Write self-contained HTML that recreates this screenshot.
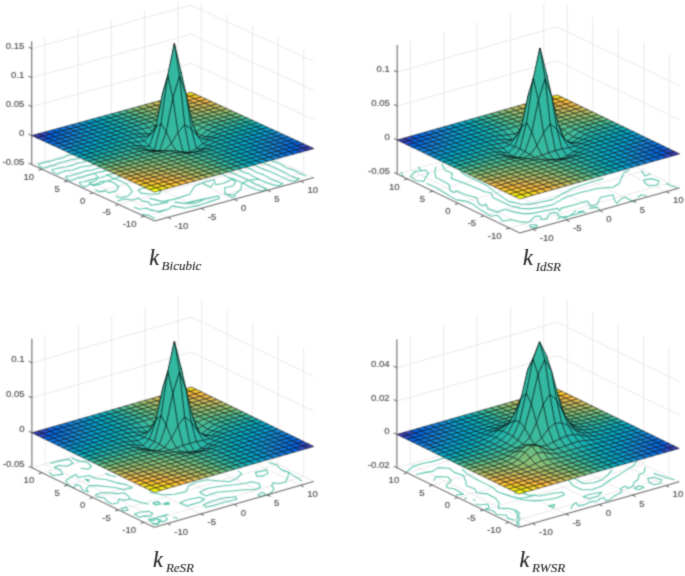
<!DOCTYPE html>
<html><head><meta charset="utf-8"><title>kernels</title>
<style>html,body{margin:0;padding:0;background:#fff;}svg{display:block;}</style></head>
<body>
<svg width="685" height="576" viewBox="0 0 685 576">
<defs><filter id="b" filterUnits="userSpaceOnUse" x="-10" y="-10" width="705" height="596" color-interpolation-filters="sRGB"><feConvolveMatrix order="5" kernelMatrix="0.00004 0.00117 0.00370 0.00117 0.00004 0.00117 0.03677 0.11586 0.03677 0.00117 0.00370 0.11586 0.36513 0.11586 0.00370 0.00117 0.03677 0.11586 0.03677 0.00117 0.00004 0.00117 0.00370 0.00117 0.00004" edgeMode="duplicate" preserveAlpha="true"/></filter><filter id="b2" filterUnits="userSpaceOnUse" x="-10" y="-10" width="705" height="596" color-interpolation-filters="sRGB"><feConvolveMatrix order="5" kernelMatrix="0.00000 0.00006 0.00035 0.00006 0.00000 0.00006 0.01430 0.09087 0.01430 0.00006 0.00035 0.09087 0.57743 0.09087 0.00035 0.00006 0.01430 0.09087 0.01430 0.00006 0.00000 0.00006 0.00035 0.00006 0.00000" edgeMode="none" preserveAlpha="false"/></filter></defs>
<rect width="685" height="576" fill="#fff"/>
<g filter="url(#b)">
<rect x="-10" y="-10" width="705" height="596" fill="#fff"/>
<g><path d="M167.88 217.38L45 160.98M144.36 216.3L303.72 172.91M45 160.98L45 37.56M303.72 172.91L303.72 49.48M201.08 208.34L78.2 151.94M118.76 204.55L278.12 161.16M78.2 151.94L78.2 28.52M278.12 161.16L278.12 37.73M234.28 199.3L111.4 142.9M93.16 192.8L252.52 149.41M111.4 142.9L111.4 19.48M252.52 149.41L252.52 25.98M267.48 190.26L144.6 133.86M67.56 181.05L226.92 137.66M144.6 133.86L144.6 10.44M226.92 137.66L226.92 14.23M300.68 181.22L177.8 124.82M41.96 169.3L201.32 125.91M177.8 124.82L177.8 1.4M201.32 125.91L201.32 2.48M31.72 164.6L191.08 121.21M191.08 121.21L313.96 177.61M31.72 135.6L191.08 92.21M191.08 92.21L313.96 148.61M31.72 106.6L191.08 63.21M191.08 63.21L313.96 119.61M31.72 77.6L191.08 34.21M191.08 34.21L313.96 90.61M31.72 48.6L191.08 5.21M191.08 5.21L313.96 61.61" stroke="#e3e3e3" stroke-width="0.8" fill="none"/>
<path d="M38.99 166.11L38.42 164.01L43.36 162.85L48.29 161.59L53.23 160.47L58.16 158.85L63.09 157.78L68.03 155.16L72.96 154.46M38.99 166.11L43.23 168.21L48.51 166.36L53.79 165.29L59.08 162.74L64.36 161.82L69.65 160.08L74.93 159.07L80.22 157.69M52.68 171.81L52.12 169.51L57.17 168.44L62.22 167.17L67.27 166.71L72.32 165.13L77.37 162.9L82.42 162.45L87.47 160.15M52.68 171.81L56.92 174.12L62.32 171.96L67.72 170.32L73.12 170.1L78.52 167.7L83.93 166.25L89.33 165.89L94.73 164.27M66.37 178.59L65.81 176.28L70.98 175.85L76.14 173.85L81.31 172.65L86.48 170.58L91.65 170.24L96.82 168.49L101.98 167.49M66.37 178.59L70.61 180.89L76.13 178.55L81.65 177.15L87.17 175.38L92.68 173.86L98.2 172.25L103.72 171.1L109.24 170.04M80.06 184.62L79.5 182.25L84.79 181.79L90.07 179.88L95.36 178.41L100.64 177.71L105.92 175.8L111.21 174.14L116.49 172.95M80.06 184.62L84.3 186.99L89.94 184.55L95.57 184.34L101.21 181.45L106.84 180.97L112.48 179.59L118.11 176.88L123.75 176.46M95.44 174.52L98.51 177.59L95.44 180.66L89.31 182.7L93.4 185.77L101.57 183.72L106.68 180.66L113.84 182.7L118.95 186.79L115.88 190.87L108.73 192.92L105.66 190.87L99.53 191.9L95.44 189.85M106.68 174.52L111.79 177.59L119.97 180.66L126.1 183.72L130.19 187.81L132.23 191.9L128.14 195.98L119.97 198.03L115.88 195.98M138.36 189.85L144.49 187.81L154.71 188.83L160.84 190.87L158.8 193.94L148.58 193.94L140.41 192.92L138.36 189.85M117.92 201.09L124.06 199.05L132.23 200.07L138.36 198.03L142.45 201.09L148.58 202.12L150.62 205.18L158.8 204.16L168 202.12M134.27 207.22L139.38 209.27L146.54 208.25L150.62 210.29L158.8 211.31L168 209.27M142.45 214.38L148.58 215.4L154.71 218.47M262.02 190.93L255.9 189.52L250.36 187.23L244.35 183.77L238.71 181.22L233.12 178.81L227.92 177.36L221.8 173.62M262.02 190.93L266.66 188.87L260.6 186.29L254.44 183.47L247.92 179.75L241.76 176.93L235.7 174.35L229.69 171.88M278.4 185.91L272.33 184.62L266.79 182.85L260.91 180.2L255.03 177.57L248.62 173.63L243.25 172.26L236.83 168.26M278.4 185.91L282.99 183.73L276.74 181.18L270.51 178.69L263.75 174.88L257.69 172.8L251.05 169.29L244.5 165.99M294.96 181.33L289.03 180.41L282.79 177.37L276.56 174.38L270.44 171.65L264.6 169.62L258.62 167.25L251.96 163.17M294.96 181.33L299.4 178.78L293.29 177.11L286.36 173.37L279.63 170.12L272.87 166.81L266.42 164.27L259.9 161.56M305.69 176.1L299.26 173.1L292.63 169.6L286.73 167.94L279.8 163.67L273.66 161.41L267.45 158.97M150 198.4L162.41 201.63L174.82 199.14L189.71 194.18L194.68 185.99L205.85 181.77L214.04 179.78L215.77 184.75L223.22 183.51L231.91 179.29L235.63 181.77L233.15 185.99L224.46 187.73L225.7 194.18L234.39 194.68L240.59 189.71L241.83 183.51L248.04 180.28L259.21 179.29M150 209.57L159.93 212.05L167.37 209.57L172.34 205.85L184.75 208.33L199.64 205.1L212.05 200.88L219.5 198.4L218.26 195.92L207.09 198.4L194.68 200.88L184.75 203.36L174.82 202.12M187.23 203.36L197.16 202.62L203.36 199.64M203.36 183.51L210.81 187.23L213.29 183.51M224.46 193.44L231.91 197.16L235.63 195.92" stroke="#5cc4ae" stroke-width="1.1" fill="none" stroke-linecap="round" stroke-linejoin="round"/>
<g stroke="#000" stroke-width="0.5" stroke-opacity="1" stroke-linejoin="round"><polygon points="189.56,96.37 196.2,94.56 191.08,92.21 184.44,94.02" fill="#f7d826"/><polygon points="194.68,98.72 201.32,96.91 196.2,94.56 189.56,96.37" fill="#fdcb30"/><polygon points="199.8,101.07 206.44,99.26 201.32,96.91 194.68,98.72" fill="#febf3c"/><polygon points="204.92,103.42 211.56,101.61 206.44,99.26 199.8,101.07" fill="#efb94b"/><polygon points="210.04,105.77 216.68,103.96 211.56,101.61 204.92,103.42" fill="#dcba54"/><polygon points="215.16,108.12 221.8,106.31 216.68,103.96 210.04,105.77" fill="#c8bc5d"/><polygon points="220.28,110.47 226.92,108.66 221.8,106.31 215.16,108.12" fill="#b3bd65"/><polygon points="225.4,112.82 232.04,111.01 226.92,108.66 220.28,110.47" fill="#9dbf6e"/><polygon points="230.52,115.17 237.16,113.36 232.04,111.01 225.4,112.82" fill="#84bf78"/><polygon points="235.64,117.52 242.28,115.71 237.16,113.36 230.52,115.17" fill="#69be84"/><polygon points="240.76,119.87 247.4,118.06 242.28,115.71 235.64,117.52" fill="#4cbc92"/><polygon points="245.88,122.22 252.52,120.41 247.4,118.06 240.76,119.87" fill="#33b8a1"/><polygon points="251,124.57 257.64,122.76 252.52,120.41 245.88,122.22" fill="#1eb3ae"/><polygon points="256.12,126.92 262.76,125.11 257.64,122.76 251,124.57" fill="#0daeba"/><polygon points="261.24,129.27 267.88,127.46 262.76,125.11 256.12,126.92" fill="#06a7c5"/><polygon points="266.36,131.62 273,129.81 267.88,127.46 261.24,129.27" fill="#06a0cd"/><polygon points="271.48,133.97 278.12,132.16 273,129.81 266.36,131.62" fill="#0b96d1"/><polygon points="276.6,136.32 283.24,134.51 278.12,132.16 271.48,133.97" fill="#1389d3"/><polygon points="281.72,138.67 288.36,136.86 283.24,134.51 276.6,136.32" fill="#137fd7"/><polygon points="286.84,141.02 293.48,139.21 288.36,136.86 281.72,138.67" fill="#0e76dc"/><polygon points="291.96,143.37 298.6,141.56 293.48,139.21 286.84,141.02" fill="#046ce0"/><polygon points="297.08,145.72 303.72,143.91 298.6,141.56 291.96,143.37" fill="#0a5fdf"/><polygon points="302.2,148.07 308.84,146.26 303.72,143.91 297.08,145.72" fill="#2b4bc7"/><polygon points="307.32,150.42 313.96,148.61 308.84,146.26 302.2,148.07" fill="#353aa8"/><polygon points="182.92,98.17 189.56,96.37 184.44,94.02 177.8,95.82" fill="#fdcb30"/><polygon points="188.04,100.52 194.68,98.72 189.56,96.37 182.92,98.17" fill="#fec03b"/><polygon points="193.16,102.87 199.8,101.07 194.68,98.72 188.04,100.52" fill="#f2b949"/><polygon points="198.28,105.22 204.92,103.42 199.8,101.07 193.16,102.87" fill="#e1b952"/><polygon points="203.4,107.57 210.04,105.77 204.92,103.42 198.28,105.22" fill="#cfbb5a"/><polygon points="208.52,109.92 215.16,108.12 210.04,105.77 203.4,107.57" fill="#bdbd61"/><polygon points="213.64,112.27 220.28,110.47 215.16,108.12 208.52,109.92" fill="#a9be69"/><polygon points="218.76,114.62 225.4,112.82 220.28,110.47 213.64,112.27" fill="#94bf72"/><polygon points="223.88,116.97 230.52,115.17 225.4,112.82 218.76,114.62" fill="#7dbf7b"/><polygon points="229,119.32 235.64,117.52 230.52,115.17 223.88,116.97" fill="#63be86"/><polygon points="234.12,121.67 240.76,119.87 235.64,117.52 229,119.32" fill="#4abc94"/><polygon points="239.24,124.02 245.88,122.22 240.76,119.87 234.12,121.67" fill="#33b8a1"/><polygon points="244.36,126.37 251,124.57 245.88,122.22 239.24,124.02" fill="#1fb4ad"/><polygon points="249.48,128.72 256.12,126.92 251,124.57 244.36,126.37" fill="#10afb8"/><polygon points="254.6,131.07 261.24,129.27 256.12,126.92 249.48,128.72" fill="#07a9c2"/><polygon points="259.72,133.42 266.36,131.62 261.24,129.27 254.6,131.07" fill="#06a3cb"/><polygon points="264.84,135.77 271.48,133.97 266.36,131.62 259.72,133.42" fill="#089bd0"/><polygon points="269.96,138.12 276.6,136.32 271.48,133.97 264.84,135.77" fill="#0f90d2"/><polygon points="275.08,140.47 281.72,138.67 276.6,136.32 269.96,138.12" fill="#1485d4"/><polygon points="280.2,142.82 286.84,141.02 281.72,138.67 275.08,140.47" fill="#127dd8"/><polygon points="285.32,145.17 291.96,143.37 286.84,141.02 280.2,142.82" fill="#0c74dd"/><polygon points="290.44,147.52 297.08,145.72 291.96,143.37 285.32,145.17" fill="#036be0"/><polygon points="295.56,149.87 302.2,148.07 297.08,145.72 290.44,147.52" fill="#0a5fdf"/><polygon points="300.68,152.22 307.32,150.42 302.2,148.07 295.56,149.87" fill="#294cca"/><polygon points="176.28,99.98 182.92,98.17 177.8,95.82 171.16,97.63" fill="#febf3c"/><polygon points="181.4,102.33 188.04,100.52 182.92,98.17 176.28,99.98" fill="#f2b949"/><polygon points="186.52,104.68 193.16,102.87 188.04,100.52 181.4,102.33" fill="#e3b951"/><polygon points="191.64,107.03 198.28,105.22 193.16,102.87 186.52,104.68" fill="#d3bb58"/><polygon points="196.76,109.38 203.4,107.57 198.28,105.22 191.64,107.03" fill="#c2bc5f"/><polygon points="201.88,111.73 208.52,109.92 203.4,107.57 196.76,109.38" fill="#b1bd66"/><polygon points="207,114.08 213.64,112.27 208.52,109.92 201.88,111.73" fill="#9fbe6d"/><polygon points="212.12,116.43 218.76,114.62 213.64,112.27 207,114.08" fill="#8bbf75"/><polygon points="217.24,118.78 223.88,116.97 218.76,114.62 212.12,116.43" fill="#75bf7e"/><polygon points="222.36,121.13 229,119.32 223.88,116.97 217.24,118.78" fill="#5ebe89"/><polygon points="227.48,123.48 234.12,121.67 229,119.32 222.36,121.13" fill="#47bb95"/><polygon points="232.6,125.83 239.24,124.02 234.12,121.67 227.48,123.48" fill="#33b8a1"/><polygon points="237.72,128.18 244.36,126.37 239.24,124.02 232.6,125.83" fill="#21b4ac"/><polygon points="242.84,130.53 249.48,128.72 244.36,126.37 237.72,128.18" fill="#13b0b6"/><polygon points="247.96,132.88 254.6,131.07 249.48,128.72 242.84,130.53" fill="#09abbf"/><polygon points="253.08,135.23 259.72,133.42 254.6,131.07 247.96,132.88" fill="#06a6c7"/><polygon points="258.2,137.58 264.84,135.77 259.72,133.42 253.08,135.23" fill="#069fce"/><polygon points="263.32,139.93 269.96,138.12 264.84,135.77 258.2,137.58" fill="#0a97d1"/><polygon points="268.44,142.28 275.08,140.47 269.96,138.12 263.32,139.93" fill="#118dd2"/><polygon points="273.56,144.63 280.2,142.82 275.08,140.47 268.44,142.28" fill="#1484d4"/><polygon points="278.68,146.98 285.32,145.17 280.2,142.82 273.56,144.63" fill="#127cd8"/><polygon points="283.8,149.33 290.44,147.52 285.32,145.17 278.68,146.98" fill="#0c74dd"/><polygon points="288.92,151.68 295.56,149.87 290.44,147.52 283.8,149.33" fill="#046ce0"/><polygon points="294.04,154.03 300.68,152.22 295.56,149.87 288.92,151.68" fill="#0462e0"/><polygon points="169.64,101.79 176.28,99.98 171.16,97.63 164.52,99.44" fill="#efb94b"/><polygon points="174.76,104.14 181.4,102.33 176.28,99.98 169.64,101.79" fill="#e1b952"/><polygon points="179.88,106.49 186.52,104.68 181.4,102.33 174.76,104.14" fill="#d3bb58"/><polygon points="185,108.84 191.64,107.03 186.52,104.68 179.88,106.49" fill="#c4bc5e"/><polygon points="190.12,111.19 196.76,109.38 191.64,107.03 185,108.84" fill="#b5bd64"/><polygon points="195.24,113.54 201.88,111.73 196.76,109.38 190.12,111.19" fill="#a5be6b"/><polygon points="200.36,115.89 207,114.08 201.88,111.73 195.24,113.54" fill="#94bf72"/><polygon points="205.48,118.24 212.12,116.43 207,114.08 200.36,115.89" fill="#82bf79"/><polygon points="210.6,120.59 217.24,118.78 212.12,116.43 205.48,118.24" fill="#6ebf82"/><polygon points="215.72,122.94 222.36,121.13 217.24,118.78 210.6,120.59" fill="#59bd8c"/><polygon points="220.84,125.29 227.48,123.48 222.36,121.13 215.72,122.94" fill="#45bb96"/><polygon points="225.96,127.64 232.6,125.83 227.48,123.48 220.84,125.29" fill="#33b8a1"/><polygon points="231.08,129.99 237.72,128.18 232.6,125.83 225.96,127.64" fill="#23b4ab"/><polygon points="236.2,132.34 242.84,130.53 237.72,128.18 231.08,129.99" fill="#15b1b4"/><polygon points="241.32,134.69 247.96,132.88 242.84,130.53 236.2,132.34" fill="#0badbc"/><polygon points="246.44,137.04 253.08,135.23 247.96,132.88 241.32,134.69" fill="#06a8c4"/><polygon points="251.56,139.39 258.2,137.58 253.08,135.23 246.44,137.04" fill="#06a3cb"/><polygon points="256.68,141.74 263.32,139.93 258.2,137.58 251.56,139.39" fill="#079ccf"/><polygon points="261.8,144.09 268.44,142.28 263.32,139.93 256.68,141.74" fill="#0c94d2"/><polygon points="266.92,146.44 273.56,144.63 268.44,142.28 261.8,144.09" fill="#128cd2"/><polygon points="272.04,148.79 278.68,146.98 273.56,144.63 266.92,146.44" fill="#1484d4"/><polygon points="277.16,151.14 283.8,149.33 278.68,146.98 272.04,148.79" fill="#127dd8"/><polygon points="282.28,153.49 288.92,151.68 283.8,149.33 277.16,151.14" fill="#0e76dc"/><polygon points="287.4,155.84 294.04,154.03 288.92,151.68 282.28,153.49" fill="#066fdf"/><polygon points="163,103.6 169.64,101.79 164.52,99.44 157.88,101.25" fill="#dcba54"/><polygon points="168.12,105.95 174.76,104.14 169.64,101.79 163,103.6" fill="#cfbb5a"/><polygon points="173.24,108.3 179.88,106.49 174.76,104.14 168.12,105.95" fill="#c2bc5f"/><polygon points="178.36,110.65 185,108.84 179.88,106.49 173.24,108.3" fill="#b5bd64"/><polygon points="183.48,113 190.12,111.19 185,108.84 178.36,110.65" fill="#a7be6a"/><polygon points="188.6,115.35 195.24,113.54 190.12,111.19 183.48,113" fill="#98bf70"/><polygon points="193.72,117.7 200.36,115.89 195.24,113.54 188.6,115.35" fill="#89bf76"/><polygon points="198.84,120.05 205.48,118.24 200.36,115.89 193.72,117.7" fill="#78bf7d"/><polygon points="203.96,122.41 210.6,120.59 205.48,118.24 198.84,120.05" fill="#66be85"/><polygon points="209.08,124.78 215.72,122.94 210.6,120.59 203.96,122.41" fill="#54bd8e"/><polygon points="214.2,127.14 220.84,125.29 215.72,122.94 209.08,124.78" fill="#42bb98"/><polygon points="219.32,129.48 225.96,127.64 220.84,125.29 214.2,127.14" fill="#33b8a1"/><polygon points="224.44,131.81 231.08,129.99 225.96,127.64 219.32,129.48" fill="#25b5aa"/><polygon points="229.56,134.15 236.2,132.34 231.08,129.99 224.44,131.81" fill="#19b2b2"/><polygon points="234.68,136.5 241.32,134.69 236.2,132.34 229.56,134.15" fill="#0faeb9"/><polygon points="239.8,138.85 246.44,137.04 241.32,134.69 234.68,136.5" fill="#08aac0"/><polygon points="244.92,141.2 251.56,139.39 246.44,137.04 239.8,138.85" fill="#06a6c7"/><polygon points="250.04,143.55 256.68,141.74 251.56,139.39 244.92,141.2" fill="#06a1cc"/><polygon points="255.16,145.9 261.8,144.09 256.68,141.74 250.04,143.55" fill="#079cd0"/><polygon points="260.28,148.25 266.92,146.44 261.8,144.09 255.16,145.9" fill="#0c94d2"/><polygon points="265.4,150.6 272.04,148.79 266.92,146.44 260.28,148.25" fill="#118dd2"/><polygon points="270.52,152.95 277.16,151.14 272.04,148.79 265.4,150.6" fill="#1485d4"/><polygon points="275.64,155.3 282.28,153.49 277.16,151.14 270.52,152.95" fill="#137fd7"/><polygon points="280.76,157.65 287.4,155.84 282.28,153.49 275.64,155.3" fill="#1079da"/><polygon points="156.36,105.41 163,103.6 157.88,101.25 151.24,103.06" fill="#c8bc5d"/><polygon points="161.48,107.76 168.12,105.95 163,103.6 156.36,105.41" fill="#bdbd61"/><polygon points="166.6,110.11 173.24,108.3 168.12,105.95 161.48,107.76" fill="#b1bd66"/><polygon points="171.72,112.46 178.36,110.65 173.24,108.3 166.6,110.11" fill="#a5be6b"/><polygon points="176.84,114.81 183.48,113 178.36,110.65 171.72,112.46" fill="#98bf70"/><polygon points="181.96,117.15 188.6,115.35 183.48,113 176.84,114.81" fill="#8bbf75"/><polygon points="187.08,119.48 193.72,117.7 188.6,115.35 181.96,117.15" fill="#7dbf7b"/><polygon points="192.2,121.85 198.84,120.05 193.72,117.7 187.08,119.48" fill="#6ebf82"/><polygon points="197.32,124.58 203.96,122.41 198.84,120.05 192.2,121.85" fill="#5ebe89"/><polygon points="202.44,127.55 209.08,124.78 203.96,122.41 197.32,124.58" fill="#4fbc91"/><polygon points="207.56,130.27 214.2,127.14 209.08,124.78 202.44,127.55" fill="#40ba99"/><polygon points="212.68,132.25 219.32,129.48 214.2,127.14 207.56,130.27" fill="#33b8a1"/><polygon points="217.8,133.98 224.44,131.81 219.32,129.48 212.68,132.25" fill="#27b5a8"/><polygon points="222.92,135.95 229.56,134.15 224.44,131.81 217.8,133.98" fill="#1cb3b0"/><polygon points="228.04,138.28 234.68,136.5 229.56,134.15 222.92,135.95" fill="#13b0b6"/><polygon points="233.16,140.65 239.8,138.85 234.68,136.5 228.04,138.28" fill="#0badbc"/><polygon points="238.28,143.01 244.92,141.2 239.8,138.85 233.16,140.65" fill="#07a9c2"/><polygon points="243.4,145.36 250.04,143.55 244.92,141.2 238.28,143.01" fill="#06a6c7"/><polygon points="248.52,147.71 255.16,145.9 250.04,143.55 243.4,145.36" fill="#06a1cc"/><polygon points="253.64,150.06 260.28,148.25 255.16,145.9 248.52,147.71" fill="#079ccf"/><polygon points="258.76,152.41 265.4,150.6 260.28,148.25 253.64,150.06" fill="#0a97d1"/><polygon points="263.88,154.76 270.52,152.95 265.4,150.6 258.76,152.41" fill="#0f90d2"/><polygon points="269,157.11 275.64,155.3 270.52,152.95 263.88,154.76" fill="#1389d3"/><polygon points="274.12,159.46 280.76,157.65 275.64,155.3 269,157.11" fill="#1484d4"/><polygon points="149.72,107.21 156.36,105.41 151.24,103.06 144.6,104.86" fill="#b3bd65"/><polygon points="154.84,109.56 161.48,107.76 156.36,105.41 149.72,107.21" fill="#a9be69"/><polygon points="159.96,111.91 166.6,110.11 161.48,107.76 154.84,109.56" fill="#9fbe6d"/><polygon points="165.08,114.26 171.72,112.46 166.6,110.11 159.96,111.91" fill="#94bf72"/><polygon points="170.2,116.61 176.84,114.81 171.72,112.46 165.08,114.26" fill="#89bf76"/><polygon points="175.32,118.94 181.96,117.15 176.84,114.81 170.2,116.61" fill="#7dbf7b"/><polygon points="180.44,121.27 187.08,119.48 181.96,117.15 175.32,118.94" fill="#70bf81"/><polygon points="185.56,123.82 192.2,121.85 187.08,119.48 180.44,121.27" fill="#63be86"/><polygon points="190.68,127.56 197.32,124.58 192.2,121.85 185.56,123.82" fill="#56bd8d"/><polygon points="195.8,131.99 202.44,127.55 197.32,124.58 190.68,127.56" fill="#4abc94"/><polygon points="200.92,135.59 207.56,130.27 202.44,127.55 195.8,131.99" fill="#3eba9a"/><polygon points="206.04,136.69 212.68,132.25 207.56,130.27 200.92,135.59" fill="#33b8a1"/><polygon points="211.16,136.96 217.8,133.98 212.68,132.25 206.04,136.69" fill="#29b6a7"/><polygon points="216.28,137.92 222.92,135.95 217.8,133.98 211.16,136.96" fill="#1fb4ad"/><polygon points="221.4,140.07 228.04,138.28 222.92,135.95 216.28,137.92" fill="#17b1b3"/><polygon points="226.52,142.44 233.16,140.65 228.04,138.28 221.4,140.07" fill="#10afb8"/><polygon points="231.64,144.81 238.28,143.01 233.16,140.65 226.52,142.44" fill="#0aacbd"/><polygon points="236.76,147.16 243.4,145.36 238.28,143.01 231.64,144.81" fill="#07a9c2"/><polygon points="241.88,149.51 248.52,147.71 243.4,145.36 236.76,147.16" fill="#06a6c7"/><polygon points="247,151.86 253.64,150.06 248.52,147.71 241.88,149.51" fill="#06a3cb"/><polygon points="252.12,154.21 258.76,152.41 253.64,150.06 247,151.86" fill="#069fce"/><polygon points="257.24,156.56 263.88,154.76 258.76,152.41 252.12,154.21" fill="#089bd0"/><polygon points="262.36,158.91 269,157.11 263.88,154.76 257.24,156.56" fill="#0b96d1"/><polygon points="267.48,161.26 274.12,159.46 269,157.11 262.36,158.91" fill="#0f90d2"/><polygon points="143.08,109.02 149.72,107.21 144.6,104.86 137.96,106.67" fill="#9dbf6e"/><polygon points="148.2,111.37 154.84,109.56 149.72,107.21 143.08,109.02" fill="#94bf72"/><polygon points="153.32,113.72 159.96,111.91 154.84,109.56 148.2,111.37" fill="#8bbf75"/><polygon points="158.44,116.07 165.08,114.26 159.96,111.91 153.32,113.72" fill="#82bf79"/><polygon points="163.56,118.43 170.2,116.61 165.08,114.26 158.44,116.07" fill="#78bf7d"/><polygon points="168.68,120.77 175.32,118.94 170.2,116.61 163.56,118.43" fill="#6ebf82"/><polygon points="173.8,123.27 180.44,121.27 175.32,118.94 168.68,120.77" fill="#63be86"/><polygon points="178.92,126 185.56,123.82 180.44,121.27 173.8,123.27" fill="#59bd8c"/><polygon points="184.04,130.18 190.68,127.56 185.56,123.82 178.92,126" fill="#4fbc91"/><polygon points="189.16,135.52 195.8,131.99 190.68,127.56 184.04,130.18" fill="#45bb96"/><polygon points="194.28,139.86 200.92,135.59 195.8,131.99 189.16,135.52" fill="#3bba9c"/><polygon points="199.4,140.22 206.04,136.69 200.92,135.59 194.28,139.86" fill="#33b8a1"/><polygon points="204.52,139.58 211.16,136.96 206.04,136.69 199.4,140.22" fill="#2bb6a6"/><polygon points="209.64,140.1 216.28,137.92 211.16,136.96 204.52,139.58" fill="#23b4ab"/><polygon points="214.76,142.07 221.4,140.07 216.28,137.92 209.64,140.1" fill="#1cb3b0"/><polygon points="219.88,144.27 226.52,142.44 221.4,140.07 214.76,142.07" fill="#15b1b4"/><polygon points="225,146.63 231.64,144.81 226.52,142.44 219.88,144.27" fill="#10afb8"/><polygon points="230.12,148.97 236.76,147.16 231.64,144.81 225,146.63" fill="#0badbc"/><polygon points="235.24,151.32 241.88,149.51 236.76,147.16 230.12,148.97" fill="#08aac0"/><polygon points="240.36,153.67 247,151.86 241.88,149.51 235.24,151.32" fill="#06a8c4"/><polygon points="245.48,156.02 252.12,154.21 247,151.86 240.36,153.67" fill="#06a6c7"/><polygon points="250.6,158.37 257.24,156.56 252.12,154.21 245.48,156.02" fill="#06a3cb"/><polygon points="255.72,160.72 262.36,158.91 257.24,156.56 250.6,158.37" fill="#06a0cd"/><polygon points="260.84,163.07 267.48,161.26 262.36,158.91 255.72,160.72" fill="#079ccf"/><polygon points="136.44,110.83 143.08,109.02 137.96,106.67 131.32,108.48" fill="#84bf78"/><polygon points="141.56,113.18 148.2,111.37 143.08,109.02 136.44,110.83" fill="#7dbf7b"/><polygon points="146.68,115.53 153.32,113.72 148.2,111.37 141.56,113.18" fill="#75bf7e"/><polygon points="151.8,117.88 158.44,116.07 153.32,113.72 146.68,115.53" fill="#6ebf82"/><polygon points="156.92,120.24 163.56,118.43 158.44,116.07 151.8,117.88" fill="#66be85"/><polygon points="162.04,122.96 168.68,120.77 163.56,118.43 156.92,120.24" fill="#5ebe89"/><polygon points="167.16,126.48 173.8,123.27 168.68,120.77 162.04,122.96" fill="#56bd8d"/><polygon points="172.28,129.64 178.92,126 173.8,123.27 167.16,126.48" fill="#4fbc91"/><polygon points="177.4,126.81 184.04,130.18 178.92,126 172.28,129.64" fill="#47bb95"/><polygon points="182.52,119.99 189.16,135.52 184.04,130.18 177.4,126.81" fill="#40ba99"/><polygon points="187.64,116.51 194.28,139.86 189.16,135.52 182.52,119.99" fill="#39b99d"/><polygon points="192.76,124.69 199.4,140.22 194.28,139.86 187.64,116.51" fill="#33b8a1"/><polygon points="197.88,136.21 204.52,139.58 199.4,140.22 192.76,124.69" fill="#2db7a5"/><polygon points="203,143.74 209.64,140.1 204.52,139.58 197.88,136.21" fill="#27b5a8"/><polygon points="208.12,145.28 214.76,142.07 209.64,140.1 203,143.74" fill="#21b4ac"/><polygon points="213.24,146.46 219.88,144.27 214.76,142.07 208.12,145.28" fill="#1cb3b0"/><polygon points="218.36,148.44 225,146.63 219.88,144.27 213.24,146.46" fill="#17b1b3"/><polygon points="223.48,150.78 230.12,148.97 225,146.63 218.36,148.44" fill="#13b0b6"/><polygon points="228.6,153.13 235.24,151.32 230.12,148.97 223.48,150.78" fill="#0faeb9"/><polygon points="233.72,155.48 240.36,153.67 235.24,151.32 228.6,153.13" fill="#0badbc"/><polygon points="238.84,157.83 245.48,156.02 240.36,153.67 233.72,155.48" fill="#09abbf"/><polygon points="243.96,160.18 250.6,158.37 245.48,156.02 238.84,157.83" fill="#07a9c2"/><polygon points="249.08,162.53 255.72,160.72 250.6,158.37 243.96,160.18" fill="#06a7c5"/><polygon points="254.2,164.88 260.84,163.07 255.72,160.72 249.08,162.53" fill="#06a6c7"/><polygon points="129.8,112.64 136.44,110.83 131.32,108.48 124.68,110.29" fill="#69be84"/><polygon points="134.92,114.99 141.56,113.18 136.44,110.83 129.8,112.64" fill="#63be86"/><polygon points="140.04,117.34 146.68,115.53 141.56,113.18 134.92,114.99" fill="#5ebe89"/><polygon points="145.16,119.69 151.8,117.88 146.68,115.53 140.04,117.34" fill="#59bd8c"/><polygon points="150.28,122.07 156.92,120.24 151.8,117.88 145.16,119.69" fill="#54bd8e"/><polygon points="155.4,125.38 162.04,122.96 156.92,120.24 150.28,122.07" fill="#4fbc91"/><polygon points="160.52,130.36 167.16,126.48 162.04,122.96 155.4,125.38" fill="#4abc94"/><polygon points="165.64,134.44 172.28,129.64 167.16,126.48 160.52,130.36" fill="#45bb96"/><polygon points="170.76,119.45 177.4,126.81 172.28,129.64 165.64,134.44" fill="#40ba99"/><polygon points="175.88,90.15 182.52,119.99 177.4,126.81 170.76,119.45" fill="#3bba9c"/><polygon points="181,71.93 187.64,116.51 182.52,119.99 175.88,90.15" fill="#37b99e"/><polygon points="186.12,94.85 192.76,124.69 187.64,116.51 181,71.93" fill="#33b8a1"/><polygon points="191.24,128.85 197.88,136.21 192.76,124.69 186.12,94.85" fill="#2fb7a3"/><polygon points="196.36,148.54 203,143.74 197.88,136.21 191.24,128.85" fill="#2bb6a6"/><polygon points="201.48,149.16 208.12,145.28 203,143.74 196.36,148.54" fill="#27b5a8"/><polygon points="206.6,148.88 213.24,146.46 208.12,145.28 201.48,149.16" fill="#23b4ab"/><polygon points="211.72,150.27 218.36,148.44 213.24,146.46 206.6,148.88" fill="#1fb4ad"/><polygon points="216.84,152.59 223.48,150.78 218.36,148.44 211.72,150.27" fill="#1cb3b0"/><polygon points="221.96,154.94 228.6,153.13 223.48,150.78 216.84,152.59" fill="#19b2b2"/><polygon points="227.08,157.29 233.72,155.48 228.6,153.13 221.96,154.94" fill="#15b1b4"/><polygon points="232.2,159.64 238.84,157.83 233.72,155.48 227.08,157.29" fill="#13b0b6"/><polygon points="237.32,161.99 243.96,160.18 238.84,157.83 232.2,159.64" fill="#10afb8"/><polygon points="242.44,164.34 249.08,162.53 243.96,160.18 237.32,161.99" fill="#0daeba"/><polygon points="247.56,166.69 254.2,164.88 249.08,162.53 242.44,164.34" fill="#0badbc"/><polygon points="123.16,114.45 129.8,112.64 124.68,110.29 118.04,112.1" fill="#4cbc92"/><polygon points="128.28,116.8 134.92,114.99 129.8,112.64 123.16,114.45" fill="#4abc94"/><polygon points="133.4,119.15 140.04,117.34 134.92,114.99 128.28,116.8" fill="#47bb95"/><polygon points="138.52,121.5 145.16,119.69 140.04,117.34 133.4,119.15" fill="#45bb96"/><polygon points="143.64,123.89 150.28,122.07 145.16,119.69 138.52,121.5" fill="#42bb98"/><polygon points="148.76,127.56 155.4,125.38 150.28,122.07 143.64,123.89" fill="#40ba99"/><polygon points="153.88,133.43 160.52,130.36 155.4,125.38 148.76,127.56" fill="#3eba9a"/><polygon points="159,138.23 165.64,134.44 160.52,130.36 153.88,133.43" fill="#3bba9c"/><polygon points="164.12,115.42 170.76,119.45 165.64,134.44 159,138.23" fill="#39b99d"/><polygon points="169.24,71.39 175.88,90.15 170.76,119.45 164.12,115.42" fill="#37b99e"/><polygon points="174.36,43.52 181,71.93 175.88,90.15 169.24,71.39" fill="#35b8a0"/><polygon points="179.48,76.09 186.12,94.85 181,71.93 174.36,43.52" fill="#33b8a1"/><polygon points="184.6,124.82 191.24,128.85 186.12,94.85 179.48,76.09" fill="#31b8a2"/><polygon points="189.72,152.33 196.36,148.54 191.24,128.85 184.6,124.82" fill="#2fb7a3"/><polygon points="194.84,152.23 201.48,149.16 196.36,148.54 189.72,152.33" fill="#2db7a5"/><polygon points="199.96,151.06 206.6,148.88 201.48,149.16 194.84,152.23" fill="#2bb6a6"/><polygon points="205.08,152.09 211.72,150.27 206.6,148.88 199.96,151.06" fill="#29b6a7"/><polygon points="210.2,154.4 216.84,152.59 211.72,150.27 205.08,152.09" fill="#27b5a8"/><polygon points="215.32,156.75 221.96,154.94 216.84,152.59 210.2,154.4" fill="#25b5aa"/><polygon points="220.44,159.1 227.08,157.29 221.96,154.94 215.32,156.75" fill="#23b4ab"/><polygon points="225.56,161.45 232.2,159.64 227.08,157.29 220.44,159.1" fill="#21b4ac"/><polygon points="230.68,163.8 237.32,161.99 232.2,159.64 225.56,161.45" fill="#1fb4ad"/><polygon points="235.8,166.15 242.44,164.34 237.32,161.99 230.68,163.8" fill="#1eb3ae"/><polygon points="240.92,168.5 247.56,166.69 242.44,164.34 235.8,166.15" fill="#1cb3b0"/><polygon points="116.52,116.25 123.16,114.45 118.04,112.1 111.4,113.9" fill="#33b8a1"/><polygon points="121.64,118.6 128.28,116.8 123.16,114.45 116.52,116.25" fill="#33b8a1"/><polygon points="126.76,120.95 133.4,119.15 128.28,116.8 121.64,118.6" fill="#33b8a1"/><polygon points="131.88,123.3 138.52,121.5 133.4,119.15 126.76,120.95" fill="#33b8a1"/><polygon points="137,125.68 143.64,123.89 138.52,121.5 131.88,123.3" fill="#33b8a1"/><polygon points="142.12,129 148.76,127.56 143.64,123.89 137,125.68" fill="#33b8a1"/><polygon points="147.24,133.98 153.88,133.43 148.76,127.56 142.12,129" fill="#33b8a1"/><polygon points="152.36,138.05 159,138.23 153.88,133.43 147.24,133.98" fill="#33b8a1"/><polygon points="157.48,123.06 164.12,115.42 159,138.23 152.36,138.05" fill="#33b8a1"/><polygon points="162.6,93.76 169.24,71.39 164.12,115.42 157.48,123.06" fill="#33b8a1"/><polygon points="167.72,75.55 174.36,43.52 169.24,71.39 162.6,93.76" fill="#33b8a1"/><polygon points="172.84,98.46 179.48,76.09 174.36,43.52 167.72,75.55" fill="#33b8a1"/><polygon points="177.96,132.46 184.6,124.82 179.48,76.09 172.84,98.46" fill="#33b8a1"/><polygon points="183.08,152.15 189.72,152.33 184.6,124.82 177.96,132.46" fill="#33b8a1"/><polygon points="188.2,152.78 194.84,152.23 189.72,152.33 183.08,152.15" fill="#33b8a1"/><polygon points="193.32,152.5 199.96,151.06 194.84,152.23 188.2,152.78" fill="#33b8a1"/><polygon points="198.44,153.88 205.08,152.09 199.96,151.06 193.32,152.5" fill="#33b8a1"/><polygon points="203.56,156.2 210.2,154.4 205.08,152.09 198.44,153.88" fill="#33b8a1"/><polygon points="208.68,158.55 215.32,156.75 210.2,154.4 203.56,156.2" fill="#33b8a1"/><polygon points="213.8,160.9 220.44,159.1 215.32,156.75 208.68,158.55" fill="#33b8a1"/><polygon points="218.92,163.25 225.56,161.45 220.44,159.1 213.8,160.9" fill="#33b8a1"/><polygon points="224.04,165.6 230.68,163.8 225.56,161.45 218.92,163.25" fill="#33b8a1"/><polygon points="229.16,167.95 235.8,166.15 230.68,163.8 224.04,165.6" fill="#33b8a1"/><polygon points="234.28,170.3 240.92,168.5 235.8,166.15 229.16,167.95" fill="#33b8a1"/><polygon points="109.88,118.06 116.52,116.25 111.4,113.9 104.76,115.71" fill="#1eb3ae"/><polygon points="115,120.41 121.64,118.6 116.52,116.25 109.88,118.06" fill="#1fb4ad"/><polygon points="120.12,122.76 126.76,120.95 121.64,118.6 115,120.41" fill="#21b4ac"/><polygon points="125.24,125.11 131.88,123.3 126.76,120.95 120.12,122.76" fill="#23b4ab"/><polygon points="130.36,127.48 137,125.68 131.88,123.3 125.24,125.11" fill="#25b5aa"/><polygon points="135.48,130.19 142.12,129 137,125.68 130.36,127.48" fill="#27b5a8"/><polygon points="140.6,133.71 147.24,133.98 142.12,129 135.48,130.19" fill="#29b6a7"/><polygon points="145.72,136.87 152.36,138.05 147.24,133.98 140.6,133.71" fill="#2bb6a6"/><polygon points="150.84,134.04 157.48,123.06 152.36,138.05 145.72,136.87" fill="#2db7a5"/><polygon points="155.96,127.22 162.6,93.76 157.48,123.06 150.84,134.04" fill="#2fb7a3"/><polygon points="161.08,123.74 167.72,75.55 162.6,93.76 155.96,127.22" fill="#31b8a2"/><polygon points="166.2,131.92 172.84,98.46 167.72,75.55 161.08,123.74" fill="#33b8a1"/><polygon points="171.32,143.44 177.96,132.46 172.84,98.46 166.2,131.92" fill="#35b8a0"/><polygon points="176.44,150.97 183.08,152.15 177.96,132.46 171.32,143.44" fill="#37b99e"/><polygon points="181.56,152.51 188.2,152.78 183.08,152.15 176.44,150.97" fill="#39b99d"/><polygon points="186.68,153.69 193.32,152.5 188.2,152.78 181.56,152.51" fill="#3bba9c"/><polygon points="191.8,155.68 198.44,153.88 193.32,152.5 186.68,153.69" fill="#3eba9a"/><polygon points="196.92,158.01 203.56,156.2 198.44,153.88 191.8,155.68" fill="#40ba99"/><polygon points="202.04,160.36 208.68,158.55 203.56,156.2 196.92,158.01" fill="#42bb98"/><polygon points="207.16,162.71 213.8,160.9 208.68,158.55 202.04,160.36" fill="#45bb96"/><polygon points="212.28,165.06 218.92,163.25 213.8,160.9 207.16,162.71" fill="#47bb95"/><polygon points="217.4,167.41 224.04,165.6 218.92,163.25 212.28,165.06" fill="#4abc94"/><polygon points="222.52,169.76 229.16,167.95 224.04,165.6 217.4,167.41" fill="#4cbc92"/><polygon points="227.64,172.11 234.28,170.3 229.16,167.95 222.52,169.76" fill="#4fbc91"/><polygon points="103.24,119.87 109.88,118.06 104.76,115.71 98.12,117.52" fill="#0daeba"/><polygon points="108.36,122.22 115,120.41 109.88,118.06 103.24,119.87" fill="#10afb8"/><polygon points="113.48,124.57 120.12,122.76 115,120.41 108.36,122.22" fill="#13b0b6"/><polygon points="118.6,126.92 125.24,125.11 120.12,122.76 113.48,124.57" fill="#15b1b4"/><polygon points="123.72,129.27 130.36,127.48 125.24,125.11 118.6,126.92" fill="#19b2b2"/><polygon points="128.84,131.62 135.48,130.19 130.36,127.48 123.72,129.27" fill="#1cb3b0"/><polygon points="133.96,134.12 140.6,133.71 135.48,130.19 128.84,131.62" fill="#1fb4ad"/><polygon points="139.08,136.85 145.72,136.87 140.6,133.71 133.96,134.12" fill="#23b4ab"/><polygon points="144.2,141.03 150.84,134.04 145.72,136.87 139.08,136.85" fill="#27b5a8"/><polygon points="149.32,146.37 155.96,127.22 150.84,134.04 144.2,141.03" fill="#2bb6a6"/><polygon points="154.44,150.71 161.08,123.74 155.96,127.22 149.32,146.37" fill="#2fb7a3"/><polygon points="159.56,151.07 166.2,131.92 161.08,123.74 154.44,150.71" fill="#33b8a1"/><polygon points="164.68,150.43 171.32,143.44 166.2,131.92 159.56,151.07" fill="#37b99e"/><polygon points="169.8,150.95 176.44,150.97 171.32,143.44 164.68,150.43" fill="#3bba9c"/><polygon points="174.92,152.92 181.56,152.51 176.44,150.97 169.8,150.95" fill="#40ba99"/><polygon points="180.04,155.12 186.68,153.69 181.56,152.51 174.92,152.92" fill="#45bb96"/><polygon points="185.16,157.47 191.8,155.68 186.68,153.69 180.04,155.12" fill="#4abc94"/><polygon points="190.28,159.82 196.92,158.01 191.8,155.68 185.16,157.47" fill="#4fbc91"/><polygon points="195.4,162.17 202.04,160.36 196.92,158.01 190.28,159.82" fill="#54bd8e"/><polygon points="200.52,164.52 207.16,162.71 202.04,160.36 195.4,162.17" fill="#59bd8c"/><polygon points="205.64,166.87 212.28,165.06 207.16,162.71 200.52,164.52" fill="#5ebe89"/><polygon points="210.76,169.22 217.4,167.41 212.28,165.06 205.64,166.87" fill="#63be86"/><polygon points="215.88,171.57 222.52,169.76 217.4,167.41 210.76,169.22" fill="#69be84"/><polygon points="221,173.92 227.64,172.11 222.52,169.76 215.88,171.57" fill="#6ebf82"/><polygon points="96.6,121.68 103.24,119.87 98.12,117.52 91.48,119.33" fill="#06a7c5"/><polygon points="101.72,124.03 108.36,122.22 103.24,119.87 96.6,121.68" fill="#07a9c2"/><polygon points="106.84,126.38 113.48,124.57 108.36,122.22 101.72,124.03" fill="#09abbf"/><polygon points="111.96,128.73 118.6,126.92 113.48,124.57 106.84,126.38" fill="#0badbc"/><polygon points="117.08,131.08 123.72,129.27 118.6,126.92 111.96,128.73" fill="#0faeb9"/><polygon points="122.2,133.4 128.84,131.62 123.72,129.27 117.08,131.08" fill="#13b0b6"/><polygon points="127.32,135.73 133.96,134.12 128.84,131.62 122.2,133.4" fill="#17b1b3"/><polygon points="132.44,138.28 139.08,136.85 133.96,134.12 127.32,135.73" fill="#1cb3b0"/><polygon points="137.56,142.02 144.2,141.03 139.08,136.85 132.44,138.28" fill="#21b4ac"/><polygon points="142.68,146.45 149.32,146.37 144.2,141.03 137.56,142.02" fill="#27b5a8"/><polygon points="147.8,150.06 154.44,150.71 149.32,146.37 142.68,146.45" fill="#2db7a5"/><polygon points="152.92,151.15 159.56,151.07 154.44,150.71 147.8,150.06" fill="#33b8a1"/><polygon points="158.04,151.42 164.68,150.43 159.56,151.07 152.92,151.15" fill="#39b99d"/><polygon points="163.16,152.38 169.8,150.95 164.68,150.43 158.04,151.42" fill="#40ba99"/><polygon points="168.28,154.53 174.92,152.92 169.8,150.95 163.16,152.38" fill="#47bb95"/><polygon points="173.4,156.9 180.04,155.12 174.92,152.92 168.28,154.53" fill="#4fbc91"/><polygon points="178.52,159.28 185.16,157.47 180.04,155.12 173.4,156.9" fill="#56bd8d"/><polygon points="183.64,161.63 190.28,159.82 185.16,157.47 178.52,159.28" fill="#5ebe89"/><polygon points="188.76,163.98 195.4,162.17 190.28,159.82 183.64,161.63" fill="#66be85"/><polygon points="193.88,166.33 200.52,164.52 195.4,162.17 188.76,163.98" fill="#6ebf82"/><polygon points="199,168.68 205.64,166.87 200.52,164.52 193.88,166.33" fill="#75bf7e"/><polygon points="204.12,171.03 210.76,169.22 205.64,166.87 199,168.68" fill="#7dbf7b"/><polygon points="209.24,173.38 215.88,171.57 210.76,169.22 204.12,171.03" fill="#84bf78"/><polygon points="214.36,175.73 221,173.92 215.88,171.57 209.24,173.38" fill="#8bbf75"/><polygon points="89.96,123.49 96.6,121.68 91.48,119.33 84.84,121.14" fill="#06a0cd"/><polygon points="95.08,125.84 101.72,124.03 96.6,121.68 89.96,123.49" fill="#06a3cb"/><polygon points="100.2,128.19 106.84,126.38 101.72,124.03 95.08,125.84" fill="#06a6c7"/><polygon points="105.32,130.54 111.96,128.73 106.84,126.38 100.2,128.19" fill="#06a8c4"/><polygon points="110.44,132.89 117.08,131.08 111.96,128.73 105.32,130.54" fill="#08aac0"/><polygon points="115.56,135.23 122.2,133.4 117.08,131.08 110.44,132.89" fill="#0badbc"/><polygon points="120.68,137.56 127.32,135.73 122.2,133.4 115.56,135.23" fill="#10afb8"/><polygon points="125.8,139.93 132.44,138.28 127.32,135.73 120.68,137.56" fill="#15b1b4"/><polygon points="130.92,142.66 137.56,142.02 132.44,138.28 125.8,139.93" fill="#1cb3b0"/><polygon points="136.04,145.63 142.68,146.45 137.56,142.02 130.92,142.66" fill="#23b4ab"/><polygon points="141.16,148.35 147.8,150.06 142.68,146.45 136.04,145.63" fill="#2bb6a6"/><polygon points="146.28,150.33 152.92,151.15 147.8,150.06 141.16,148.35" fill="#33b8a1"/><polygon points="151.4,152.06 158.04,151.42 152.92,151.15 146.28,150.33" fill="#3bba9c"/><polygon points="156.52,154.03 163.16,152.38 158.04,151.42 151.4,152.06" fill="#45bb96"/><polygon points="161.64,156.36 168.28,154.53 163.16,152.38 156.52,154.03" fill="#4fbc91"/><polygon points="166.76,158.73 173.4,156.9 168.28,154.53 161.64,156.36" fill="#59bd8c"/><polygon points="171.88,161.09 178.52,159.28 173.4,156.9 166.76,158.73" fill="#63be86"/><polygon points="177,163.44 183.64,161.63 178.52,159.28 171.88,161.09" fill="#6ebf82"/><polygon points="182.12,165.79 188.76,163.98 183.64,161.63 177,163.44" fill="#78bf7d"/><polygon points="187.24,168.14 193.88,166.33 188.76,163.98 182.12,165.79" fill="#82bf79"/><polygon points="192.36,170.49 199,168.68 193.88,166.33 187.24,168.14" fill="#8bbf75"/><polygon points="197.48,172.84 204.12,171.03 199,168.68 192.36,170.49" fill="#94bf72"/><polygon points="202.6,175.19 209.24,173.38 204.12,171.03 197.48,172.84" fill="#9dbf6e"/><polygon points="207.72,177.54 214.36,175.73 209.24,173.38 202.6,175.19" fill="#a5be6b"/><polygon points="83.32,125.29 89.96,123.49 84.84,121.14 78.2,122.94" fill="#0b96d1"/><polygon points="88.44,127.64 95.08,125.84 89.96,123.49 83.32,125.29" fill="#089bd0"/><polygon points="93.56,129.99 100.2,128.19 95.08,125.84 88.44,127.64" fill="#069fce"/><polygon points="98.68,132.34 105.32,130.54 100.2,128.19 93.56,129.99" fill="#06a3cb"/><polygon points="103.8,134.69 110.44,132.89 105.32,130.54 98.68,132.34" fill="#06a6c7"/><polygon points="108.92,137.04 115.56,135.23 110.44,132.89 103.8,134.69" fill="#07a9c2"/><polygon points="114.04,139.39 120.68,137.56 115.56,135.23 108.92,137.04" fill="#0aacbd"/><polygon points="119.16,141.75 125.8,139.93 120.68,137.56 114.04,139.39" fill="#10afb8"/><polygon points="124.28,144.11 130.92,142.66 125.8,139.93 119.16,141.75" fill="#17b1b3"/><polygon points="129.4,146.47 136.04,145.63 130.92,142.66 124.28,144.11" fill="#1fb4ad"/><polygon points="134.52,148.83 141.16,148.35 136.04,145.63 129.4,146.47" fill="#29b6a7"/><polygon points="139.64,151.17 146.28,150.33 141.16,148.35 134.52,148.83" fill="#33b8a1"/><polygon points="144.76,153.51 151.4,152.06 146.28,150.33 139.64,151.17" fill="#3eba9a"/><polygon points="149.88,155.85 156.52,154.03 151.4,152.06 144.76,153.51" fill="#4abc94"/><polygon points="155,158.19 161.64,156.36 156.52,154.03 149.88,155.85" fill="#56bd8d"/><polygon points="160.12,160.54 166.76,158.73 161.64,156.36 155,158.19" fill="#63be86"/><polygon points="165.24,162.89 171.88,161.09 166.76,158.73 160.12,160.54" fill="#70bf81"/><polygon points="170.36,165.24 177,163.44 171.88,161.09 165.24,162.89" fill="#7dbf7b"/><polygon points="175.48,167.59 182.12,165.79 177,163.44 170.36,165.24" fill="#89bf76"/><polygon points="180.6,169.94 187.24,168.14 182.12,165.79 175.48,167.59" fill="#94bf72"/><polygon points="185.72,172.29 192.36,170.49 187.24,168.14 180.6,169.94" fill="#9fbe6d"/><polygon points="190.84,174.64 197.48,172.84 192.36,170.49 185.72,172.29" fill="#a9be69"/><polygon points="195.96,176.99 202.6,175.19 197.48,172.84 190.84,174.64" fill="#b3bd65"/><polygon points="201.08,179.34 207.72,177.54 202.6,175.19 195.96,176.99" fill="#bdbd61"/><polygon points="76.68,127.1 83.32,125.29 78.2,122.94 71.56,124.75" fill="#1389d3"/><polygon points="81.8,129.45 88.44,127.64 83.32,125.29 76.68,127.1" fill="#0f90d2"/><polygon points="86.92,131.8 93.56,129.99 88.44,127.64 81.8,129.45" fill="#0a97d1"/><polygon points="92.04,134.15 98.68,132.34 93.56,129.99 86.92,131.8" fill="#079ccf"/><polygon points="97.16,136.5 103.8,134.69 98.68,132.34 92.04,134.15" fill="#06a1cc"/><polygon points="102.28,138.85 108.92,137.04 103.8,134.69 97.16,136.5" fill="#06a6c7"/><polygon points="107.4,141.2 114.04,139.39 108.92,137.04 102.28,138.85" fill="#07a9c2"/><polygon points="112.52,143.55 119.16,141.75 114.04,139.39 107.4,141.2" fill="#0badbc"/><polygon points="117.64,145.9 124.28,144.11 119.16,141.75 112.52,143.55" fill="#13b0b6"/><polygon points="122.76,148.25 129.4,146.47 124.28,144.11 117.64,145.9" fill="#1cb3b0"/><polygon points="127.88,150.6 134.52,148.83 129.4,146.47 122.76,148.25" fill="#27b5a8"/><polygon points="133,152.95 139.64,151.17 134.52,148.83 127.88,150.6" fill="#33b8a1"/><polygon points="138.12,155.3 144.76,153.51 139.64,151.17 133,152.95" fill="#40ba99"/><polygon points="143.24,157.65 149.88,155.85 144.76,153.51 138.12,155.3" fill="#4fbc91"/><polygon points="148.36,160 155,158.19 149.88,155.85 143.24,157.65" fill="#5ebe89"/><polygon points="153.48,162.35 160.12,160.54 155,158.19 148.36,160" fill="#6ebf82"/><polygon points="158.6,164.7 165.24,162.89 160.12,160.54 153.48,162.35" fill="#7dbf7b"/><polygon points="163.72,167.05 170.36,165.24 165.24,162.89 158.6,164.7" fill="#8bbf75"/><polygon points="168.84,169.4 175.48,167.59 170.36,165.24 163.72,167.05" fill="#98bf70"/><polygon points="173.96,171.75 180.6,169.94 175.48,167.59 168.84,169.4" fill="#a5be6b"/><polygon points="179.08,174.1 185.72,172.29 180.6,169.94 173.96,171.75" fill="#b1bd66"/><polygon points="184.2,176.45 190.84,174.64 185.72,172.29 179.08,174.1" fill="#bdbd61"/><polygon points="189.32,178.8 195.96,176.99 190.84,174.64 184.2,176.45" fill="#c8bc5d"/><polygon points="194.44,181.15 201.08,179.34 195.96,176.99 189.32,178.8" fill="#d3bb58"/><polygon points="70.04,128.91 76.68,127.1 71.56,124.75 64.92,126.56" fill="#137fd7"/><polygon points="75.16,131.26 81.8,129.45 76.68,127.1 70.04,128.91" fill="#1485d4"/><polygon points="80.28,133.61 86.92,131.8 81.8,129.45 75.16,131.26" fill="#118dd2"/><polygon points="85.4,135.96 92.04,134.15 86.92,131.8 80.28,133.61" fill="#0c94d2"/><polygon points="90.52,138.31 97.16,136.5 92.04,134.15 85.4,135.96" fill="#079cd0"/><polygon points="95.64,140.66 102.28,138.85 97.16,136.5 90.52,138.31" fill="#06a1cc"/><polygon points="100.76,143.01 107.4,141.2 102.28,138.85 95.64,140.66" fill="#06a6c7"/><polygon points="105.88,145.36 112.52,143.55 107.4,141.2 100.76,143.01" fill="#08aac0"/><polygon points="111,147.71 117.64,145.9 112.52,143.55 105.88,145.36" fill="#0faeb9"/><polygon points="116.12,150.06 122.76,148.25 117.64,145.9 111,147.71" fill="#19b2b2"/><polygon points="121.24,152.41 127.88,150.6 122.76,148.25 116.12,150.06" fill="#25b5aa"/><polygon points="126.36,154.76 133,152.95 127.88,150.6 121.24,152.41" fill="#33b8a1"/><polygon points="131.48,157.11 138.12,155.3 133,152.95 126.36,154.76" fill="#42bb98"/><polygon points="136.6,159.46 143.24,157.65 138.12,155.3 131.48,157.11" fill="#54bd8e"/><polygon points="141.72,161.81 148.36,160 143.24,157.65 136.6,159.46" fill="#66be85"/><polygon points="146.84,164.16 153.48,162.35 148.36,160 141.72,161.81" fill="#78bf7d"/><polygon points="151.96,166.51 158.6,164.7 153.48,162.35 146.84,164.16" fill="#89bf76"/><polygon points="157.08,168.86 163.72,167.05 158.6,164.7 151.96,166.51" fill="#98bf70"/><polygon points="162.2,171.21 168.84,169.4 163.72,167.05 157.08,168.86" fill="#a7be6a"/><polygon points="167.32,173.56 173.96,171.75 168.84,169.4 162.2,171.21" fill="#b5bd64"/><polygon points="172.44,175.91 179.08,174.1 173.96,171.75 167.32,173.56" fill="#c2bc5f"/><polygon points="177.56,178.26 184.2,176.45 179.08,174.1 172.44,175.91" fill="#cfbb5a"/><polygon points="182.68,180.61 189.32,178.8 184.2,176.45 177.56,178.26" fill="#dcba54"/><polygon points="187.8,182.96 194.44,181.15 189.32,178.8 182.68,180.61" fill="#e8b94f"/><polygon points="63.4,130.72 70.04,128.91 64.92,126.56 58.28,128.37" fill="#0e76dc"/><polygon points="68.52,133.07 75.16,131.26 70.04,128.91 63.4,130.72" fill="#127dd8"/><polygon points="73.64,135.42 80.28,133.61 75.16,131.26 68.52,133.07" fill="#1484d4"/><polygon points="78.76,137.77 85.4,135.96 80.28,133.61 73.64,135.42" fill="#128cd2"/><polygon points="83.88,140.12 90.52,138.31 85.4,135.96 78.76,137.77" fill="#0c94d2"/><polygon points="89,142.47 95.64,140.66 90.52,138.31 83.88,140.12" fill="#079ccf"/><polygon points="94.12,144.82 100.76,143.01 95.64,140.66 89,142.47" fill="#06a3cb"/><polygon points="99.24,147.17 105.88,145.36 100.76,143.01 94.12,144.82" fill="#06a8c4"/><polygon points="104.36,149.52 111,147.71 105.88,145.36 99.24,147.17" fill="#0badbc"/><polygon points="109.48,151.87 116.12,150.06 111,147.71 104.36,149.52" fill="#15b1b4"/><polygon points="114.6,154.22 121.24,152.41 116.12,150.06 109.48,151.87" fill="#23b4ab"/><polygon points="119.72,156.57 126.36,154.76 121.24,152.41 114.6,154.22" fill="#33b8a1"/><polygon points="124.84,158.92 131.48,157.11 126.36,154.76 119.72,156.57" fill="#45bb96"/><polygon points="129.96,161.27 136.6,159.46 131.48,157.11 124.84,158.92" fill="#59bd8c"/><polygon points="135.08,163.62 141.72,161.81 136.6,159.46 129.96,161.27" fill="#6ebf82"/><polygon points="140.2,165.97 146.84,164.16 141.72,161.81 135.08,163.62" fill="#82bf79"/><polygon points="145.32,168.32 151.96,166.51 146.84,164.16 140.2,165.97" fill="#94bf72"/><polygon points="150.44,170.67 157.08,168.86 151.96,166.51 145.32,168.32" fill="#a5be6b"/><polygon points="155.56,173.02 162.2,171.21 157.08,168.86 150.44,170.67" fill="#b5bd64"/><polygon points="160.68,175.37 167.32,173.56 162.2,171.21 155.56,173.02" fill="#c4bc5e"/><polygon points="165.8,177.72 172.44,175.91 167.32,173.56 160.68,175.37" fill="#d3bb58"/><polygon points="170.92,180.07 177.56,178.26 172.44,175.91 165.8,177.72" fill="#e1b952"/><polygon points="176.04,182.42 182.68,180.61 177.56,178.26 170.92,180.07" fill="#efb94b"/><polygon points="181.16,184.77 187.8,182.96 182.68,180.61 176.04,182.42" fill="#fbbc41"/><polygon points="56.76,132.53 63.4,130.72 58.28,128.37 51.64,130.18" fill="#046ce0"/><polygon points="61.88,134.88 68.52,133.07 63.4,130.72 56.76,132.53" fill="#0c74dd"/><polygon points="67,137.23 73.64,135.42 68.52,133.07 61.88,134.88" fill="#127cd8"/><polygon points="72.12,139.58 78.76,137.77 73.64,135.42 67,137.23" fill="#1484d4"/><polygon points="77.24,141.93 83.88,140.12 78.76,137.77 72.12,139.58" fill="#118dd2"/><polygon points="82.36,144.28 89,142.47 83.88,140.12 77.24,141.93" fill="#0a97d1"/><polygon points="87.48,146.63 94.12,144.82 89,142.47 82.36,144.28" fill="#069fce"/><polygon points="92.6,148.98 99.24,147.17 94.12,144.82 87.48,146.63" fill="#06a6c7"/><polygon points="97.72,151.33 104.36,149.52 99.24,147.17 92.6,148.98" fill="#09abbf"/><polygon points="102.84,153.68 109.48,151.87 104.36,149.52 97.72,151.33" fill="#13b0b6"/><polygon points="107.96,156.03 114.6,154.22 109.48,151.87 102.84,153.68" fill="#21b4ac"/><polygon points="113.08,158.38 119.72,156.57 114.6,154.22 107.96,156.03" fill="#33b8a1"/><polygon points="118.2,160.73 124.84,158.92 119.72,156.57 113.08,158.38" fill="#47bb95"/><polygon points="123.32,163.08 129.96,161.27 124.84,158.92 118.2,160.73" fill="#5ebe89"/><polygon points="128.44,165.43 135.08,163.62 129.96,161.27 123.32,163.08" fill="#75bf7e"/><polygon points="133.56,167.78 140.2,165.97 135.08,163.62 128.44,165.43" fill="#8bbf75"/><polygon points="138.68,170.13 145.32,168.32 140.2,165.97 133.56,167.78" fill="#9fbe6d"/><polygon points="143.8,172.48 150.44,170.67 145.32,168.32 138.68,170.13" fill="#b1bd66"/><polygon points="148.92,174.83 155.56,173.02 150.44,170.67 143.8,172.48" fill="#c2bc5f"/><polygon points="154.04,177.18 160.68,175.37 155.56,173.02 148.92,174.83" fill="#d3bb58"/><polygon points="159.16,179.53 165.8,177.72 160.68,175.37 154.04,177.18" fill="#e3b951"/><polygon points="164.28,181.88 170.92,180.07 165.8,177.72 159.16,179.53" fill="#f2b949"/><polygon points="169.4,184.23 176.04,182.42 170.92,180.07 164.28,181.88" fill="#febf3c"/><polygon points="174.52,186.58 181.16,184.77 176.04,182.42 169.4,184.23" fill="#fec932"/><polygon points="50.12,134.33 56.76,132.53 51.64,130.18 45,131.98" fill="#0a5fdf"/><polygon points="55.24,136.68 61.88,134.88 56.76,132.53 50.12,134.33" fill="#036be0"/><polygon points="60.36,139.03 67,137.23 61.88,134.88 55.24,136.68" fill="#0c74dd"/><polygon points="65.48,141.38 72.12,139.58 67,137.23 60.36,139.03" fill="#127dd8"/><polygon points="70.6,143.73 77.24,141.93 72.12,139.58 65.48,141.38" fill="#1485d4"/><polygon points="75.72,146.08 82.36,144.28 77.24,141.93 70.6,143.73" fill="#0f90d2"/><polygon points="80.84,148.43 87.48,146.63 82.36,144.28 75.72,146.08" fill="#089bd0"/><polygon points="85.96,150.78 92.6,148.98 87.48,146.63 80.84,148.43" fill="#06a3cb"/><polygon points="91.08,153.13 97.72,151.33 92.6,148.98 85.96,150.78" fill="#07a9c2"/><polygon points="96.2,155.48 102.84,153.68 97.72,151.33 91.08,153.13" fill="#10afb8"/><polygon points="101.32,157.83 107.96,156.03 102.84,153.68 96.2,155.48" fill="#1fb4ad"/><polygon points="106.44,160.18 113.08,158.38 107.96,156.03 101.32,157.83" fill="#33b8a1"/><polygon points="111.56,162.53 118.2,160.73 113.08,158.38 106.44,160.18" fill="#4abc94"/><polygon points="116.68,164.88 123.32,163.08 118.2,160.73 111.56,162.53" fill="#63be86"/><polygon points="121.8,167.23 128.44,165.43 123.32,163.08 116.68,164.88" fill="#7dbf7b"/><polygon points="126.92,169.58 133.56,167.78 128.44,165.43 121.8,167.23" fill="#94bf72"/><polygon points="132.04,171.93 138.68,170.13 133.56,167.78 126.92,169.58" fill="#a9be69"/><polygon points="137.16,174.28 143.8,172.48 138.68,170.13 132.04,171.93" fill="#bdbd61"/><polygon points="142.28,176.63 148.92,174.83 143.8,172.48 137.16,174.28" fill="#cfbb5a"/><polygon points="147.4,178.98 154.04,177.18 148.92,174.83 142.28,176.63" fill="#e1b952"/><polygon points="152.52,181.33 159.16,179.53 154.04,177.18 147.4,178.98" fill="#f2b949"/><polygon points="157.64,183.68 164.28,181.88 159.16,179.53 152.52,181.33" fill="#fec03b"/><polygon points="162.76,186.03 169.4,184.23 164.28,181.88 157.64,183.68" fill="#fdcb30"/><polygon points="167.88,188.38 174.52,186.58 169.4,184.23 162.76,186.03" fill="#f8d727"/><polygon points="43.48,136.14 50.12,134.33 45,131.98 38.36,133.79" fill="#2b4bc7"/><polygon points="48.6,138.49 55.24,136.68 50.12,134.33 43.48,136.14" fill="#0a5fdf"/><polygon points="53.72,140.84 60.36,139.03 55.24,136.68 48.6,138.49" fill="#046ce0"/><polygon points="58.84,143.19 65.48,141.38 60.36,139.03 53.72,140.84" fill="#0e76dc"/><polygon points="63.96,145.54 70.6,143.73 65.48,141.38 58.84,143.19" fill="#137fd7"/><polygon points="69.08,147.89 75.72,146.08 70.6,143.73 63.96,145.54" fill="#1389d3"/><polygon points="74.2,150.24 80.84,148.43 75.72,146.08 69.08,147.89" fill="#0b96d1"/><polygon points="79.32,152.59 85.96,150.78 80.84,148.43 74.2,150.24" fill="#06a0cd"/><polygon points="84.44,154.94 91.08,153.13 85.96,150.78 79.32,152.59" fill="#06a7c5"/><polygon points="89.56,157.29 96.2,155.48 91.08,153.13 84.44,154.94" fill="#0daeba"/><polygon points="94.68,159.64 101.32,157.83 96.2,155.48 89.56,157.29" fill="#1eb3ae"/><polygon points="99.8,161.99 106.44,160.18 101.32,157.83 94.68,159.64" fill="#33b8a1"/><polygon points="104.92,164.34 111.56,162.53 106.44,160.18 99.8,161.99" fill="#4cbc92"/><polygon points="110.04,166.69 116.68,164.88 111.56,162.53 104.92,164.34" fill="#69be84"/><polygon points="115.16,169.04 121.8,167.23 116.68,164.88 110.04,166.69" fill="#84bf78"/><polygon points="120.28,171.39 126.92,169.58 121.8,167.23 115.16,169.04" fill="#9dbf6e"/><polygon points="125.4,173.74 132.04,171.93 126.92,169.58 120.28,171.39" fill="#b3bd65"/><polygon points="130.52,176.09 137.16,174.28 132.04,171.93 125.4,173.74" fill="#c8bc5d"/><polygon points="135.64,178.44 142.28,176.63 137.16,174.28 130.52,176.09" fill="#dcba54"/><polygon points="140.76,180.79 147.4,178.98 142.28,176.63 135.64,178.44" fill="#efb94b"/><polygon points="145.88,183.14 152.52,181.33 147.4,178.98 140.76,180.79" fill="#febf3c"/><polygon points="151,185.49 157.64,183.68 152.52,181.33 145.88,183.14" fill="#fdcb30"/><polygon points="156.12,187.84 162.76,186.03 157.64,183.68 151,185.49" fill="#f7d826"/><polygon points="161.24,190.19 167.88,188.38 162.76,186.03 156.12,187.84" fill="#f5e71b"/><polygon points="36.84,137.95 43.48,136.14 38.36,133.79 31.72,135.6" fill="#353aa8"/><polygon points="41.96,140.3 48.6,138.49 43.48,136.14 36.84,137.95" fill="#294cca"/><polygon points="47.08,142.65 53.72,140.84 48.6,138.49 41.96,140.3" fill="#0462e0"/><polygon points="52.2,145 58.84,143.19 53.72,140.84 47.08,142.65" fill="#066fdf"/><polygon points="57.32,147.35 63.96,145.54 58.84,143.19 52.2,145" fill="#1079da"/><polygon points="62.44,149.7 69.08,147.89 63.96,145.54 57.32,147.35" fill="#1484d4"/><polygon points="67.56,152.05 74.2,150.24 69.08,147.89 62.44,149.7" fill="#0f90d2"/><polygon points="72.68,154.4 79.32,152.59 74.2,150.24 67.56,152.05" fill="#079ccf"/><polygon points="77.8,156.75 84.44,154.94 79.32,152.59 72.68,154.4" fill="#06a6c7"/><polygon points="82.92,159.1 89.56,157.29 84.44,154.94 77.8,156.75" fill="#0badbc"/><polygon points="88.04,161.45 94.68,159.64 89.56,157.29 82.92,159.1" fill="#1cb3b0"/><polygon points="93.16,163.8 99.8,161.99 94.68,159.64 88.04,161.45" fill="#33b8a1"/><polygon points="98.28,166.15 104.92,164.34 99.8,161.99 93.16,163.8" fill="#4fbc91"/><polygon points="103.4,168.5 110.04,166.69 104.92,164.34 98.28,166.15" fill="#6ebf82"/><polygon points="108.52,170.85 115.16,169.04 110.04,166.69 103.4,168.5" fill="#8bbf75"/><polygon points="113.64,173.2 120.28,171.39 115.16,169.04 108.52,170.85" fill="#a5be6b"/><polygon points="118.76,175.55 125.4,173.74 120.28,171.39 113.64,173.2" fill="#bdbd61"/><polygon points="123.88,177.9 130.52,176.09 125.4,173.74 118.76,175.55" fill="#d3bb58"/><polygon points="129,180.25 135.64,178.44 130.52,176.09 123.88,177.9" fill="#e8b94f"/><polygon points="134.12,182.6 140.76,180.79 135.64,178.44 129,180.25" fill="#fbbc41"/><polygon points="139.24,184.95 145.88,183.14 140.76,180.79 134.12,182.6" fill="#fec932"/><polygon points="144.36,187.3 151,185.49 145.88,183.14 139.24,184.95" fill="#f8d727"/><polygon points="149.48,189.65 156.12,187.84 151,185.49 144.36,187.3" fill="#f5e71b"/><polygon points="154.6,192 161.24,190.19 156.12,187.84 149.48,189.65" fill="#f9fb0e"/></g>
<path d="M31.72 164.6L31.72 41.18M31.72 164.6L154.6 221M154.6 221L313.96 177.61M31.72 164.6L28.45 163.1M31.72 135.6L28.45 134.1M31.72 106.6L28.45 105.1M31.72 77.6L28.45 76.1M31.72 48.6L28.45 47.1M144.36 216.3L140.89 217.25M167.88 217.38L171.15 218.89M118.76 204.55L115.29 205.5M201.08 208.34L204.35 209.85M93.16 192.8L89.69 193.75M234.28 199.3L237.55 200.81M67.56 181.05L64.09 182M267.48 190.26L270.75 191.77M41.96 169.3L38.49 170.25M300.68 181.22L303.95 182.73" stroke="#4a4a4a" stroke-width="0.9" fill="none"/>
<g font-family="Liberation Sans, sans-serif" font-size="9.6" fill="#4d4d4d" stroke="#4d4d4d" stroke-width="0.15"><text x="24.42" y="165.2" text-anchor="end">-0.05</text><text x="24.42" y="136.2" text-anchor="end">0</text><text x="24.42" y="107.2" text-anchor="end">0.05</text><text x="24.42" y="78.2" text-anchor="end">0.1</text><text x="24.42" y="49.2" text-anchor="end">0.15</text><text x="136.56" y="227" text-anchor="end">-10</text><text x="174.58" y="228.88">-10</text><text x="110.96" y="215.25" text-anchor="end">-5</text><text x="207.78" y="219.84">-5</text><text x="85.36" y="203.5" text-anchor="end">0</text><text x="240.98" y="210.8">0</text><text x="59.76" y="191.75" text-anchor="end">5</text><text x="274.18" y="201.76">5</text><text x="34.16" y="180" text-anchor="end">10</text><text x="307.38" y="192.72">10</text></g></g>
<g><path d="M533.03 229.24L410.53 170.25M509.49 228.08L669.39 182.99M410.53 170.25L410.53 41.05M669.39 182.99L669.39 53.79M566.34 219.85L443.84 160.86M483.97 215.79L643.87 170.7M443.84 160.86L443.84 31.66M643.87 170.7L643.87 41.5M599.65 210.45L477.15 151.46M458.45 203.5L618.35 158.41M477.15 151.46L477.15 22.26M618.35 158.41L618.35 29.21M632.96 201.06L510.47 142.06M432.93 191.21L592.83 146.12M510.47 142.06L510.47 12.87M592.83 146.12L592.83 16.92M666.28 191.66L543.78 132.67M407.41 178.92L567.31 133.83M543.78 132.67L543.78 3.47M567.31 133.83L567.31 4.63M397.2 174.01L557.1 128.91M557.1 128.91L679.6 187.9M397.2 140.01L557.1 94.91M557.1 94.91L679.6 153.9M397.2 106.01L557.1 60.91M557.1 60.91L679.6 119.9M397.2 72.01L557.1 26.91M557.1 26.91L679.6 85.9" stroke="#e3e3e3" stroke-width="0.8" fill="none"/>
<path d="M460.4 171.24L465.51 175.33L476.75 180.44L486.97 185.55L493.1 190.66L508.54 201.39L520.81 204.02L529.57 204.37L540.08 202.26L552.34 199.64L572.09 188.54L584.5 184.32L596.91 180.35L603.11 178.62M442.01 164.09L445.07 170.22L452.22 173.28L451.2 178.39L462.44 182.48L472.66 186.57L484.92 191.68L491.06 192.7L493.1 197.81L510.29 205.77L520.81 208.4L529.57 208.92L540.08 207.52L552.34 204.89L564.64 197.73L579.53 192.76L596.91 188.54L613.04 187.3L619.24 183.58L621.73 177.37L624.21 172.41L629.17 169.93M435.87 167.15L434.85 172.26L435.87 177.37L449.16 184.52L450.18 190.66L454.27 192.7L456.31 190.66L465.51 194.74L476.75 197.81L478.79 203.94L482.88 205.98L485.95 203.94L487.99 209.05L497.19 212.12L505.04 209.27L513.8 211.9L522.56 213.65L531.32 213.65L543.58 211.02L557.6 208.4L559.68 210.88L560.92 208.4L574.57 204.68L586.98 200.95L590.7 205.92L596.91 204.68L599.39 199.71L600.63 197.23L613.04 194.75L614.28 199.71L616.76 203.44L621.73 198.47L625.45 197.23L631.65 200.95L636.62 199.71M426.68 183.5L435.87 187.59L446.09 193.72L456.31 199.85L464.49 200.87L472.66 203.94L480.84 210.07L491.06 216.2L497.19 215.18L500.66 218.38L502.41 221.18L511.17 219.78L519.05 221.53L526.06 222.41L530.44 221.18L534.82 216.28L540.08 215.93L541.48 219.43L547.08 218.91L548.49 214.53L553.74 212.25L557.6 213.13L558.44 215.85L564.64 218.33L572.09 214.6L575.81 210.88M410.33 176.35L415.44 171.24L425.66 170.22L428.72 173.28L425.66 177.37L423.61 181.46L415.44 180.44L410.33 176.35M418.5 167.15L421.57 171.24M401.13 172.26L403.17 176.35M529.57 225.04L531.32 227.67L537.45 227.14L536.57 224.69L530.44 225.04L529.57 225.04M557.6 218.91L561.1 217.15L568.11 216.28L575.12 214.53L582.12 211.9L585.63 212.78M578.29 212.12L583.26 210.88M589.46 208.4L596.91 207.16L599.39 209.64M644.06 179.86L651.51 178.62L658.96 181.1L657.72 184.82L649.03 186.06L644.06 182.34L644.06 179.86M641.58 171.17L645.31 176.13L650.27 173.65M637.86 197.23L641.58 194.75L646.55 195.99M666.4 183.58L671.37 186.06L676.33 187.3" stroke="#5cc4ae" stroke-width="1.1" fill="none" stroke-linecap="round" stroke-linejoin="round"/>
<g stroke="#000" stroke-width="0.5" stroke-opacity="1" stroke-linejoin="round"><polygon points="555.55,99.25 562.21,97.37 557.1,94.91 550.44,96.79" fill="#f7d826"/><polygon points="560.65,101.71 567.31,99.83 562.21,97.37 555.55,99.25" fill="#fdcb30"/><polygon points="565.75,104.17 572.42,102.29 567.31,99.83 560.65,101.71" fill="#febf3c"/><polygon points="570.86,106.62 577.52,104.74 572.42,102.29 565.75,104.17" fill="#efb94b"/><polygon points="575.96,109.08 582.62,107.2 577.52,104.74 570.86,106.62" fill="#dcba54"/><polygon points="581.07,111.54 587.73,109.66 582.62,107.2 575.96,109.08" fill="#c8bc5d"/><polygon points="586.17,114 592.83,112.12 587.73,109.66 581.07,111.54" fill="#b3bd65"/><polygon points="591.27,116.46 597.94,114.58 592.83,112.12 586.17,114" fill="#9dbf6e"/><polygon points="596.38,118.91 603.04,117.03 597.94,114.58 591.27,116.46" fill="#84bf78"/><polygon points="601.48,121.37 608.14,119.49 603.04,117.03 596.38,118.91" fill="#69be84"/><polygon points="606.59,123.83 613.25,121.95 608.14,119.49 601.48,121.37" fill="#4cbc92"/><polygon points="611.69,126.29 618.35,124.41 613.25,121.95 606.59,123.83" fill="#33b8a1"/><polygon points="616.79,128.75 623.46,126.87 618.35,124.41 611.69,126.29" fill="#1eb3ae"/><polygon points="621.9,131.2 628.56,129.32 623.46,126.87 616.79,128.75" fill="#0daeba"/><polygon points="627,133.66 633.66,131.78 628.56,129.32 621.9,131.2" fill="#06a7c5"/><polygon points="632.11,136.12 638.77,134.24 633.66,131.78 627,133.66" fill="#06a0cd"/><polygon points="637.21,138.58 643.87,136.7 638.77,134.24 632.11,136.12" fill="#0b96d1"/><polygon points="642.31,141.04 648.98,139.16 643.87,136.7 637.21,138.58" fill="#1389d3"/><polygon points="647.42,143.49 654.08,141.61 648.98,139.16 642.31,141.04" fill="#137fd7"/><polygon points="652.52,145.95 659.18,144.07 654.08,141.61 647.42,143.49" fill="#0e76dc"/><polygon points="657.63,148.41 664.29,146.53 659.18,144.07 652.52,145.95" fill="#046ce0"/><polygon points="662.73,150.87 669.39,148.99 664.29,146.53 657.63,148.41" fill="#0a5fdf"/><polygon points="667.83,153.33 674.5,151.45 669.39,148.99 662.73,150.87" fill="#2b4bc7"/><polygon points="672.94,155.78 679.6,153.9 674.5,151.45 667.83,153.33" fill="#353aa8"/><polygon points="548.88,101.13 555.55,99.25 550.44,96.79 543.78,98.67" fill="#fdcb30"/><polygon points="553.99,103.59 560.65,101.71 555.55,99.25 548.88,101.13" fill="#fec03b"/><polygon points="559.09,106.04 565.75,104.17 560.65,101.71 553.99,103.59" fill="#f2b949"/><polygon points="564.2,108.5 570.86,106.62 565.75,104.17 559.09,106.04" fill="#e1b952"/><polygon points="569.3,110.96 575.96,109.08 570.86,106.62 564.2,108.5" fill="#cfbb5a"/><polygon points="574.4,113.42 581.07,111.54 575.96,109.08 569.3,110.96" fill="#bdbd61"/><polygon points="579.51,115.88 586.17,114 581.07,111.54 574.4,113.42" fill="#a9be69"/><polygon points="584.61,118.33 591.27,116.46 586.17,114 579.51,115.88" fill="#94bf72"/><polygon points="589.72,120.79 596.38,118.91 591.27,116.46 584.61,118.33" fill="#7dbf7b"/><polygon points="594.82,123.25 601.48,121.37 596.38,118.91 589.72,120.79" fill="#63be86"/><polygon points="599.92,125.71 606.59,123.83 601.48,121.37 594.82,123.25" fill="#4abc94"/><polygon points="605.03,128.17 611.69,126.29 606.59,123.83 599.92,125.71" fill="#33b8a1"/><polygon points="610.13,130.62 616.79,128.75 611.69,126.29 605.03,128.17" fill="#1fb4ad"/><polygon points="615.24,133.08 621.9,131.2 616.79,128.75 610.13,130.62" fill="#10afb8"/><polygon points="620.34,135.54 627,133.66 621.9,131.2 615.24,133.08" fill="#07a9c2"/><polygon points="625.44,138 632.11,136.12 627,133.66 620.34,135.54" fill="#06a3cb"/><polygon points="630.55,140.46 637.21,138.58 632.11,136.12 625.44,138" fill="#089bd0"/><polygon points="635.65,142.91 642.31,141.04 637.21,138.58 630.55,140.46" fill="#0f90d2"/><polygon points="640.76,145.37 647.42,143.49 642.31,141.04 635.65,142.91" fill="#1485d4"/><polygon points="645.86,147.83 652.52,145.95 647.42,143.49 640.76,145.37" fill="#127dd8"/><polygon points="650.96,150.29 657.63,148.41 652.52,145.95 645.86,147.83" fill="#0c74dd"/><polygon points="656.07,152.75 662.73,150.87 657.63,148.41 650.96,150.29" fill="#036be0"/><polygon points="661.17,155.2 667.83,153.33 662.73,150.87 656.07,152.75" fill="#0a5fdf"/><polygon points="666.28,157.66 672.94,155.78 667.83,153.33 661.17,155.2" fill="#294cca"/><polygon points="542.22,103.01 548.88,101.13 543.78,98.67 537.12,100.55" fill="#febf3c"/><polygon points="547.32,105.46 553.99,103.59 548.88,101.13 542.22,103.01" fill="#f2b949"/><polygon points="552.43,107.92 559.09,106.04 553.99,103.59 547.32,105.46" fill="#e3b951"/><polygon points="557.53,110.38 564.2,108.5 559.09,106.04 552.43,107.92" fill="#d3bb58"/><polygon points="562.64,112.84 569.3,110.96 564.2,108.5 557.53,110.38" fill="#c2bc5f"/><polygon points="567.74,115.3 574.4,113.42 569.3,110.96 562.64,112.84" fill="#b1bd66"/><polygon points="572.84,117.76 579.51,115.88 574.4,113.42 567.74,115.3" fill="#9fbe6d"/><polygon points="577.95,120.21 584.61,118.33 579.51,115.88 572.84,117.76" fill="#8bbf75"/><polygon points="583.05,122.67 589.72,120.79 584.61,118.33 577.95,120.21" fill="#75bf7e"/><polygon points="588.16,125.13 594.82,123.25 589.72,120.79 583.05,122.67" fill="#5ebe89"/><polygon points="593.26,127.59 599.92,125.71 594.82,123.25 588.16,125.13" fill="#47bb95"/><polygon points="598.36,130.05 605.03,128.17 599.92,125.71 593.26,127.59" fill="#33b8a1"/><polygon points="603.47,132.5 610.13,130.62 605.03,128.17 598.36,130.05" fill="#21b4ac"/><polygon points="608.57,134.96 615.24,133.08 610.13,130.62 603.47,132.5" fill="#13b0b6"/><polygon points="613.68,137.42 620.34,135.54 615.24,133.08 608.57,134.96" fill="#09abbf"/><polygon points="618.78,139.88 625.44,138 620.34,135.54 613.68,137.42" fill="#06a6c7"/><polygon points="623.88,142.34 630.55,140.46 625.44,138 618.78,139.88" fill="#069fce"/><polygon points="628.99,144.79 635.65,142.91 630.55,140.46 623.88,142.34" fill="#0a97d1"/><polygon points="634.09,147.25 640.76,145.37 635.65,142.91 628.99,144.79" fill="#118dd2"/><polygon points="639.2,149.71 645.86,147.83 640.76,145.37 634.09,147.25" fill="#1484d4"/><polygon points="644.3,152.17 650.96,150.29 645.86,147.83 639.2,149.71" fill="#127cd8"/><polygon points="649.4,154.62 656.07,152.75 650.96,150.29 644.3,152.17" fill="#0c74dd"/><polygon points="654.51,157.08 661.17,155.2 656.07,152.75 649.4,154.62" fill="#046ce0"/><polygon points="659.61,159.54 666.28,157.66 661.17,155.2 654.51,157.08" fill="#0462e0"/><polygon points="535.56,104.89 542.22,103.01 537.12,100.55 530.45,102.43" fill="#efb94b"/><polygon points="540.66,107.34 547.32,105.46 542.22,103.01 535.56,104.89" fill="#e1b952"/><polygon points="545.77,109.8 552.43,107.92 547.32,105.46 540.66,107.34" fill="#d3bb58"/><polygon points="550.87,112.26 557.53,110.38 552.43,107.92 545.77,109.8" fill="#c4bc5e"/><polygon points="555.97,114.72 562.64,112.84 557.53,110.38 550.87,112.26" fill="#b5bd64"/><polygon points="561.08,117.18 567.74,115.3 562.64,112.84 555.97,114.72" fill="#a5be6b"/><polygon points="566.18,119.63 572.84,117.76 567.74,115.3 561.08,117.18" fill="#94bf72"/><polygon points="571.29,122.09 577.95,120.21 572.84,117.76 566.18,119.63" fill="#82bf79"/><polygon points="576.39,124.55 583.05,122.67 577.95,120.21 571.29,122.09" fill="#6ebf82"/><polygon points="581.49,127.01 588.16,125.13 583.05,122.67 576.39,124.55" fill="#59bd8c"/><polygon points="586.6,129.47 593.26,127.59 588.16,125.13 581.49,127.01" fill="#45bb96"/><polygon points="591.7,131.93 598.36,130.05 593.26,127.59 586.6,129.47" fill="#33b8a1"/><polygon points="596.81,134.38 603.47,132.5 598.36,130.05 591.7,131.93" fill="#23b4ab"/><polygon points="601.91,136.84 608.57,134.96 603.47,132.5 596.81,134.38" fill="#15b1b4"/><polygon points="607.01,139.3 613.68,137.42 608.57,134.96 601.91,136.84" fill="#0badbc"/><polygon points="612.12,141.76 618.78,139.88 613.68,137.42 607.01,139.3" fill="#06a8c4"/><polygon points="617.22,144.21 623.88,142.34 618.78,139.88 612.12,141.76" fill="#06a3cb"/><polygon points="622.33,146.67 628.99,144.79 623.88,142.34 617.22,144.21" fill="#079ccf"/><polygon points="627.43,149.13 634.09,147.25 628.99,144.79 622.33,146.67" fill="#0c94d2"/><polygon points="632.53,151.59 639.2,149.71 634.09,147.25 627.43,149.13" fill="#128cd2"/><polygon points="637.64,154.05 644.3,152.17 639.2,149.71 632.53,151.59" fill="#1484d4"/><polygon points="642.74,156.5 649.4,154.62 644.3,152.17 637.64,154.05" fill="#127dd8"/><polygon points="647.85,158.96 654.51,157.08 649.4,154.62 642.74,156.5" fill="#0e76dc"/><polygon points="652.95,161.42 659.61,159.54 654.51,157.08 647.85,158.96" fill="#066fdf"/><polygon points="528.9,106.76 535.56,104.89 530.45,102.43 523.79,104.31" fill="#dcba54"/><polygon points="534,109.22 540.66,107.34 535.56,104.89 528.9,106.76" fill="#cfbb5a"/><polygon points="539.1,111.68 545.77,109.8 540.66,107.34 534,109.22" fill="#c2bc5f"/><polygon points="544.21,114.14 550.87,112.26 545.77,109.8 539.1,111.68" fill="#b5bd64"/><polygon points="549.31,116.59 555.97,114.72 550.87,112.26 544.21,114.14" fill="#a7be6a"/><polygon points="554.42,119.04 561.08,117.18 555.97,114.72 549.31,116.59" fill="#98bf70"/><polygon points="559.52,121.49 566.18,119.63 561.08,117.18 554.42,119.04" fill="#89bf76"/><polygon points="564.62,123.99 571.29,122.09 566.18,119.63 559.52,121.49" fill="#78bf7d"/><polygon points="569.73,126.63 576.39,124.55 571.29,122.09 564.62,123.99" fill="#66be85"/><polygon points="574.83,129.38 581.49,127.01 576.39,124.55 569.73,126.63" fill="#54bd8e"/><polygon points="579.94,132.02 586.6,129.47 581.49,127.01 574.83,129.38" fill="#42bb98"/><polygon points="585.04,134.3 591.7,131.93 586.6,129.47 579.94,132.02" fill="#33b8a1"/><polygon points="590.14,136.46 596.81,134.38 591.7,131.93 585.04,134.3" fill="#25b5aa"/><polygon points="595.25,138.74 601.91,136.84 596.81,134.38 590.14,136.46" fill="#19b2b2"/><polygon points="600.35,141.16 607.01,139.3 601.91,136.84 595.25,138.74" fill="#0faeb9"/><polygon points="605.46,143.62 612.12,141.76 607.01,139.3 600.35,141.16" fill="#08aac0"/><polygon points="610.56,146.09 617.22,144.21 612.12,141.76 605.46,143.62" fill="#06a6c7"/><polygon points="615.66,148.55 622.33,146.67 617.22,144.21 610.56,146.09" fill="#06a1cc"/><polygon points="620.77,151.01 627.43,149.13 622.33,146.67 615.66,148.55" fill="#079cd0"/><polygon points="625.87,153.47 632.53,151.59 627.43,149.13 620.77,151.01" fill="#0c94d2"/><polygon points="630.98,155.93 637.64,154.05 632.53,151.59 625.87,153.47" fill="#118dd2"/><polygon points="636.08,158.38 642.74,156.5 637.64,154.05 630.98,155.93" fill="#1485d4"/><polygon points="641.18,160.84 647.85,158.96 642.74,156.5 636.08,158.38" fill="#137fd7"/><polygon points="646.29,163.3 652.95,161.42 647.85,158.96 641.18,160.84" fill="#1079da"/><polygon points="522.23,108.64 528.9,106.76 523.79,104.31 517.13,106.19" fill="#c8bc5d"/><polygon points="527.34,111.1 534,109.22 528.9,106.76 522.23,108.64" fill="#bdbd61"/><polygon points="532.44,113.56 539.1,111.68 534,109.22 527.34,111.1" fill="#b1bd66"/><polygon points="537.54,116.02 544.21,114.14 539.1,111.68 532.44,113.56" fill="#a5be6b"/><polygon points="542.65,118.46 549.31,116.59 544.21,114.14 537.54,116.02" fill="#98bf70"/><polygon points="547.75,120.88 554.42,119.04 549.31,116.59 542.65,118.46" fill="#8bbf75"/><polygon points="552.86,123.34 559.52,121.49 554.42,119.04 547.75,120.88" fill="#7dbf7b"/><polygon points="557.96,126.15 564.62,123.99 559.52,121.49 552.86,123.34" fill="#6ebf82"/><polygon points="563.07,129.61 569.73,126.63 564.62,123.99 557.96,126.15" fill="#5ebe89"/><polygon points="568.17,133.5 574.83,129.38 569.73,126.63 563.07,129.61" fill="#4fbc91"/><polygon points="573.27,136.8 579.94,132.02 574.83,129.38 568.17,133.5" fill="#40ba99"/><polygon points="578.38,138.41 585.04,134.3 579.94,132.02 573.27,136.8" fill="#33b8a1"/><polygon points="583.48,139.44 590.14,136.46 585.04,134.3 578.38,138.41" fill="#27b5a8"/><polygon points="588.59,140.9 595.25,138.74 590.14,136.46 583.48,139.44" fill="#1cb3b0"/><polygon points="593.69,143 600.35,141.16 595.25,138.74 588.59,140.9" fill="#13b0b6"/><polygon points="598.79,145.46 605.46,143.62 600.35,141.16 593.69,143" fill="#0badbc"/><polygon points="603.9,147.96 610.56,146.09 605.46,143.62 598.79,145.46" fill="#07a9c2"/><polygon points="609,150.43 615.66,148.55 610.56,146.09 603.9,147.96" fill="#06a6c7"/><polygon points="614.11,152.89 620.77,151.01 615.66,148.55 609,150.43" fill="#06a1cc"/><polygon points="619.21,155.35 625.87,153.47 620.77,151.01 614.11,152.89" fill="#079ccf"/><polygon points="624.31,157.8 630.98,155.93 625.87,153.47 619.21,155.35" fill="#0a97d1"/><polygon points="629.42,160.26 636.08,158.38 630.98,155.93 624.31,157.8" fill="#0f90d2"/><polygon points="634.52,162.72 641.18,160.84 636.08,158.38 629.42,160.26" fill="#1389d3"/><polygon points="639.62,165.18 646.29,163.3 641.18,160.84 634.52,162.72" fill="#1484d4"/><polygon points="515.57,110.52 522.23,108.64 517.13,106.19 510.47,108.06" fill="#b3bd65"/><polygon points="520.67,112.98 527.34,111.1 522.23,108.64 515.57,110.52" fill="#a9be69"/><polygon points="525.78,115.44 532.44,113.56 527.34,111.1 520.67,112.98" fill="#9fbe6d"/><polygon points="530.88,117.9 537.54,116.02 532.44,113.56 525.78,115.44" fill="#94bf72"/><polygon points="535.99,120.33 542.65,118.46 537.54,116.02 530.88,117.9" fill="#89bf76"/><polygon points="541.09,122.76 547.75,120.88 542.65,118.46 535.99,120.33" fill="#7dbf7b"/><polygon points="546.19,125.47 552.86,123.34 547.75,120.88 541.09,122.76" fill="#70bf81"/><polygon points="551.3,128.94 557.96,126.15 552.86,123.34 546.19,125.47" fill="#63be86"/><polygon points="556.4,133.16 563.07,129.61 557.96,126.15 551.3,128.94" fill="#56bd8d"/><polygon points="561.51,137.84 568.17,133.5 563.07,129.61 556.4,133.16" fill="#4abc94"/><polygon points="566.61,141.67 573.27,136.8 568.17,133.5 561.51,137.84" fill="#3eba9a"/><polygon points="571.71,142.75 578.38,138.41 573.27,136.8 566.61,141.67" fill="#33b8a1"/><polygon points="576.82,143 583.48,139.44 578.38,138.41 571.71,142.75" fill="#29b6a7"/><polygon points="581.92,143.69 588.59,140.9 583.48,139.44 576.82,143" fill="#1fb4ad"/><polygon points="587.03,145.13 593.69,143 588.59,140.9 581.92,143.69" fill="#17b1b3"/><polygon points="592.13,147.34 598.79,145.46 593.69,143 587.03,145.13" fill="#10afb8"/><polygon points="597.23,149.83 603.9,147.96 598.79,145.46 592.13,147.34" fill="#0aacbd"/><polygon points="602.34,152.31 609,150.43 603.9,147.96 597.23,149.83" fill="#07a9c2"/><polygon points="607.44,154.77 614.11,152.89 609,150.43 602.34,152.31" fill="#06a6c7"/><polygon points="612.55,157.23 619.21,155.35 614.11,152.89 607.44,154.77" fill="#06a3cb"/><polygon points="617.65,159.68 624.31,157.8 619.21,155.35 612.55,157.23" fill="#069fce"/><polygon points="622.75,162.14 629.42,160.26 624.31,157.8 617.65,159.68" fill="#089bd0"/><polygon points="627.86,164.6 634.52,162.72 629.42,160.26 622.75,162.14" fill="#0b96d1"/><polygon points="632.96,167.06 639.62,165.18 634.52,162.72 627.86,164.6" fill="#0f90d2"/><polygon points="508.91,112.4 515.57,110.52 510.47,108.06 503.8,109.94" fill="#9dbf6e"/><polygon points="514.01,114.86 520.67,112.98 515.57,110.52 508.91,112.4" fill="#94bf72"/><polygon points="519.12,117.32 525.78,115.44 520.67,112.98 514.01,114.86" fill="#8bbf75"/><polygon points="524.22,119.78 530.88,117.9 525.78,115.44 519.12,117.32" fill="#82bf79"/><polygon points="529.32,122.26 535.99,120.33 530.88,117.9 524.22,119.78" fill="#78bf7d"/><polygon points="534.43,124.99 541.09,122.76 535.99,120.33 529.32,122.26" fill="#6ebf82"/><polygon points="539.53,128.36 546.19,125.47 541.09,122.76 534.43,124.99" fill="#63be86"/><polygon points="544.64,131.5 551.3,128.94 546.19,125.47 539.53,128.36" fill="#59bd8c"/><polygon points="549.74,133.55 556.4,133.16 551.3,128.94 544.64,131.5" fill="#4fbc91"/><polygon points="554.84,135.42 561.51,137.84 556.4,133.16 549.74,133.55" fill="#45bb96"/><polygon points="559.95,137.68 566.61,141.67 561.51,137.84 554.84,135.42" fill="#3bba9c"/><polygon points="565.05,140.33 571.71,142.75 566.61,141.67 559.95,137.68" fill="#33b8a1"/><polygon points="570.16,143.38 576.82,143 571.71,142.75 565.05,140.33" fill="#2bb6a6"/><polygon points="575.26,146.24 581.92,143.69 576.82,143 570.16,143.38" fill="#23b4ab"/><polygon points="580.36,148.03 587.03,145.13 581.92,143.69 575.26,146.24" fill="#1cb3b0"/><polygon points="585.47,149.57 592.13,147.34 587.03,145.13 580.36,148.03" fill="#15b1b4"/><polygon points="590.57,151.75 597.23,149.83 592.13,147.34 585.47,149.57" fill="#10afb8"/><polygon points="595.68,154.19 602.34,152.31 597.23,149.83 590.57,151.75" fill="#0badbc"/><polygon points="600.78,156.65 607.44,154.77 602.34,152.31 595.68,154.19" fill="#08aac0"/><polygon points="605.88,159.1 612.55,157.23 607.44,154.77 600.78,156.65" fill="#06a8c4"/><polygon points="610.99,161.56 617.65,159.68 612.55,157.23 605.88,159.1" fill="#06a6c7"/><polygon points="616.09,164.02 622.75,162.14 617.65,159.68 610.99,161.56" fill="#06a3cb"/><polygon points="621.2,166.48 627.86,164.6 622.75,162.14 616.09,164.02" fill="#06a0cd"/><polygon points="626.3,168.94 632.96,167.06 627.86,164.6 621.2,166.48" fill="#079ccf"/><polygon points="502.25,114.28 508.91,112.4 503.8,109.94 497.14,111.82" fill="#84bf78"/><polygon points="507.35,116.74 514.01,114.86 508.91,112.4 502.25,114.28" fill="#7dbf7b"/><polygon points="512.45,119.2 519.12,117.32 514.01,114.86 507.35,116.74" fill="#75bf7e"/><polygon points="517.56,121.66 524.22,119.78 519.12,117.32 512.45,119.2" fill="#6ebf82"/><polygon points="522.66,124.31 529.32,122.26 524.22,119.78 517.56,121.66" fill="#66be85"/><polygon points="527.77,127.87 534.43,124.99 529.32,122.26 522.66,124.31" fill="#5ebe89"/><polygon points="532.87,132.01 539.53,128.36 534.43,124.99 527.77,127.87" fill="#56bd8d"/><polygon points="537.97,132.97 544.64,131.5 539.53,128.36 532.87,132.01" fill="#4fbc91"/><polygon points="543.08,128.55 549.74,133.55 544.64,131.5 537.97,132.97" fill="#47bb95"/><polygon points="548.18,119.99 554.84,135.42 549.74,133.55 543.08,128.55" fill="#40ba99"/><polygon points="553.29,115.3 559.95,137.68 554.84,135.42 548.18,119.99" fill="#39b99d"/><polygon points="558.39,124.91 565.05,140.33 559.95,137.68 553.29,115.3" fill="#33b8a1"/><polygon points="563.49,138.38 570.16,143.38 565.05,140.33 558.39,124.91" fill="#2db7a5"/><polygon points="568.6,147.71 575.26,146.24 570.16,143.38 563.49,138.38" fill="#27b5a8"/><polygon points="573.7,151.67 580.36,148.03 575.26,146.24 568.6,147.71" fill="#21b4ac"/><polygon points="578.81,152.45 585.47,149.57 580.36,148.03 573.7,151.67" fill="#1cb3b0"/><polygon points="583.91,153.81 590.57,151.75 585.47,149.57 578.81,152.45" fill="#17b1b3"/><polygon points="589.01,156.07 595.68,154.19 590.57,151.75 583.91,153.81" fill="#13b0b6"/><polygon points="594.12,158.53 600.78,156.65 595.68,154.19 589.01,156.07" fill="#0faeb9"/><polygon points="599.22,160.98 605.88,159.1 600.78,156.65 594.12,158.53" fill="#0badbc"/><polygon points="604.33,163.44 610.99,161.56 605.88,159.1 599.22,160.98" fill="#09abbf"/><polygon points="609.43,165.9 616.09,164.02 610.99,161.56 604.33,163.44" fill="#07a9c2"/><polygon points="614.53,168.36 621.2,166.48 616.09,164.02 609.43,165.9" fill="#06a7c5"/><polygon points="619.64,170.81 626.3,168.94 621.2,166.48 614.53,168.36" fill="#06a6c7"/><polygon points="495.58,116.16 502.25,114.28 497.14,111.82 490.48,113.7" fill="#69be84"/><polygon points="500.69,118.62 507.35,116.74 502.25,114.28 495.58,116.16" fill="#63be86"/><polygon points="505.79,121.08 512.45,119.2 507.35,116.74 500.69,118.62" fill="#5ebe89"/><polygon points="510.9,123.54 517.56,121.66 512.45,119.2 505.79,121.08" fill="#59bd8c"/><polygon points="516,126.48 522.66,124.31 517.56,121.66 510.9,123.54" fill="#54bd8e"/><polygon points="521.1,131.18 527.77,127.87 522.66,124.31 516,126.48" fill="#4fbc91"/><polygon points="526.21,136.1 532.87,132.01 527.77,127.87 521.1,131.18" fill="#4abc94"/><polygon points="531.31,134.26 537.97,132.97 532.87,132.01 526.21,136.1" fill="#45bb96"/><polygon points="536.41,119.41 543.08,128.55 537.97,132.97 531.31,134.26" fill="#40ba99"/><polygon points="541.52,91.98 548.18,119.99 543.08,128.55 536.41,119.41" fill="#3bba9c"/><polygon points="546.62,74.58 553.29,115.3 548.18,119.99 541.52,91.98" fill="#37b99e"/><polygon points="551.73,96.89 558.39,124.91 553.29,115.3 546.62,74.58" fill="#33b8a1"/><polygon points="556.83,129.24 563.49,138.38 558.39,124.91 551.73,96.89" fill="#2fb7a3"/><polygon points="561.94,149.01 568.6,147.71 563.49,138.38 556.83,129.24" fill="#2bb6a6"/><polygon points="567.04,155.76 573.7,151.67 568.6,147.71 561.94,149.01" fill="#27b5a8"/><polygon points="572.14,155.76 578.81,152.45 573.7,151.67 567.04,155.76" fill="#23b4ab"/><polygon points="577.25,155.98 583.91,153.81 578.81,152.45 572.14,155.76" fill="#1fb4ad"/><polygon points="582.35,157.95 589.01,156.07 583.91,153.81 577.25,155.98" fill="#1cb3b0"/><polygon points="587.46,160.4 594.12,158.53 589.01,156.07 582.35,157.95" fill="#19b2b2"/><polygon points="592.56,162.86 599.22,160.98 594.12,158.53 587.46,160.4" fill="#15b1b4"/><polygon points="597.66,165.32 604.33,163.44 599.22,160.98 592.56,162.86" fill="#13b0b6"/><polygon points="602.77,167.78 609.43,165.9 604.33,163.44 597.66,165.32" fill="#10afb8"/><polygon points="607.87,170.24 614.53,168.36 609.43,165.9 602.77,167.78" fill="#0daeba"/><polygon points="612.98,172.69 619.64,170.81 614.53,168.36 607.87,170.24" fill="#0badbc"/><polygon points="488.92,118.04 495.58,116.16 490.48,113.7 483.82,115.58" fill="#4cbc92"/><polygon points="494.02,120.5 500.69,118.62 495.58,116.16 488.92,118.04" fill="#4abc94"/><polygon points="499.13,122.96 505.79,121.08 500.69,118.62 494.02,120.5" fill="#47bb95"/><polygon points="504.23,125.42 510.9,123.54 505.79,121.08 499.13,122.96" fill="#45bb96"/><polygon points="509.34,128.54 516,126.48 510.9,123.54 504.23,125.42" fill="#42bb98"/><polygon points="514.44,133.9 521.1,131.18 516,126.48 509.34,128.54" fill="#40ba99"/><polygon points="519.54,139.35 526.21,136.1 521.1,131.18 514.44,133.9" fill="#3eba9a"/><polygon points="524.65,135.94 531.31,134.26 526.21,136.1 519.54,139.35" fill="#3bba9c"/><polygon points="529.75,114.14 536.41,119.41 531.31,134.26 524.65,135.94" fill="#39b99d"/><polygon points="534.86,74 541.52,91.98 536.41,119.41 529.75,114.14" fill="#37b99e"/><polygon points="539.96,48.1 546.62,74.58 541.52,91.98 534.86,74" fill="#35b8a0"/><polygon points="545.06,78.91 551.73,96.89 546.62,74.58 539.96,48.1" fill="#33b8a1"/><polygon points="550.17,123.97 556.83,129.24 551.73,96.89 545.06,78.91" fill="#31b8a2"/><polygon points="555.27,150.69 561.94,149.01 556.83,129.24 550.17,123.97" fill="#2fb7a3"/><polygon points="560.38,159.02 567.04,155.76 561.94,149.01 555.27,150.69" fill="#2db7a5"/><polygon points="565.48,158.48 572.14,155.76 567.04,155.76 560.38,159.02" fill="#2bb6a6"/><polygon points="570.58,158.04 577.25,155.98 572.14,155.76 565.48,158.48" fill="#29b6a7"/><polygon points="575.69,159.83 582.35,157.95 577.25,155.98 570.58,158.04" fill="#27b5a8"/><polygon points="580.79,162.28 587.46,160.4 582.35,157.95 575.69,159.83" fill="#25b5aa"/><polygon points="585.9,164.74 592.56,162.86 587.46,160.4 580.79,162.28" fill="#23b4ab"/><polygon points="591,167.2 597.66,165.32 592.56,162.86 585.9,164.74" fill="#21b4ac"/><polygon points="596.1,169.66 602.77,167.78 597.66,165.32 591,167.2" fill="#1fb4ad"/><polygon points="601.21,172.12 607.87,170.24 602.77,167.78 596.1,169.66" fill="#1eb3ae"/><polygon points="606.31,174.57 612.98,172.69 607.87,170.24 601.21,172.12" fill="#1cb3b0"/><polygon points="482.26,119.92 488.92,118.04 483.82,115.58 477.15,117.46" fill="#33b8a1"/><polygon points="487.36,122.38 494.02,120.5 488.92,118.04 482.26,119.92" fill="#33b8a1"/><polygon points="492.47,124.83 499.13,122.96 494.02,120.5 487.36,122.38" fill="#33b8a1"/><polygon points="497.57,127.3 504.23,125.42 499.13,122.96 492.47,124.83" fill="#33b8a1"/><polygon points="502.67,130.24 509.34,128.54 504.23,125.42 497.57,127.3" fill="#33b8a1"/><polygon points="507.78,134.94 514.44,133.9 509.34,128.54 502.67,130.24" fill="#33b8a1"/><polygon points="512.88,139.86 519.54,139.35 514.44,133.9 507.78,134.94" fill="#33b8a1"/><polygon points="517.99,138.02 524.65,135.94 519.54,139.35 512.88,139.86" fill="#33b8a1"/><polygon points="523.09,123.17 529.75,114.14 524.65,135.94 517.99,138.02" fill="#33b8a1"/><polygon points="528.19,95.73 534.86,74 529.75,114.14 523.09,123.17" fill="#33b8a1"/><polygon points="533.3,78.34 539.96,48.1 534.86,74 528.19,95.73" fill="#33b8a1"/><polygon points="538.4,100.65 545.06,78.91 539.96,48.1 533.3,78.34" fill="#33b8a1"/><polygon points="543.51,133 550.17,123.97 545.06,78.91 538.4,100.65" fill="#33b8a1"/><polygon points="548.61,152.77 555.27,150.69 550.17,123.97 543.51,133" fill="#33b8a1"/><polygon points="553.71,159.52 560.38,159.02 555.27,150.69 548.61,152.77" fill="#33b8a1"/><polygon points="558.82,159.52 565.48,158.48 560.38,159.02 553.71,159.52" fill="#33b8a1"/><polygon points="563.92,159.74 570.58,158.04 565.48,158.48 558.82,159.52" fill="#33b8a1"/><polygon points="569.03,161.71 575.69,159.83 570.58,158.04 563.92,159.74" fill="#33b8a1"/><polygon points="574.13,164.16 580.79,162.28 575.69,159.83 569.03,161.71" fill="#33b8a1"/><polygon points="579.23,166.62 585.9,164.74 580.79,162.28 574.13,164.16" fill="#33b8a1"/><polygon points="584.34,169.08 591,167.2 585.9,164.74 579.23,166.62" fill="#33b8a1"/><polygon points="589.44,171.54 596.1,169.66 591,167.2 584.34,169.08" fill="#33b8a1"/><polygon points="594.55,173.99 601.21,172.12 596.1,169.66 589.44,171.54" fill="#33b8a1"/><polygon points="599.65,176.45 606.31,174.57 601.21,172.12 594.55,173.99" fill="#33b8a1"/><polygon points="475.6,121.8 482.26,119.92 477.15,117.46 470.49,119.34" fill="#1eb3ae"/><polygon points="480.7,124.26 487.36,122.38 482.26,119.92 475.6,121.8" fill="#1fb4ad"/><polygon points="485.8,126.71 492.47,124.83 487.36,122.38 480.7,124.26" fill="#21b4ac"/><polygon points="490.91,129.17 497.57,127.3 492.47,124.83 485.8,126.71" fill="#23b4ab"/><polygon points="496.01,131.83 502.67,130.24 497.57,127.3 490.91,129.17" fill="#25b5aa"/><polygon points="501.12,135.39 507.78,134.94 502.67,130.24 496.01,131.83" fill="#27b5a8"/><polygon points="506.22,139.52 512.88,139.86 507.78,134.94 501.12,135.39" fill="#29b6a7"/><polygon points="511.32,140.48 517.99,138.02 512.88,139.86 506.22,139.52" fill="#2bb6a6"/><polygon points="516.43,136.07 523.09,123.17 517.99,138.02 511.32,140.48" fill="#2db7a5"/><polygon points="521.53,127.51 528.19,95.73 523.09,123.17 516.43,136.07" fill="#2fb7a3"/><polygon points="526.64,122.81 533.3,78.34 528.19,95.73 521.53,127.51" fill="#31b8a2"/><polygon points="531.74,132.42 538.4,100.65 533.3,78.34 526.64,122.81" fill="#33b8a1"/><polygon points="536.84,145.9 543.51,133 538.4,100.65 531.74,132.42" fill="#35b8a0"/><polygon points="541.95,155.23 548.61,152.77 543.51,133 536.84,145.9" fill="#37b99e"/><polygon points="547.05,159.19 553.71,159.52 548.61,152.77 541.95,155.23" fill="#39b99d"/><polygon points="552.16,159.97 558.82,159.52 553.71,159.52 547.05,159.19" fill="#3bba9c"/><polygon points="557.26,161.33 563.92,159.74 558.82,159.52 552.16,159.97" fill="#3eba9a"/><polygon points="562.36,163.59 569.03,161.71 563.92,159.74 557.26,161.33" fill="#40ba99"/><polygon points="567.47,166.04 574.13,164.16 569.03,161.71 562.36,163.59" fill="#42bb98"/><polygon points="572.57,168.5 579.23,166.62 574.13,164.16 567.47,166.04" fill="#45bb96"/><polygon points="577.68,170.96 584.34,169.08 579.23,166.62 572.57,168.5" fill="#47bb95"/><polygon points="582.78,173.41 589.44,171.54 584.34,169.08 577.68,170.96" fill="#4abc94"/><polygon points="587.88,175.87 594.55,173.99 589.44,171.54 582.78,173.41" fill="#4cbc92"/><polygon points="592.99,178.33 599.65,176.45 594.55,173.99 587.88,175.87" fill="#4fbc91"/><polygon points="468.93,123.68 475.6,121.8 470.49,119.34 463.83,121.22" fill="#0daeba"/><polygon points="474.04,126.13 480.7,124.26 475.6,121.8 468.93,123.68" fill="#10afb8"/><polygon points="479.14,128.59 485.8,126.71 480.7,124.26 474.04,126.13" fill="#13b0b6"/><polygon points="484.25,131.05 490.91,129.17 485.8,126.71 479.14,128.59" fill="#15b1b4"/><polygon points="489.35,133.53 496.01,131.83 490.91,129.17 484.25,131.05" fill="#19b2b2"/><polygon points="494.45,136.26 501.12,135.39 496.01,131.83 489.35,133.53" fill="#1cb3b0"/><polygon points="499.56,139.64 506.22,139.52 501.12,135.39 494.45,136.26" fill="#1fb4ad"/><polygon points="504.66,142.77 511.32,140.48 506.22,139.52 499.56,139.64" fill="#23b4ab"/><polygon points="509.77,144.82 516.43,136.07 511.32,140.48 504.66,142.77" fill="#27b5a8"/><polygon points="514.87,146.69 521.53,127.51 516.43,136.07 509.77,144.82" fill="#2bb6a6"/><polygon points="519.97,148.95 526.64,122.81 521.53,127.51 514.87,146.69" fill="#2fb7a3"/><polygon points="525.08,151.61 531.74,132.42 526.64,122.81 519.97,148.95" fill="#33b8a1"/><polygon points="530.18,154.65 536.84,145.9 531.74,132.42 525.08,151.61" fill="#37b99e"/><polygon points="535.29,157.52 541.95,155.23 536.84,145.9 530.18,154.65" fill="#3bba9c"/><polygon points="540.39,159.3 547.05,159.19 541.95,155.23 535.29,157.52" fill="#40ba99"/><polygon points="545.49,160.84 552.16,159.97 547.05,159.19 540.39,159.3" fill="#45bb96"/><polygon points="550.6,163.03 557.26,161.33 552.16,159.97 545.49,160.84" fill="#4abc94"/><polygon points="555.7,165.46 562.36,163.59 557.26,161.33 550.6,163.03" fill="#4fbc91"/><polygon points="560.81,167.92 567.47,166.04 562.36,163.59 555.7,165.46" fill="#54bd8e"/><polygon points="565.91,170.38 572.57,168.5 567.47,166.04 560.81,167.92" fill="#59bd8c"/><polygon points="571.01,172.84 577.68,170.96 572.57,168.5 565.91,170.38" fill="#5ebe89"/><polygon points="576.12,175.29 582.78,173.41 577.68,170.96 571.01,172.84" fill="#63be86"/><polygon points="581.22,177.75 587.88,175.87 582.78,173.41 576.12,175.29" fill="#69be84"/><polygon points="586.33,180.21 592.99,178.33 587.88,175.87 581.22,177.75" fill="#6ebf82"/><polygon points="462.27,125.56 468.93,123.68 463.83,121.22 457.17,123.1" fill="#06a7c5"/><polygon points="467.37,128.01 474.04,126.13 468.93,123.68 462.27,125.56" fill="#07a9c2"/><polygon points="472.48,130.47 479.14,128.59 474.04,126.13 467.37,128.01" fill="#09abbf"/><polygon points="477.58,132.93 484.25,131.05 479.14,128.59 472.48,130.47" fill="#0badbc"/><polygon points="482.69,135.37 489.35,133.53 484.25,131.05 477.58,132.93" fill="#0faeb9"/><polygon points="487.79,137.79 494.45,136.26 489.35,133.53 482.69,135.37" fill="#13b0b6"/><polygon points="492.89,140.5 499.56,139.64 494.45,136.26 487.79,137.79" fill="#17b1b3"/><polygon points="498,143.97 504.66,142.77 499.56,139.64 492.89,140.5" fill="#1cb3b0"/><polygon points="503.1,148.2 509.77,144.82 504.66,142.77 498,143.97" fill="#21b4ac"/><polygon points="508.21,152.87 514.87,146.69 509.77,144.82 503.1,148.2" fill="#27b5a8"/><polygon points="513.31,156.7 519.97,148.95 514.87,146.69 508.21,152.87" fill="#2db7a5"/><polygon points="518.41,157.78 525.08,151.61 519.97,148.95 513.31,156.7" fill="#33b8a1"/><polygon points="523.52,158.03 530.18,154.65 525.08,151.61 518.41,157.78" fill="#39b99d"/><polygon points="528.62,158.72 535.29,157.52 530.18,154.65 523.52,158.03" fill="#40ba99"/><polygon points="533.73,160.16 540.39,159.3 535.29,157.52 528.62,158.72" fill="#47bb95"/><polygon points="538.83,162.37 545.49,160.84 540.39,159.3 533.73,160.16" fill="#4fbc91"/><polygon points="543.93,164.86 550.6,163.03 545.49,160.84 538.83,162.37" fill="#56bd8d"/><polygon points="549.04,167.34 555.7,165.46 550.6,163.03 543.93,164.86" fill="#5ebe89"/><polygon points="554.14,169.8 560.81,167.92 555.7,165.46 549.04,167.34" fill="#66be85"/><polygon points="559.25,172.26 565.91,170.38 560.81,167.92 554.14,169.8" fill="#6ebf82"/><polygon points="564.35,174.72 571.01,172.84 565.91,170.38 559.25,172.26" fill="#75bf7e"/><polygon points="569.45,177.17 576.12,175.29 571.01,172.84 564.35,174.72" fill="#7dbf7b"/><polygon points="574.56,179.63 581.22,177.75 576.12,175.29 569.45,177.17" fill="#84bf78"/><polygon points="579.66,182.09 586.33,180.21 581.22,177.75 574.56,179.63" fill="#8bbf75"/><polygon points="455.61,127.43 462.27,125.56 457.17,123.1 450.5,124.98" fill="#06a0cd"/><polygon points="460.71,129.89 467.37,128.01 462.27,125.56 455.61,127.43" fill="#06a3cb"/><polygon points="465.82,132.35 472.48,130.47 467.37,128.01 460.71,129.89" fill="#06a6c7"/><polygon points="470.92,134.81 477.58,132.93 472.48,130.47 465.82,132.35" fill="#06a8c4"/><polygon points="476.02,137.25 482.69,135.37 477.58,132.93 470.92,134.81" fill="#08aac0"/><polygon points="481.13,139.67 487.79,137.79 482.69,135.37 476.02,137.25" fill="#0badbc"/><polygon points="486.23,142.13 492.89,140.5 487.79,137.79 481.13,139.67" fill="#10afb8"/><polygon points="491.34,144.94 498,143.97 492.89,140.5 486.23,142.13" fill="#15b1b4"/><polygon points="496.44,148.4 503.1,148.2 498,143.97 491.34,144.94" fill="#1cb3b0"/><polygon points="501.54,152.29 508.21,152.87 503.1,148.2 496.44,148.4" fill="#23b4ab"/><polygon points="506.65,155.59 513.31,156.7 508.21,152.87 501.54,152.29" fill="#2bb6a6"/><polygon points="511.75,157.2 518.41,157.78 513.31,156.7 506.65,155.59" fill="#33b8a1"/><polygon points="516.86,158.23 523.52,158.03 518.41,157.78 511.75,157.2" fill="#3bba9c"/><polygon points="521.96,159.69 528.62,158.72 523.52,158.03 516.86,158.23" fill="#45bb96"/><polygon points="527.06,161.79 533.73,160.16 528.62,158.72 521.96,159.69" fill="#4fbc91"/><polygon points="532.17,164.25 538.83,162.37 533.73,160.16 527.06,161.79" fill="#59bd8c"/><polygon points="537.27,166.75 543.93,164.86 538.83,162.37 532.17,164.25" fill="#63be86"/><polygon points="542.38,169.22 549.04,167.34 543.93,164.86 537.27,166.75" fill="#6ebf82"/><polygon points="547.48,171.68 554.14,169.8 549.04,167.34 542.38,169.22" fill="#78bf7d"/><polygon points="552.58,174.14 559.25,172.26 554.14,169.8 547.48,171.68" fill="#82bf79"/><polygon points="557.69,176.59 564.35,174.72 559.25,172.26 552.58,174.14" fill="#8bbf75"/><polygon points="562.79,179.05 569.45,177.17 564.35,174.72 557.69,176.59" fill="#94bf72"/><polygon points="567.9,181.51 574.56,179.63 569.45,177.17 562.79,179.05" fill="#9dbf6e"/><polygon points="573,183.97 579.66,182.09 574.56,179.63 567.9,181.51" fill="#a5be6b"/><polygon points="448.95,129.31 455.61,127.43 450.5,124.98 443.84,126.86" fill="#0b96d1"/><polygon points="454.05,131.77 460.71,129.89 455.61,127.43 448.95,129.31" fill="#089bd0"/><polygon points="459.15,134.23 465.82,132.35 460.71,129.89 454.05,131.77" fill="#069fce"/><polygon points="464.26,136.69 470.92,134.81 465.82,132.35 459.15,134.23" fill="#06a3cb"/><polygon points="469.36,139.14 476.02,137.25 470.92,134.81 464.26,136.69" fill="#06a6c7"/><polygon points="474.47,141.59 481.13,139.67 476.02,137.25 469.36,139.14" fill="#07a9c2"/><polygon points="479.57,144.04 486.23,142.13 481.13,139.67 474.47,141.59" fill="#0aacbd"/><polygon points="484.67,146.54 491.34,144.94 486.23,142.13 479.57,144.04" fill="#10afb8"/><polygon points="489.78,149.18 496.44,148.4 491.34,144.94 484.67,146.54" fill="#17b1b3"/><polygon points="494.88,151.93 501.54,152.29 496.44,148.4 489.78,149.18" fill="#1fb4ad"/><polygon points="499.99,154.56 506.65,155.59 501.54,152.29 494.88,151.93" fill="#29b6a7"/><polygon points="505.09,156.84 511.75,157.2 506.65,155.59 499.99,154.56" fill="#33b8a1"/><polygon points="510.19,159.01 516.86,158.23 511.75,157.2 505.09,156.84" fill="#3eba9a"/><polygon points="515.3,161.29 521.96,159.69 516.86,158.23 510.19,159.01" fill="#4abc94"/><polygon points="520.4,163.7 527.06,161.79 521.96,159.69 515.3,161.29" fill="#56bd8d"/><polygon points="525.51,166.17 532.17,164.25 527.06,161.79 520.4,163.7" fill="#63be86"/><polygon points="530.61,168.64 537.27,166.75 532.17,164.25 525.51,166.17" fill="#70bf81"/><polygon points="535.71,171.1 542.38,169.22 537.27,166.75 530.61,168.64" fill="#7dbf7b"/><polygon points="540.82,173.56 547.48,171.68 542.38,169.22 535.71,171.1" fill="#89bf76"/><polygon points="545.92,176.02 552.58,174.14 547.48,171.68 540.82,173.56" fill="#94bf72"/><polygon points="551.03,178.47 557.69,176.59 552.58,174.14 545.92,176.02" fill="#9fbe6d"/><polygon points="556.13,180.93 562.79,179.05 557.69,176.59 551.03,178.47" fill="#a9be69"/><polygon points="561.23,183.39 567.9,181.51 562.79,179.05 556.13,180.93" fill="#b3bd65"/><polygon points="566.34,185.85 573,183.97 567.9,181.51 561.23,183.39" fill="#bdbd61"/><polygon points="442.28,131.19 448.95,129.31 443.84,126.86 437.18,128.73" fill="#1389d3"/><polygon points="447.39,133.65 454.05,131.77 448.95,129.31 442.28,131.19" fill="#0f90d2"/><polygon points="452.49,136.11 459.15,134.23 454.05,131.77 447.39,133.65" fill="#0a97d1"/><polygon points="457.6,138.57 464.26,136.69 459.15,134.23 452.49,136.11" fill="#079ccf"/><polygon points="462.7,141.02 469.36,139.14 464.26,136.69 457.6,138.57" fill="#06a1cc"/><polygon points="467.8,143.48 474.47,141.59 469.36,139.14 462.7,141.02" fill="#06a6c7"/><polygon points="472.91,145.94 479.57,144.04 474.47,141.59 467.8,143.48" fill="#07a9c2"/><polygon points="478.01,148.4 484.67,146.54 479.57,144.04 472.91,145.94" fill="#0badbc"/><polygon points="483.12,150.86 489.78,149.18 484.67,146.54 478.01,148.4" fill="#13b0b6"/><polygon points="488.22,153.32 494.88,151.93 489.78,149.18 483.12,150.86" fill="#1cb3b0"/><polygon points="493.32,155.78 499.99,154.56 494.88,151.93 488.22,153.32" fill="#27b5a8"/><polygon points="498.43,158.24 505.09,156.84 499.99,154.56 493.32,155.78" fill="#33b8a1"/><polygon points="503.53,160.69 510.19,159.01 505.09,156.84 498.43,158.24" fill="#40ba99"/><polygon points="508.64,163.15 515.3,161.29 510.19,159.01 503.53,160.69" fill="#4fbc91"/><polygon points="513.74,165.6 520.4,163.7 515.3,161.29 508.64,163.15" fill="#5ebe89"/><polygon points="518.84,168.06 525.51,166.17 520.4,163.7 513.74,165.6" fill="#6ebf82"/><polygon points="523.95,170.52 530.61,168.64 525.51,166.17 518.84,168.06" fill="#7dbf7b"/><polygon points="529.05,172.98 535.71,171.1 530.61,168.64 523.95,170.52" fill="#8bbf75"/><polygon points="534.16,175.44 540.82,173.56 535.71,171.1 529.05,172.98" fill="#98bf70"/><polygon points="539.26,177.89 545.92,176.02 540.82,173.56 534.16,175.44" fill="#a5be6b"/><polygon points="544.36,180.35 551.03,178.47 545.92,176.02 539.26,177.89" fill="#b1bd66"/><polygon points="549.47,182.81 556.13,180.93 551.03,178.47 544.36,180.35" fill="#bdbd61"/><polygon points="554.57,185.27 561.23,183.39 556.13,180.93 549.47,182.81" fill="#c8bc5d"/><polygon points="559.68,187.73 566.34,185.85 561.23,183.39 554.57,185.27" fill="#d3bb58"/><polygon points="435.62,133.07 442.28,131.19 437.18,128.73 430.52,130.61" fill="#137fd7"/><polygon points="440.72,135.53 447.39,133.65 442.28,131.19 435.62,133.07" fill="#1485d4"/><polygon points="445.83,137.99 452.49,136.11 447.39,133.65 440.72,135.53" fill="#118dd2"/><polygon points="450.93,140.45 457.6,138.57 452.49,136.11 445.83,137.99" fill="#0c94d2"/><polygon points="456.04,142.9 462.7,141.02 457.6,138.57 450.93,140.45" fill="#079cd0"/><polygon points="461.14,145.36 467.8,143.48 462.7,141.02 456.04,142.9" fill="#06a1cc"/><polygon points="466.24,147.82 472.91,145.94 467.8,143.48 461.14,145.36" fill="#06a6c7"/><polygon points="471.35,150.28 478.01,148.4 472.91,145.94 466.24,147.82" fill="#08aac0"/><polygon points="476.45,152.74 483.12,150.86 478.01,148.4 471.35,150.28" fill="#0faeb9"/><polygon points="481.56,155.19 488.22,153.32 483.12,150.86 476.45,152.74" fill="#19b2b2"/><polygon points="486.66,157.65 493.32,155.78 488.22,153.32 481.56,155.19" fill="#25b5aa"/><polygon points="491.76,160.11 498.43,158.24 493.32,155.78 486.66,157.65" fill="#33b8a1"/><polygon points="496.87,162.57 503.53,160.69 498.43,158.24 491.76,160.11" fill="#42bb98"/><polygon points="501.97,165.03 508.64,163.15 503.53,160.69 496.87,162.57" fill="#54bd8e"/><polygon points="507.08,167.48 513.74,165.6 508.64,163.15 501.97,165.03" fill="#66be85"/><polygon points="512.18,169.94 518.84,168.06 513.74,165.6 507.08,167.48" fill="#78bf7d"/><polygon points="517.28,172.4 523.95,170.52 518.84,168.06 512.18,169.94" fill="#89bf76"/><polygon points="522.39,174.86 529.05,172.98 523.95,170.52 517.28,172.4" fill="#98bf70"/><polygon points="527.49,177.31 534.16,175.44 529.05,172.98 522.39,174.86" fill="#a7be6a"/><polygon points="532.6,179.77 539.26,177.89 534.16,175.44 527.49,177.31" fill="#b5bd64"/><polygon points="537.7,182.23 544.36,180.35 539.26,177.89 532.6,179.77" fill="#c2bc5f"/><polygon points="542.8,184.69 549.47,182.81 544.36,180.35 537.7,182.23" fill="#cfbb5a"/><polygon points="547.91,187.15 554.57,185.27 549.47,182.81 542.8,184.69" fill="#dcba54"/><polygon points="553.01,189.6 559.68,187.73 554.57,185.27 547.91,187.15" fill="#e8b94f"/><polygon points="428.96,134.95 435.62,133.07 430.52,130.61 423.85,132.49" fill="#0e76dc"/><polygon points="434.06,137.41 440.72,135.53 435.62,133.07 428.96,134.95" fill="#127dd8"/><polygon points="439.17,139.87 445.83,137.99 440.72,135.53 434.06,137.41" fill="#1484d4"/><polygon points="444.27,142.32 450.93,140.45 445.83,137.99 439.17,139.87" fill="#128cd2"/><polygon points="449.37,144.78 456.04,142.9 450.93,140.45 444.27,142.32" fill="#0c94d2"/><polygon points="454.48,147.24 461.14,145.36 456.04,142.9 449.37,144.78" fill="#079ccf"/><polygon points="459.58,149.7 466.24,147.82 461.14,145.36 454.48,147.24" fill="#06a3cb"/><polygon points="464.69,152.16 471.35,150.28 466.24,147.82 459.58,149.7" fill="#06a8c4"/><polygon points="469.79,154.61 476.45,152.74 471.35,150.28 464.69,152.16" fill="#0badbc"/><polygon points="474.89,157.07 481.56,155.19 476.45,152.74 469.79,154.61" fill="#15b1b4"/><polygon points="480,159.53 486.66,157.65 481.56,155.19 474.89,157.07" fill="#23b4ab"/><polygon points="485.1,161.99 491.76,160.11 486.66,157.65 480,159.53" fill="#33b8a1"/><polygon points="490.21,164.45 496.87,162.57 491.76,160.11 485.1,161.99" fill="#45bb96"/><polygon points="495.31,166.9 501.97,165.03 496.87,162.57 490.21,164.45" fill="#59bd8c"/><polygon points="500.41,169.36 507.08,167.48 501.97,165.03 495.31,166.9" fill="#6ebf82"/><polygon points="505.52,171.82 512.18,169.94 507.08,167.48 500.41,169.36" fill="#82bf79"/><polygon points="510.62,174.28 517.28,172.4 512.18,169.94 505.52,171.82" fill="#94bf72"/><polygon points="515.73,176.74 522.39,174.86 517.28,172.4 510.62,174.28" fill="#a5be6b"/><polygon points="520.83,179.19 527.49,177.31 522.39,174.86 515.73,176.74" fill="#b5bd64"/><polygon points="525.93,181.65 532.6,179.77 527.49,177.31 520.83,179.19" fill="#c4bc5e"/><polygon points="531.04,184.11 537.7,182.23 532.6,179.77 525.93,181.65" fill="#d3bb58"/><polygon points="536.14,186.57 542.8,184.69 537.7,182.23 531.04,184.11" fill="#e1b952"/><polygon points="541.25,189.03 547.91,187.15 542.8,184.69 536.14,186.57" fill="#efb94b"/><polygon points="546.35,191.48 553.01,189.6 547.91,187.15 541.25,189.03" fill="#fbbc41"/><polygon points="422.3,136.83 428.96,134.95 423.85,132.49 417.19,134.37" fill="#046ce0"/><polygon points="427.4,139.29 434.06,137.41 428.96,134.95 422.3,136.83" fill="#0c74dd"/><polygon points="432.5,141.75 439.17,139.87 434.06,137.41 427.4,139.29" fill="#127cd8"/><polygon points="437.61,144.2 444.27,142.32 439.17,139.87 432.5,141.75" fill="#1484d4"/><polygon points="442.71,146.66 449.37,144.78 444.27,142.32 437.61,144.2" fill="#118dd2"/><polygon points="447.82,149.12 454.48,147.24 449.37,144.78 442.71,146.66" fill="#0a97d1"/><polygon points="452.92,151.58 459.58,149.7 454.48,147.24 447.82,149.12" fill="#069fce"/><polygon points="458.02,154.04 464.69,152.16 459.58,149.7 452.92,151.58" fill="#06a6c7"/><polygon points="463.13,156.49 469.79,154.61 464.69,152.16 458.02,154.04" fill="#09abbf"/><polygon points="468.23,158.95 474.89,157.07 469.79,154.61 463.13,156.49" fill="#13b0b6"/><polygon points="473.34,161.41 480,159.53 474.89,157.07 468.23,158.95" fill="#21b4ac"/><polygon points="478.44,163.87 485.1,161.99 480,159.53 473.34,161.41" fill="#33b8a1"/><polygon points="483.54,166.33 490.21,164.45 485.1,161.99 478.44,163.87" fill="#47bb95"/><polygon points="488.65,168.78 495.31,166.9 490.21,164.45 483.54,166.33" fill="#5ebe89"/><polygon points="493.75,171.24 500.41,169.36 495.31,166.9 488.65,168.78" fill="#75bf7e"/><polygon points="498.86,173.7 505.52,171.82 500.41,169.36 493.75,171.24" fill="#8bbf75"/><polygon points="503.96,176.16 510.62,174.28 505.52,171.82 498.86,173.7" fill="#9fbe6d"/><polygon points="509.06,178.62 515.73,176.74 510.62,174.28 503.96,176.16" fill="#b1bd66"/><polygon points="514.17,181.07 520.83,179.19 515.73,176.74 509.06,178.62" fill="#c2bc5f"/><polygon points="519.27,183.53 525.93,181.65 520.83,179.19 514.17,181.07" fill="#d3bb58"/><polygon points="524.38,185.99 531.04,184.11 525.93,181.65 519.27,183.53" fill="#e3b951"/><polygon points="529.48,188.45 536.14,186.57 531.04,184.11 524.38,185.99" fill="#f2b949"/><polygon points="534.58,190.91 541.25,189.03 536.14,186.57 529.48,188.45" fill="#febf3c"/><polygon points="539.69,193.36 546.35,191.48 541.25,189.03 534.58,190.91" fill="#fec932"/><polygon points="415.63,138.71 422.3,136.83 417.19,134.37 410.53,136.25" fill="#0a5fdf"/><polygon points="420.74,141.17 427.4,139.29 422.3,136.83 415.63,138.71" fill="#036be0"/><polygon points="425.84,143.62 432.5,141.75 427.4,139.29 420.74,141.17" fill="#0c74dd"/><polygon points="430.95,146.08 437.61,144.2 432.5,141.75 425.84,143.62" fill="#127dd8"/><polygon points="436.05,148.54 442.71,146.66 437.61,144.2 430.95,146.08" fill="#1485d4"/><polygon points="441.15,151 447.82,149.12 442.71,146.66 436.05,148.54" fill="#0f90d2"/><polygon points="446.26,153.46 452.92,151.58 447.82,149.12 441.15,151" fill="#089bd0"/><polygon points="451.36,155.91 458.02,154.04 452.92,151.58 446.26,153.46" fill="#06a3cb"/><polygon points="456.47,158.37 463.13,156.49 458.02,154.04 451.36,155.91" fill="#07a9c2"/><polygon points="461.57,160.83 468.23,158.95 463.13,156.49 456.47,158.37" fill="#10afb8"/><polygon points="466.67,163.29 473.34,161.41 468.23,158.95 461.57,160.83" fill="#1fb4ad"/><polygon points="471.78,165.75 478.44,163.87 473.34,161.41 466.67,163.29" fill="#33b8a1"/><polygon points="476.88,168.2 483.54,166.33 478.44,163.87 471.78,165.75" fill="#4abc94"/><polygon points="481.99,170.66 488.65,168.78 483.54,166.33 476.88,168.2" fill="#63be86"/><polygon points="487.09,173.12 493.75,171.24 488.65,168.78 481.99,170.66" fill="#7dbf7b"/><polygon points="492.19,175.58 498.86,173.7 493.75,171.24 487.09,173.12" fill="#94bf72"/><polygon points="497.3,178.04 503.96,176.16 498.86,173.7 492.19,175.58" fill="#a9be69"/><polygon points="502.4,180.49 509.06,178.62 503.96,176.16 497.3,178.04" fill="#bdbd61"/><polygon points="507.51,182.95 514.17,181.07 509.06,178.62 502.4,180.49" fill="#cfbb5a"/><polygon points="512.61,185.41 519.27,183.53 514.17,181.07 507.51,182.95" fill="#e1b952"/><polygon points="517.71,187.87 524.38,185.99 519.27,183.53 512.61,185.41" fill="#f2b949"/><polygon points="522.82,190.33 529.48,188.45 524.38,185.99 517.71,187.87" fill="#fec03b"/><polygon points="527.92,192.78 534.58,190.91 529.48,188.45 522.82,190.33" fill="#fdcb30"/><polygon points="533.03,195.24 539.69,193.36 534.58,190.91 527.92,192.78" fill="#f8d727"/><polygon points="408.97,140.59 415.63,138.71 410.53,136.25 403.87,138.13" fill="#2b4bc7"/><polygon points="414.07,143.05 420.74,141.17 415.63,138.71 408.97,140.59" fill="#0a5fdf"/><polygon points="419.18,145.5 425.84,143.62 420.74,141.17 414.07,143.05" fill="#046ce0"/><polygon points="424.28,147.96 430.95,146.08 425.84,143.62 419.18,145.5" fill="#0e76dc"/><polygon points="429.39,150.42 436.05,148.54 430.95,146.08 424.28,147.96" fill="#137fd7"/><polygon points="434.49,152.88 441.15,151 436.05,148.54 429.39,150.42" fill="#1389d3"/><polygon points="439.59,155.34 446.26,153.46 441.15,151 434.49,152.88" fill="#0b96d1"/><polygon points="444.7,157.79 451.36,155.91 446.26,153.46 439.59,155.34" fill="#06a0cd"/><polygon points="449.8,160.25 456.47,158.37 451.36,155.91 444.7,157.79" fill="#06a7c5"/><polygon points="454.91,162.71 461.57,160.83 456.47,158.37 449.8,160.25" fill="#0daeba"/><polygon points="460.01,165.17 466.67,163.29 461.57,160.83 454.91,162.71" fill="#1eb3ae"/><polygon points="465.11,167.62 471.78,165.75 466.67,163.29 460.01,165.17" fill="#33b8a1"/><polygon points="470.22,170.08 476.88,168.2 471.78,165.75 465.11,167.62" fill="#4cbc92"/><polygon points="475.32,172.54 481.99,170.66 476.88,168.2 470.22,170.08" fill="#69be84"/><polygon points="480.43,175 487.09,173.12 481.99,170.66 475.32,172.54" fill="#84bf78"/><polygon points="485.53,177.46 492.19,175.58 487.09,173.12 480.43,175" fill="#9dbf6e"/><polygon points="490.63,179.92 497.3,178.04 492.19,175.58 485.53,177.46" fill="#b3bd65"/><polygon points="495.74,182.37 502.4,180.49 497.3,178.04 490.63,179.92" fill="#c8bc5d"/><polygon points="500.84,184.83 507.51,182.95 502.4,180.49 495.74,182.37" fill="#dcba54"/><polygon points="505.95,187.29 512.61,185.41 507.51,182.95 500.84,184.83" fill="#efb94b"/><polygon points="511.05,189.75 517.71,187.87 512.61,185.41 505.95,187.29" fill="#febf3c"/><polygon points="516.15,192.21 522.82,190.33 517.71,187.87 511.05,189.75" fill="#fdcb30"/><polygon points="521.26,194.66 527.92,192.78 522.82,190.33 516.15,192.21" fill="#f7d826"/><polygon points="526.36,197.12 533.03,195.24 527.92,192.78 521.26,194.66" fill="#f5e71b"/><polygon points="402.31,142.47 408.97,140.59 403.87,138.13 397.2,140.01" fill="#353aa8"/><polygon points="407.41,144.92 414.07,143.05 408.97,140.59 402.31,142.47" fill="#294cca"/><polygon points="412.52,147.38 419.18,145.5 414.07,143.05 407.41,144.92" fill="#0462e0"/><polygon points="417.62,149.84 424.28,147.96 419.18,145.5 412.52,147.38" fill="#066fdf"/><polygon points="422.72,152.3 429.39,150.42 424.28,147.96 417.62,149.84" fill="#1079da"/><polygon points="427.83,154.76 434.49,152.88 429.39,150.42 422.72,152.3" fill="#1484d4"/><polygon points="432.93,157.21 439.59,155.34 434.49,152.88 427.83,154.76" fill="#0f90d2"/><polygon points="438.04,159.67 444.7,157.79 439.59,155.34 432.93,157.21" fill="#079ccf"/><polygon points="443.14,162.13 449.8,160.25 444.7,157.79 438.04,159.67" fill="#06a6c7"/><polygon points="448.24,164.59 454.91,162.71 449.8,160.25 443.14,162.13" fill="#0badbc"/><polygon points="453.35,167.05 460.01,165.17 454.91,162.71 448.24,164.59" fill="#1cb3b0"/><polygon points="458.45,169.5 465.11,167.62 460.01,165.17 453.35,167.05" fill="#33b8a1"/><polygon points="463.56,171.96 470.22,170.08 465.11,167.62 458.45,169.5" fill="#4fbc91"/><polygon points="468.66,174.42 475.32,172.54 470.22,170.08 463.56,171.96" fill="#6ebf82"/><polygon points="473.76,176.88 480.43,175 475.32,172.54 468.66,174.42" fill="#8bbf75"/><polygon points="478.87,179.34 485.53,177.46 480.43,175 473.76,176.88" fill="#a5be6b"/><polygon points="483.97,181.79 490.63,179.92 485.53,177.46 478.87,179.34" fill="#bdbd61"/><polygon points="489.08,184.25 495.74,182.37 490.63,179.92 483.97,181.79" fill="#d3bb58"/><polygon points="494.18,186.71 500.84,184.83 495.74,182.37 489.08,184.25" fill="#e8b94f"/><polygon points="499.28,189.17 505.95,187.29 500.84,184.83 494.18,186.71" fill="#fbbc41"/><polygon points="504.39,191.63 511.05,189.75 505.95,187.29 499.28,189.17" fill="#fec932"/><polygon points="509.49,194.08 516.15,192.21 511.05,189.75 504.39,191.63" fill="#f8d727"/><polygon points="514.6,196.54 521.26,194.66 516.15,192.21 509.49,194.08" fill="#f5e71b"/><polygon points="519.7,199 526.36,197.12 521.26,194.66 514.6,196.54" fill="#f9fb0e"/></g>
<path d="M397.2 174.01L397.2 44.81M397.2 174.01L519.7 233M519.7 233L679.6 187.9M397.2 174.01L393.96 172.45M397.2 140.01L393.96 138.45M397.2 106.01L393.96 104.45M397.2 72.01L393.96 70.45M509.49 228.08L506.03 229.06M533.03 229.24L536.27 230.8M483.97 215.79L480.51 216.77M566.34 219.85L569.58 221.41M458.45 203.5L454.99 204.48M599.65 210.45L602.89 212.01M432.93 191.21L429.47 192.19M632.96 201.06L636.21 202.62M407.41 178.92L403.95 179.9M666.28 191.66L669.52 193.22" stroke="#4a4a4a" stroke-width="0.9" fill="none"/>
<g font-family="Liberation Sans, sans-serif" font-size="9.6" fill="#4d4d4d" stroke="#4d4d4d" stroke-width="0.15"><text x="389.9" y="173.71" text-anchor="end">-0.05</text><text x="389.9" y="139.71" text-anchor="end">0</text><text x="389.9" y="105.71" text-anchor="end">0.05</text><text x="389.9" y="71.71" text-anchor="end">0.1</text><text x="501.69" y="238.78" text-anchor="end">-10</text><text x="539.73" y="240.74">-10</text><text x="476.17" y="226.49" text-anchor="end">-5</text><text x="573.04" y="231.35">-5</text><text x="450.65" y="214.2" text-anchor="end">0</text><text x="606.35" y="221.95">0</text><text x="425.13" y="201.91" text-anchor="end">5</text><text x="639.66" y="212.56">5</text><text x="399.61" y="189.62" text-anchor="end">10</text><text x="672.98" y="203.16">10</text></g></g>
<g><path d="M167.5 523.48L45.2 463.99M144.01 522.34L303.61 476.55M45.2 463.99L45.2 334.84M303.61 476.55L303.61 347.4M200.75 513.94L78.45 454.45M118.53 509.95L278.13 464.15M78.45 454.45L78.45 325.3M278.13 464.15L278.13 335M234 504.4L111.7 444.91M93.05 497.55L252.65 451.76M111.7 444.91L111.7 315.76M252.65 451.76L252.65 322.61M267.25 494.86L144.95 435.37M67.57 485.16L227.17 439.36M144.95 435.37L144.95 306.22M227.17 439.36L227.17 310.21M300.5 485.32L178.2 425.83M42.09 472.76L201.69 426.97M178.2 425.83L178.2 296.68M201.69 426.97L201.69 297.82M31.9 467.8L191.5 422.01M191.5 422.01L313.8 481.51M31.9 432.8L191.5 387.01M191.5 387.01L313.8 446.51M31.9 397.8L191.5 352.01M191.5 352.01L313.8 411.51M31.9 362.8L191.5 317.01M191.5 317.01L313.8 376.51" stroke="#e3e3e3" stroke-width="0.8" fill="none"/>
<path d="M50.48 463.17L58.66 461.13L68.87 459.09L72.96 463.17L66.83 466.24L58.66 465.22L54.57 467.26L60.7 470.33L62.74 474.42L52.52 475.44L49.46 472.37M71.94 458.07L79.09 461.13L87.27 462.15L91.36 466.24L88.29 469.31L81.14 468.28M65.81 480.55L71.94 476.46L76.03 474.42L78.07 477.48L89.31 475.44L95.44 478.5L105.66 479.52L115.88 482.59L126.1 484.63L132.23 487.7L124.06 489.74L115.88 487.7L107.71 486.68L97.49 485.66L89.31 485.66L86.25 488.72L88.29 491.79L83.18 490.77L80.12 485.66L76.03 484.63L73.98 487.7L68.87 485.66L65.81 480.55M85.22 479.12L89.31 479.93L88.29 481.57L85.22 479.12M105.66 473.39L109.75 475.44L115.88 476.46M95.44 494.85L101.57 492.81L109.75 492.81L117.92 493.83L124.06 492.81L128.14 495.87L130.19 498.94L124.06 500.37L118.95 498.94L117.92 503.03L111.79 504.05L106.68 500.98L104.64 497.92L97.49 496.9L95.44 494.85M130.19 498.94L136.32 500.98L142.45 503.03L148.58 504.05M120.99 508.55L126.1 507.12L128.14 510.18L123.03 510.59L120.99 508.55M134.27 514.27L139.38 512.22L148.58 511.2L152.67 513.25L150.62 516.31L144.49 515.9L139.38 517.33L134.27 514.27M152.67 503.03L157.78 501.6L160.84 504.05L155.73 505.07L152.67 503.03M162.89 504.05L168 503.03M148.58 519.38L154.71 518.36L160.84 519.99L158.8 523.47L152.67 523.47L148.58 519.38M160.84 516.31L168 514.27M150 492.23L162.41 494.71L174.82 494.22L185.99 491.73L188.47 486.03L195.92 482.3L207.09 479.82L219.5 481.06L229.42 481.81L236.87 478.58L241.83 473.62L238.11 471.13M199.64 492.23L207.09 488.51L221.98 486.03L234.39 484.78L244.32 483.54L251.76 481.81L259.21 483.54L260.45 487.27L254.24 489.75L244.32 489.75L231.91 490.99L217.01 492.23L205.85 495.95L199.64 492.23M179.78 502.65L187.23 499.68L199.64 497.19L204.6 499.18L199.64 502.16L187.23 505.88L179.78 502.65M203.36 504.64L212.05 500.92L224.46 497.69L235.63 496.7L236.87 499.18L224.46 502.16L212.05 505.88L205.85 507.12L203.36 504.64M153.72 502.65L158.69 501.66L159.93 504.14L154.96 504.64L153.72 502.65M164.4 503.4L168.62 502.16L169.36 504.14L164.89 504.64L164.4 503.4M255.49 472.37L261.69 471.13L266.65 469.89L267.9 473.62L262.93 476.1L256.73 476.1L255.49 472.37M269.14 462.45L276.58 464.93L281.55 469.89L288.99 472.37L287.75 477.34L285.27 482.3L279.06 483.54L272.86 482.8L271.62 486.03L274.1 488.51L271.62 492.23L266.65 495.95M288.99 472.37L293.96 476.1L298.92 478.58L301.4 481.06M257.97 494.71L262.93 492.23L265.41 494.71L260.45 496.7L257.97 494.71M150 519.53L153.72 520.77L157.45 517.05L164.89 515.81L167.37 519.53L162.41 522.01L158.69 520.77L157.45 524.5L152.48 524M173.58 517.05L177.3 518.29" stroke="#5cc4ae" stroke-width="1.1" fill="none" stroke-linecap="round" stroke-linejoin="round"/>
<g stroke="#000" stroke-width="0.5" stroke-opacity="1" stroke-linejoin="round"><polygon points="189.94,391.4 196.59,389.49 191.5,387.01 184.85,388.92" fill="#f7d826"/><polygon points="195.04,393.88 201.69,391.97 196.59,389.49 189.94,391.4" fill="#fdcb30"/><polygon points="200.13,396.36 206.78,394.45 201.69,391.97 195.04,393.88" fill="#febf3c"/><polygon points="205.23,398.84 211.88,396.93 206.78,394.45 200.13,396.36" fill="#efb94b"/><polygon points="210.33,401.31 216.98,399.41 211.88,396.93 205.23,398.84" fill="#dcba54"/><polygon points="215.42,403.79 222.07,401.89 216.98,399.41 210.33,401.31" fill="#c8bc5d"/><polygon points="220.52,406.27 227.17,404.36 222.07,401.89 215.42,403.79" fill="#b3bd65"/><polygon points="225.61,408.75 232.26,406.84 227.17,404.36 220.52,406.27" fill="#9dbf6e"/><polygon points="230.71,411.23 237.36,409.32 232.26,406.84 225.61,408.75" fill="#84bf78"/><polygon points="235.81,413.71 242.46,411.8 237.36,409.32 230.71,411.23" fill="#69be84"/><polygon points="240.9,416.19 247.55,414.28 242.46,411.8 235.81,413.71" fill="#4cbc92"/><polygon points="246,418.67 252.65,416.76 247.55,414.28 240.9,416.19" fill="#33b8a1"/><polygon points="251.09,421.15 257.74,419.24 252.65,416.76 246,418.67" fill="#1eb3ae"/><polygon points="256.19,423.63 262.84,421.72 257.74,419.24 251.09,421.15" fill="#0daeba"/><polygon points="261.29,426.11 267.94,424.2 262.84,421.72 256.19,423.63" fill="#06a7c5"/><polygon points="266.38,428.58 273.03,426.68 267.94,424.2 261.29,426.11" fill="#06a0cd"/><polygon points="271.48,431.06 278.13,429.15 273.03,426.68 266.38,428.58" fill="#0b96d1"/><polygon points="276.57,433.54 283.22,431.63 278.13,429.15 271.48,431.06" fill="#1389d3"/><polygon points="281.67,436.02 288.32,434.11 283.22,431.63 276.57,433.54" fill="#137fd7"/><polygon points="286.77,438.5 293.42,436.59 288.32,434.11 281.67,436.02" fill="#0e76dc"/><polygon points="291.86,440.98 298.51,439.07 293.42,436.59 286.77,438.5" fill="#046ce0"/><polygon points="296.96,443.46 303.61,441.55 298.51,439.07 291.86,440.98" fill="#0a5fdf"/><polygon points="302.05,445.94 308.7,444.03 303.61,441.55 296.96,443.46" fill="#2b4bc7"/><polygon points="307.15,448.42 313.8,446.51 308.7,444.03 302.05,445.94" fill="#353aa8"/><polygon points="183.29,393.31 189.94,391.4 184.85,388.92 178.2,390.83" fill="#fdcb30"/><polygon points="188.39,395.79 195.04,393.88 189.94,391.4 183.29,393.31" fill="#fec03b"/><polygon points="193.48,398.26 200.13,396.36 195.04,393.88 188.39,395.79" fill="#f2b949"/><polygon points="198.58,400.74 205.23,398.84 200.13,396.36 193.48,398.26" fill="#e1b952"/><polygon points="203.68,403.22 210.33,401.31 205.23,398.84 198.58,400.74" fill="#cfbb5a"/><polygon points="208.77,405.7 215.42,403.79 210.33,401.31 203.68,403.22" fill="#bdbd61"/><polygon points="213.87,408.18 220.52,406.27 215.42,403.79 208.77,405.7" fill="#a9be69"/><polygon points="218.96,410.66 225.61,408.75 220.52,406.27 213.87,408.18" fill="#94bf72"/><polygon points="224.06,413.14 230.71,411.23 225.61,408.75 218.96,410.66" fill="#7dbf7b"/><polygon points="229.16,415.62 235.81,413.71 230.71,411.23 224.06,413.14" fill="#63be86"/><polygon points="234.25,418.1 240.9,416.19 235.81,413.71 229.16,415.62" fill="#4abc94"/><polygon points="239.35,420.58 246,418.67 240.9,416.19 234.25,418.1" fill="#33b8a1"/><polygon points="244.44,423.06 251.09,421.15 246,418.67 239.35,420.58" fill="#1fb4ad"/><polygon points="249.54,425.53 256.19,423.63 251.09,421.15 244.44,423.06" fill="#10afb8"/><polygon points="254.64,428.01 261.29,426.11 256.19,423.63 249.54,425.53" fill="#07a9c2"/><polygon points="259.73,430.49 266.38,428.58 261.29,426.11 254.64,428.01" fill="#06a3cb"/><polygon points="264.83,432.97 271.48,431.06 266.38,428.58 259.73,430.49" fill="#089bd0"/><polygon points="269.92,435.45 276.57,433.54 271.48,431.06 264.83,432.97" fill="#0f90d2"/><polygon points="275.02,437.93 281.67,436.02 276.57,433.54 269.92,435.45" fill="#1485d4"/><polygon points="280.12,440.41 286.77,438.5 281.67,436.02 275.02,437.93" fill="#127dd8"/><polygon points="285.21,442.89 291.86,440.98 286.77,438.5 280.12,440.41" fill="#0c74dd"/><polygon points="290.31,445.37 296.96,443.46 291.86,440.98 285.21,442.89" fill="#036be0"/><polygon points="295.4,447.84 302.05,445.94 296.96,443.46 290.31,445.37" fill="#0a5fdf"/><polygon points="300.5,450.32 307.15,448.42 302.05,445.94 295.4,447.84" fill="#294cca"/><polygon points="176.64,395.21 183.29,393.31 178.2,390.83 171.55,392.74" fill="#febf3c"/><polygon points="181.74,397.69 188.39,395.79 183.29,393.31 176.64,395.21" fill="#f2b949"/><polygon points="186.83,400.17 193.48,398.26 188.39,395.79 181.74,397.69" fill="#e3b951"/><polygon points="191.93,402.65 198.58,400.74 193.48,398.26 186.83,400.17" fill="#d3bb58"/><polygon points="197.03,405.13 203.68,403.22 198.58,400.74 191.93,402.65" fill="#c2bc5f"/><polygon points="202.12,407.61 208.77,405.7 203.68,403.22 197.03,405.13" fill="#b1bd66"/><polygon points="207.22,410.09 213.87,408.18 208.77,405.7 202.12,407.61" fill="#9fbe6d"/><polygon points="212.31,412.57 218.96,410.66 213.87,408.18 207.22,410.09" fill="#8bbf75"/><polygon points="217.41,415.05 224.06,413.14 218.96,410.66 212.31,412.57" fill="#75bf7e"/><polygon points="222.51,417.53 229.16,415.62 224.06,413.14 217.41,415.05" fill="#5ebe89"/><polygon points="227.6,420.01 234.25,418.1 229.16,415.62 222.51,417.53" fill="#47bb95"/><polygon points="232.7,422.48 239.35,420.58 234.25,418.1 227.6,420.01" fill="#33b8a1"/><polygon points="237.79,424.96 244.44,423.06 239.35,420.58 232.7,422.48" fill="#21b4ac"/><polygon points="242.89,427.44 249.54,425.53 244.44,423.06 237.79,424.96" fill="#13b0b6"/><polygon points="247.99,429.92 254.64,428.01 249.54,425.53 242.89,427.44" fill="#09abbf"/><polygon points="253.08,432.4 259.73,430.49 254.64,428.01 247.99,429.92" fill="#06a6c7"/><polygon points="258.18,434.88 264.83,432.97 259.73,430.49 253.08,432.4" fill="#069fce"/><polygon points="263.27,437.36 269.92,435.45 264.83,432.97 258.18,434.88" fill="#0a97d1"/><polygon points="268.37,439.84 275.02,437.93 269.92,435.45 263.27,437.36" fill="#118dd2"/><polygon points="273.47,442.32 280.12,440.41 275.02,437.93 268.37,439.84" fill="#1484d4"/><polygon points="278.56,444.79 285.21,442.89 280.12,440.41 273.47,442.32" fill="#127cd8"/><polygon points="283.66,447.27 290.31,445.37 285.21,442.89 278.56,444.79" fill="#0c74dd"/><polygon points="288.75,449.75 295.4,447.84 290.31,445.37 283.66,447.27" fill="#046ce0"/><polygon points="293.85,452.23 300.5,450.32 295.4,447.84 288.75,449.75" fill="#0462e0"/><polygon points="169.99,397.12 176.64,395.21 171.55,392.74 164.9,394.64" fill="#efb94b"/><polygon points="175.09,399.6 181.74,397.69 176.64,395.21 169.99,397.12" fill="#e1b952"/><polygon points="180.18,402.08 186.83,400.17 181.74,397.69 175.09,399.6" fill="#d3bb58"/><polygon points="185.28,404.56 191.93,402.65 186.83,400.17 180.18,402.08" fill="#c4bc5e"/><polygon points="190.38,407.04 197.03,405.13 191.93,402.65 185.28,404.56" fill="#b5bd64"/><polygon points="195.47,409.52 202.12,407.61 197.03,405.13 190.38,407.04" fill="#a5be6b"/><polygon points="200.57,412 207.22,410.09 202.12,407.61 195.47,409.52" fill="#94bf72"/><polygon points="205.66,414.48 212.31,412.57 207.22,410.09 200.57,412" fill="#82bf79"/><polygon points="210.76,416.96 217.41,415.05 212.31,412.57 205.66,414.48" fill="#6ebf82"/><polygon points="215.86,419.44 222.51,417.53 217.41,415.05 210.76,416.96" fill="#59bd8c"/><polygon points="220.95,421.92 227.6,420.01 222.51,417.53 215.86,419.44" fill="#45bb96"/><polygon points="226.05,424.4 232.7,422.48 227.6,420.01 220.95,421.92" fill="#33b8a1"/><polygon points="231.14,426.87 237.79,424.96 232.7,422.48 226.05,424.4" fill="#23b4ab"/><polygon points="236.24,429.35 242.89,427.44 237.79,424.96 231.14,426.87" fill="#15b1b4"/><polygon points="241.34,431.83 247.99,429.92 242.89,427.44 236.24,429.35" fill="#0badbc"/><polygon points="246.43,434.31 253.08,432.4 247.99,429.92 241.34,431.83" fill="#06a8c4"/><polygon points="251.53,436.79 258.18,434.88 253.08,432.4 246.43,434.31" fill="#06a3cb"/><polygon points="256.62,439.27 263.27,437.36 258.18,434.88 251.53,436.79" fill="#079ccf"/><polygon points="261.72,441.75 268.37,439.84 263.27,437.36 256.62,439.27" fill="#0c94d2"/><polygon points="266.82,444.22 273.47,442.32 268.37,439.84 261.72,441.75" fill="#128cd2"/><polygon points="271.91,446.7 278.56,444.79 273.47,442.32 266.82,444.22" fill="#1484d4"/><polygon points="277.01,449.18 283.66,447.27 278.56,444.79 271.91,446.7" fill="#127dd8"/><polygon points="282.1,451.66 288.75,449.75 283.66,447.27 277.01,449.18" fill="#0e76dc"/><polygon points="287.2,454.14 293.85,452.23 288.75,449.75 282.1,451.66" fill="#066fdf"/><polygon points="163.34,399.03 169.99,397.12 164.9,394.64 158.25,396.55" fill="#dcba54"/><polygon points="168.44,401.51 175.09,399.6 169.99,397.12 163.34,399.03" fill="#cfbb5a"/><polygon points="173.53,403.99 180.18,402.08 175.09,399.6 168.44,401.51" fill="#c2bc5f"/><polygon points="178.63,406.47 185.28,404.56 180.18,402.08 173.53,403.99" fill="#b5bd64"/><polygon points="183.73,408.94 190.38,407.04 185.28,404.56 178.63,406.47" fill="#a7be6a"/><polygon points="188.82,411.41 195.47,409.52 190.38,407.04 183.73,408.94" fill="#98bf70"/><polygon points="193.92,413.89 200.57,412 195.47,409.52 188.82,411.41" fill="#89bf76"/><polygon points="199.01,416.41 205.66,414.48 200.57,412 193.92,413.89" fill="#78bf7d"/><polygon points="204.11,419.06 210.76,416.96 205.66,414.48 199.01,416.41" fill="#66be85"/><polygon points="209.21,421.83 215.86,419.44 210.76,416.96 204.11,419.06" fill="#54bd8e"/><polygon points="214.3,424.49 220.95,421.92 215.86,419.44 209.21,421.83" fill="#42bb98"/><polygon points="219.4,426.79 226.05,424.4 220.95,421.92 214.3,424.49" fill="#33b8a1"/><polygon points="224.49,428.98 231.14,426.87 226.05,424.4 219.4,426.79" fill="#25b5aa"/><polygon points="229.59,431.28 236.24,429.35 231.14,426.87 224.49,428.98" fill="#19b2b2"/><polygon points="234.69,433.72 241.34,431.83 236.24,429.35 229.59,431.28" fill="#0faeb9"/><polygon points="239.78,436.2 246.43,434.31 241.34,431.83 234.69,433.72" fill="#08aac0"/><polygon points="244.88,438.69 251.53,436.79 246.43,434.31 239.78,436.2" fill="#06a6c7"/><polygon points="249.97,441.17 256.62,439.27 251.53,436.79 244.88,438.69" fill="#06a1cc"/><polygon points="255.07,443.65 261.72,441.75 256.62,439.27 249.97,441.17" fill="#079cd0"/><polygon points="260.17,446.13 266.82,444.22 261.72,441.75 255.07,443.65" fill="#0c94d2"/><polygon points="265.26,448.61 271.91,446.7 266.82,444.22 260.17,446.13" fill="#118dd2"/><polygon points="270.36,451.09 277.01,449.18 271.91,446.7 265.26,448.61" fill="#1485d4"/><polygon points="275.45,453.57 282.1,451.66 277.01,449.18 270.36,451.09" fill="#137fd7"/><polygon points="280.55,456.05 287.2,454.14 282.1,451.66 275.45,453.57" fill="#1079da"/><polygon points="156.69,400.94 163.34,399.03 158.25,396.55 151.6,398.46" fill="#c8bc5d"/><polygon points="161.79,403.42 168.44,401.51 163.34,399.03 156.69,400.94" fill="#bdbd61"/><polygon points="166.88,405.9 173.53,403.99 168.44,401.51 161.79,403.42" fill="#b1bd66"/><polygon points="171.98,408.38 178.63,406.47 173.53,403.99 166.88,405.9" fill="#a5be6b"/><polygon points="177.08,410.84 183.73,408.94 178.63,406.47 171.98,408.38" fill="#98bf70"/><polygon points="182.17,413.28 188.82,411.41 183.73,408.94 177.08,410.84" fill="#8bbf75"/><polygon points="187.27,415.76 193.92,413.89 188.82,411.41 182.17,413.28" fill="#7dbf7b"/><polygon points="192.36,418.59 199.01,416.41 193.92,413.89 187.27,415.76" fill="#6ebf82"/><polygon points="197.46,422.06 204.11,419.06 199.01,416.41 192.36,418.59" fill="#5ebe89"/><polygon points="202.56,425.96 209.21,421.83 204.11,419.06 197.46,422.06" fill="#4fbc91"/><polygon points="207.65,429.28 214.3,424.49 209.21,421.83 202.56,425.96" fill="#40ba99"/><polygon points="212.75,430.92 219.4,426.79 214.3,424.49 207.65,429.28" fill="#33b8a1"/><polygon points="217.84,431.98 224.49,428.98 219.4,426.79 212.75,430.92" fill="#27b5a8"/><polygon points="222.94,433.46 229.59,431.28 224.49,428.98 217.84,431.98" fill="#1cb3b0"/><polygon points="228.04,435.59 234.69,433.72 229.59,431.28 222.94,433.46" fill="#13b0b6"/><polygon points="233.13,438.07 239.78,436.2 234.69,433.72 228.04,435.59" fill="#0badbc"/><polygon points="238.23,440.59 244.88,438.69 239.78,436.2 233.13,438.07" fill="#07a9c2"/><polygon points="243.32,443.08 249.97,441.17 244.88,438.69 238.23,440.59" fill="#06a6c7"/><polygon points="248.42,445.56 255.07,443.65 249.97,441.17 243.32,443.08" fill="#06a1cc"/><polygon points="253.52,448.04 260.17,446.13 255.07,443.65 248.42,445.56" fill="#079ccf"/><polygon points="258.61,450.52 265.26,448.61 260.17,446.13 253.52,448.04" fill="#0a97d1"/><polygon points="263.71,453 270.36,451.09 265.26,448.61 258.61,450.52" fill="#0f90d2"/><polygon points="268.8,455.48 275.45,453.57 270.36,451.09 263.71,453" fill="#1389d3"/><polygon points="273.9,457.96 280.55,456.05 275.45,453.57 268.8,455.48" fill="#1484d4"/><polygon points="150.04,402.85 156.69,400.94 151.6,398.46 144.95,400.37" fill="#b3bd65"/><polygon points="155.14,405.33 161.79,403.42 156.69,400.94 150.04,402.85" fill="#a9be69"/><polygon points="160.23,407.81 166.88,405.9 161.79,403.42 155.14,405.33" fill="#9fbe6d"/><polygon points="165.33,410.28 171.98,408.38 166.88,405.9 160.23,407.81" fill="#94bf72"/><polygon points="170.43,412.74 177.08,410.84 171.98,408.38 165.33,410.28" fill="#89bf76"/><polygon points="175.52,415.19 182.17,413.28 177.08,410.84 170.43,412.74" fill="#7dbf7b"/><polygon points="180.62,417.92 187.27,415.76 182.17,413.28 175.52,415.19" fill="#70bf81"/><polygon points="185.71,421.4 192.36,418.59 187.27,415.76 180.62,417.92" fill="#63be86"/><polygon points="190.81,425.63 197.46,422.06 192.36,418.59 185.71,421.4" fill="#56bd8d"/><polygon points="195.91,430.31 202.56,425.96 197.46,422.06 190.81,425.63" fill="#4abc94"/><polygon points="201,434.15 207.65,429.28 202.56,425.96 195.91,430.31" fill="#3eba9a"/><polygon points="206.1,435.27 212.75,430.92 207.65,429.28 201,434.15" fill="#33b8a1"/><polygon points="211.19,435.55 217.84,431.98 212.75,430.92 206.1,435.27" fill="#29b6a7"/><polygon points="216.29,436.28 222.94,433.46 217.84,431.98 211.19,435.55" fill="#1fb4ad"/><polygon points="221.39,437.75 228.04,435.59 222.94,433.46 216.29,436.28" fill="#17b1b3"/><polygon points="226.48,439.98 233.13,438.07 228.04,435.59 221.39,437.75" fill="#10afb8"/><polygon points="231.58,442.49 238.23,440.59 233.13,438.07 226.48,439.98" fill="#0aacbd"/><polygon points="236.67,444.99 243.32,443.08 238.23,440.59 231.58,442.49" fill="#07a9c2"/><polygon points="241.77,447.47 248.42,445.56 243.32,443.08 236.67,444.99" fill="#06a6c7"/><polygon points="246.87,449.95 253.52,448.04 248.42,445.56 241.77,447.47" fill="#06a3cb"/><polygon points="251.96,452.43 258.61,450.52 253.52,448.04 246.87,449.95" fill="#069fce"/><polygon points="257.06,454.91 263.71,453 258.61,450.52 251.96,452.43" fill="#089bd0"/><polygon points="262.15,457.38 268.8,455.48 263.71,453 257.06,454.91" fill="#0b96d1"/><polygon points="267.25,459.86 273.9,457.96 268.8,455.48 262.15,457.38" fill="#0f90d2"/><polygon points="143.39,404.76 150.04,402.85 144.95,400.37 138.3,402.28" fill="#9dbf6e"/><polygon points="148.49,407.23 155.14,405.33 150.04,402.85 143.39,404.76" fill="#94bf72"/><polygon points="153.58,409.71 160.23,407.81 155.14,405.33 148.49,407.23" fill="#8bbf75"/><polygon points="158.68,412.19 165.33,410.28 160.23,407.81 153.58,409.71" fill="#82bf79"/><polygon points="163.78,414.69 170.43,412.74 165.33,410.28 158.68,412.19" fill="#78bf7d"/><polygon points="168.87,417.45 175.52,415.19 170.43,412.74 163.78,414.69" fill="#6ebf82"/><polygon points="173.97,420.83 180.62,417.92 175.52,415.19 168.87,417.45" fill="#63be86"/><polygon points="179.06,423.98 185.71,421.4 180.62,417.92 173.97,420.83" fill="#59bd8c"/><polygon points="184.16,426.05 190.81,425.63 185.71,421.4 179.06,423.98" fill="#4fbc91"/><polygon points="189.26,427.95 195.91,430.31 190.81,425.63 184.16,426.05" fill="#45bb96"/><polygon points="194.35,430.24 201,434.15 195.91,430.31 189.26,427.95" fill="#3bba9c"/><polygon points="199.45,432.91 206.1,435.27 201,434.15 194.35,430.24" fill="#33b8a1"/><polygon points="204.54,435.97 211.19,435.55 206.1,435.27 199.45,432.91" fill="#2bb6a6"/><polygon points="209.64,438.86 216.29,436.28 211.19,435.55 204.54,435.97" fill="#23b4ab"/><polygon points="214.74,440.66 221.39,437.75 216.29,436.28 209.64,438.86" fill="#1cb3b0"/><polygon points="219.83,442.24 226.48,439.98 221.39,437.75 214.74,440.66" fill="#15b1b4"/><polygon points="224.93,444.44 231.58,442.49 226.48,439.98 219.83,442.24" fill="#10afb8"/><polygon points="230.02,446.9 236.67,444.99 231.58,442.49 224.93,444.44" fill="#0badbc"/><polygon points="235.12,449.38 241.77,447.47 236.67,444.99 230.02,446.9" fill="#08aac0"/><polygon points="240.22,451.86 246.87,449.95 241.77,447.47 235.12,449.38" fill="#06a8c4"/><polygon points="245.31,454.34 251.96,452.43 246.87,449.95 240.22,451.86" fill="#06a6c7"/><polygon points="250.41,456.81 257.06,454.91 251.96,452.43 245.31,454.34" fill="#06a3cb"/><polygon points="255.5,459.29 262.15,457.38 257.06,454.91 250.41,456.81" fill="#06a0cd"/><polygon points="260.6,461.77 267.25,459.86 262.15,457.38 255.5,459.29" fill="#079ccf"/><polygon points="136.74,406.66 143.39,404.76 138.3,402.28 131.65,404.18" fill="#84bf78"/><polygon points="141.84,409.14 148.49,407.23 143.39,404.76 136.74,406.66" fill="#7dbf7b"/><polygon points="146.93,411.62 153.58,409.71 148.49,407.23 141.84,409.14" fill="#75bf7e"/><polygon points="152.03,414.1 158.68,412.19 153.58,409.71 146.93,411.62" fill="#6ebf82"/><polygon points="157.13,416.78 163.78,414.69 158.68,412.19 152.03,414.1" fill="#66be85"/><polygon points="162.22,420.35 168.87,417.45 163.78,414.69 157.13,416.78" fill="#5ebe89"/><polygon points="167.32,424.49 173.97,420.83 168.87,417.45 162.22,420.35" fill="#56bd8d"/><polygon points="172.41,425.48 179.06,423.98 173.97,420.83 167.32,424.49" fill="#4fbc91"/><polygon points="177.51,421.14 184.16,426.05 179.06,423.98 172.41,425.48" fill="#47bb95"/><polygon points="182.61,412.69 189.26,427.95 184.16,426.05 177.51,421.14" fill="#40ba99"/><polygon points="187.7,408.07 194.35,430.24 189.26,427.95 182.61,412.69" fill="#39b99d"/><polygon points="192.8,417.65 199.45,432.91 194.35,430.24 187.7,408.07" fill="#33b8a1"/><polygon points="197.89,431.06 204.54,435.97 199.45,432.91 192.8,417.65" fill="#2db7a5"/><polygon points="202.99,440.36 209.64,438.86 204.54,435.97 197.89,431.06" fill="#27b5a8"/><polygon points="208.09,444.32 214.74,440.66 209.64,438.86 202.99,440.36" fill="#21b4ac"/><polygon points="213.18,445.14 219.83,442.24 214.74,440.66 208.09,444.32" fill="#1cb3b0"/><polygon points="218.28,446.53 224.93,444.44 219.83,442.24 213.18,445.14" fill="#17b1b3"/><polygon points="223.37,448.81 230.02,446.9 224.93,444.44 218.28,446.53" fill="#13b0b6"/><polygon points="228.47,451.29 235.12,449.38 230.02,446.9 223.37,448.81" fill="#0faeb9"/><polygon points="233.57,453.76 240.22,451.86 235.12,449.38 228.47,451.29" fill="#0badbc"/><polygon points="238.66,456.24 245.31,454.34 240.22,451.86 233.57,453.76" fill="#09abbf"/><polygon points="243.76,458.72 250.41,456.81 245.31,454.34 238.66,456.24" fill="#07a9c2"/><polygon points="248.85,461.2 255.5,459.29 250.41,456.81 243.76,458.72" fill="#06a7c5"/><polygon points="253.95,463.68 260.6,461.77 255.5,459.29 248.85,461.2" fill="#06a6c7"/><polygon points="130.09,408.57 136.74,406.66 131.65,404.18 125,406.09" fill="#69be84"/><polygon points="135.19,411.05 141.84,409.14 136.74,406.66 130.09,408.57" fill="#63be86"/><polygon points="140.28,413.53 146.93,411.62 141.84,409.14 135.19,411.05" fill="#5ebe89"/><polygon points="145.38,416.01 152.03,414.1 146.93,411.62 140.28,413.53" fill="#59bd8c"/><polygon points="150.48,418.98 157.13,416.78 152.03,414.1 145.38,416.01" fill="#54bd8e"/><polygon points="155.57,423.68 162.22,420.35 157.13,416.78 150.48,418.98" fill="#4fbc91"/><polygon points="160.67,428.6 167.32,424.49 162.22,420.35 155.57,423.68" fill="#4abc94"/><polygon points="165.76,426.81 172.41,425.48 167.32,424.49 160.67,428.6" fill="#45bb96"/><polygon points="170.86,412.12 177.51,421.14 172.41,425.48 165.76,426.81" fill="#40ba99"/><polygon points="175.96,384.93 182.61,412.69 177.51,421.14 170.86,412.12" fill="#3bba9c"/><polygon points="181.05,367.7 187.7,408.07 182.61,412.69 175.96,384.93" fill="#37b99e"/><polygon points="186.15,389.89 192.8,417.65 187.7,408.07 181.05,367.7" fill="#33b8a1"/><polygon points="191.24,422.03 197.89,431.06 192.8,417.65 186.15,389.89" fill="#2fb7a3"/><polygon points="196.34,441.69 202.99,440.36 197.89,431.06 191.24,422.03" fill="#2bb6a6"/><polygon points="201.44,448.43 208.09,444.32 202.99,440.36 196.34,441.69" fill="#27b5a8"/><polygon points="206.53,448.47 213.18,445.14 208.09,444.32 201.44,448.43" fill="#23b4ab"/><polygon points="211.63,448.72 218.28,446.53 213.18,445.14 206.53,448.47" fill="#1fb4ad"/><polygon points="216.72,450.72 223.37,448.81 218.28,446.53 211.63,448.72" fill="#1cb3b0"/><polygon points="221.82,453.19 228.47,451.29 223.37,448.81 216.72,450.72" fill="#19b2b2"/><polygon points="226.92,455.67 233.57,453.76 228.47,451.29 221.82,453.19" fill="#15b1b4"/><polygon points="232.01,458.15 238.66,456.24 233.57,453.76 226.92,455.67" fill="#13b0b6"/><polygon points="237.11,460.63 243.76,458.72 238.66,456.24 232.01,458.15" fill="#10afb8"/><polygon points="242.2,463.11 248.85,461.2 243.76,458.72 237.11,460.63" fill="#0daeba"/><polygon points="247.3,465.59 253.95,463.68 248.85,461.2 242.2,463.11" fill="#0badbc"/><polygon points="123.44,410.48 130.09,408.57 125,406.09 118.35,408" fill="#4cbc92"/><polygon points="128.54,412.96 135.19,411.05 130.09,408.57 123.44,410.48" fill="#4abc94"/><polygon points="133.63,415.44 140.28,413.53 135.19,411.05 128.54,412.96" fill="#47bb95"/><polygon points="138.73,417.92 145.38,416.01 140.28,413.53 133.63,415.44" fill="#45bb96"/><polygon points="143.83,421.06 150.48,418.98 145.38,416.01 138.73,417.92" fill="#42bb98"/><polygon points="148.92,426.42 155.57,423.68 150.48,418.98 143.83,421.06" fill="#40ba99"/><polygon points="154.02,431.87 160.67,428.6 155.57,423.68 148.92,426.42" fill="#3eba9a"/><polygon points="159.11,428.52 165.76,426.81 160.67,428.6 154.02,431.87" fill="#3bba9c"/><polygon points="164.21,406.93 170.86,412.12 165.76,426.81 159.11,428.52" fill="#39b99d"/><polygon points="169.31,367.13 175.96,384.93 170.86,412.12 164.21,406.93" fill="#37b99e"/><polygon points="174.4,341.47 181.05,367.7 175.96,384.93 169.31,367.13" fill="#35b8a0"/><polygon points="179.5,372.09 186.15,389.89 181.05,367.7 174.4,341.47" fill="#33b8a1"/><polygon points="184.59,416.84 191.24,422.03 186.15,389.89 179.5,372.09" fill="#31b8a2"/><polygon points="189.69,443.4 196.34,441.69 191.24,422.03 184.59,416.84" fill="#2fb7a3"/><polygon points="194.79,451.7 201.44,448.43 196.34,441.69 189.69,443.4" fill="#2db7a5"/><polygon points="199.88,451.21 206.53,448.47 201.44,448.43 194.79,451.7" fill="#2bb6a6"/><polygon points="204.98,450.81 211.63,448.72 206.53,448.47 199.88,451.21" fill="#29b6a7"/><polygon points="210.07,452.63 216.72,450.72 211.63,448.72 204.98,450.81" fill="#27b5a8"/><polygon points="215.17,455.1 221.82,453.19 216.72,450.72 210.07,452.63" fill="#25b5aa"/><polygon points="220.27,457.58 226.92,455.67 221.82,453.19 215.17,455.1" fill="#23b4ab"/><polygon points="225.36,460.06 232.01,458.15 226.92,455.67 220.27,457.58" fill="#21b4ac"/><polygon points="230.46,462.54 237.11,460.63 232.01,458.15 225.36,460.06" fill="#1fb4ad"/><polygon points="235.55,465.02 242.2,463.11 237.11,460.63 230.46,462.54" fill="#1eb3ae"/><polygon points="240.65,467.5 247.3,465.59 242.2,463.11 235.55,465.02" fill="#1cb3b0"/><polygon points="116.79,412.39 123.44,410.48 118.35,408 111.7,409.91" fill="#33b8a1"/><polygon points="121.89,414.87 128.54,412.96 123.44,410.48 116.79,412.39" fill="#33b8a1"/><polygon points="126.98,417.35 133.63,415.44 128.54,412.96 121.89,414.87" fill="#33b8a1"/><polygon points="132.08,419.83 138.73,417.92 133.63,415.44 126.98,417.35" fill="#33b8a1"/><polygon points="137.18,422.79 143.83,421.06 138.73,417.92 132.08,419.83" fill="#33b8a1"/><polygon points="142.27,427.49 148.92,426.42 143.83,421.06 137.18,422.79" fill="#33b8a1"/><polygon points="147.37,432.41 154.02,431.87 148.92,426.42 142.27,427.49" fill="#33b8a1"/><polygon points="152.46,430.63 159.11,428.52 154.02,431.87 147.37,432.41" fill="#33b8a1"/><polygon points="157.56,415.93 164.21,406.93 159.11,428.52 152.46,430.63" fill="#33b8a1"/><polygon points="162.66,388.74 169.31,367.13 164.21,406.93 157.56,415.93" fill="#33b8a1"/><polygon points="167.75,371.52 174.4,341.47 169.31,367.13 162.66,388.74" fill="#33b8a1"/><polygon points="172.85,393.7 179.5,372.09 174.4,341.47 167.75,371.52" fill="#33b8a1"/><polygon points="177.94,425.85 184.59,416.84 179.5,372.09 172.85,393.7" fill="#33b8a1"/><polygon points="183.04,445.5 189.69,443.4 184.59,416.84 177.94,425.85" fill="#33b8a1"/><polygon points="188.14,452.24 194.79,451.7 189.69,443.4 183.04,445.5" fill="#33b8a1"/><polygon points="193.23,452.28 199.88,451.21 194.79,451.7 188.14,452.24" fill="#33b8a1"/><polygon points="198.33,452.54 204.98,450.81 199.88,451.21 193.23,452.28" fill="#33b8a1"/><polygon points="203.42,454.54 210.07,452.63 204.98,450.81 198.33,452.54" fill="#33b8a1"/><polygon points="208.52,457.01 215.17,455.1 210.07,452.63 203.42,454.54" fill="#33b8a1"/><polygon points="213.62,459.49 220.27,457.58 215.17,455.1 208.52,457.01" fill="#33b8a1"/><polygon points="218.71,461.97 225.36,460.06 220.27,457.58 213.62,459.49" fill="#33b8a1"/><polygon points="223.81,464.45 230.46,462.54 225.36,460.06 218.71,461.97" fill="#33b8a1"/><polygon points="228.9,466.92 235.55,465.02 230.46,462.54 223.81,464.45" fill="#33b8a1"/><polygon points="234,469.4 240.65,467.5 235.55,465.02 228.9,466.92" fill="#33b8a1"/><polygon points="110.14,414.3 116.79,412.39 111.7,409.91 105.05,411.82" fill="#1eb3ae"/><polygon points="115.24,416.77 121.89,414.87 116.79,412.39 110.14,414.3" fill="#1fb4ad"/><polygon points="120.33,419.25 126.98,417.35 121.89,414.87 115.24,416.77" fill="#21b4ac"/><polygon points="125.43,421.73 132.08,419.83 126.98,417.35 120.33,419.25" fill="#23b4ab"/><polygon points="130.53,424.41 137.18,422.79 132.08,419.83 125.43,421.73" fill="#25b5aa"/><polygon points="135.62,427.98 142.27,427.49 137.18,422.79 130.53,424.41" fill="#27b5a8"/><polygon points="140.72,432.12 147.37,432.41 142.27,427.49 135.62,427.98" fill="#29b6a7"/><polygon points="145.81,433.12 152.46,430.63 147.37,432.41 140.72,432.12" fill="#2bb6a6"/><polygon points="150.91,428.77 157.56,415.93 152.46,430.63 145.81,433.12" fill="#2db7a5"/><polygon points="156.01,420.32 162.66,388.74 157.56,415.93 150.91,428.77" fill="#2fb7a3"/><polygon points="161.1,415.7 167.75,371.52 162.66,388.74 156.01,420.32" fill="#31b8a2"/><polygon points="166.2,425.28 172.85,393.7 167.75,371.52 161.1,415.7" fill="#33b8a1"/><polygon points="171.29,438.69 177.94,425.85 172.85,393.7 166.2,425.28" fill="#35b8a0"/><polygon points="176.39,447.99 183.04,445.5 177.94,425.85 171.29,438.69" fill="#37b99e"/><polygon points="181.49,451.96 188.14,452.24 183.04,445.5 176.39,447.99" fill="#39b99d"/><polygon points="186.58,452.77 193.23,452.28 188.14,452.24 181.49,451.96" fill="#3bba9c"/><polygon points="191.68,454.16 198.33,452.54 193.23,452.28 186.58,452.77" fill="#3eba9a"/><polygon points="196.77,456.44 203.42,454.54 198.33,452.54 191.68,454.16" fill="#40ba99"/><polygon points="201.87,458.92 208.52,457.01 203.42,454.54 196.77,456.44" fill="#42bb98"/><polygon points="206.97,461.4 213.62,459.49 208.52,457.01 201.87,458.92" fill="#45bb96"/><polygon points="212.06,463.88 218.71,461.97 213.62,459.49 206.97,461.4" fill="#47bb95"/><polygon points="217.16,466.35 223.81,464.45 218.71,461.97 212.06,463.88" fill="#4abc94"/><polygon points="222.25,468.83 228.9,466.92 223.81,464.45 217.16,466.35" fill="#4cbc92"/><polygon points="227.35,471.31 234,469.4 228.9,466.92 222.25,468.83" fill="#4fbc91"/><polygon points="103.49,416.2 110.14,414.3 105.05,411.82 98.4,413.72" fill="#0daeba"/><polygon points="108.59,418.68 115.24,416.77 110.14,414.3 103.49,416.2" fill="#10afb8"/><polygon points="113.68,421.16 120.33,419.25 115.24,416.77 108.59,418.68" fill="#13b0b6"/><polygon points="118.78,423.64 125.43,421.73 120.33,419.25 113.68,421.16" fill="#15b1b4"/><polygon points="123.88,426.14 130.53,424.41 125.43,421.73 118.78,423.64" fill="#19b2b2"/><polygon points="128.97,428.89 135.62,427.98 130.53,424.41 123.88,426.14" fill="#1cb3b0"/><polygon points="134.07,432.28 140.72,432.12 135.62,427.98 128.97,428.89" fill="#1fb4ad"/><polygon points="139.16,435.43 145.81,433.12 140.72,432.12 134.07,432.28" fill="#23b4ab"/><polygon points="144.26,437.5 150.91,428.77 145.81,433.12 139.16,435.43" fill="#27b5a8"/><polygon points="149.36,439.4 156.01,420.32 150.91,428.77 144.26,437.5" fill="#2bb6a6"/><polygon points="154.45,441.68 161.1,415.7 156.01,420.32 149.36,439.4" fill="#2fb7a3"/><polygon points="159.55,444.36 166.2,425.28 161.1,415.7 154.45,441.68" fill="#33b8a1"/><polygon points="164.64,447.42 171.29,438.69 166.2,425.28 159.55,444.36" fill="#37b99e"/><polygon points="169.74,450.3 176.39,447.99 171.29,438.69 164.64,447.42" fill="#3bba9c"/><polygon points="174.84,452.11 181.49,451.96 176.39,447.99 169.74,450.3" fill="#40ba99"/><polygon points="179.93,453.68 186.58,452.77 181.49,451.96 174.84,452.11" fill="#45bb96"/><polygon points="185.03,455.89 191.68,454.16 186.58,452.77 179.93,453.68" fill="#4abc94"/><polygon points="190.12,458.35 196.77,456.44 191.68,454.16 185.03,455.89" fill="#4fbc91"/><polygon points="195.22,460.83 201.87,458.92 196.77,456.44 190.12,458.35" fill="#54bd8e"/><polygon points="200.32,463.3 206.97,461.4 201.87,458.92 195.22,460.83" fill="#59bd8c"/><polygon points="205.41,465.78 212.06,463.88 206.97,461.4 200.32,463.3" fill="#5ebe89"/><polygon points="210.51,468.26 217.16,466.35 212.06,463.88 205.41,465.78" fill="#63be86"/><polygon points="215.6,470.74 222.25,468.83 217.16,466.35 210.51,468.26" fill="#69be84"/><polygon points="220.7,473.22 227.35,471.31 222.25,468.83 215.6,470.74" fill="#6ebf82"/><polygon points="96.84,418.11 103.49,416.2 98.4,413.72 91.75,415.63" fill="#06a7c5"/><polygon points="101.94,420.59 108.59,418.68 103.49,416.2 96.84,418.11" fill="#07a9c2"/><polygon points="107.03,423.07 113.68,421.16 108.59,418.68 101.94,420.59" fill="#09abbf"/><polygon points="112.13,425.55 118.78,423.64 113.68,421.16 107.03,423.07" fill="#0badbc"/><polygon points="117.23,428.01 123.88,426.14 118.78,423.64 112.13,425.55" fill="#0faeb9"/><polygon points="122.32,430.45 128.97,428.89 123.88,426.14 117.23,428.01" fill="#13b0b6"/><polygon points="127.42,433.18 134.07,432.28 128.97,428.89 122.32,430.45" fill="#17b1b3"/><polygon points="132.51,436.67 139.16,435.43 134.07,432.28 127.42,433.18" fill="#1cb3b0"/><polygon points="137.61,440.9 144.26,437.5 139.16,435.43 132.51,436.67" fill="#21b4ac"/><polygon points="142.71,445.57 149.36,439.4 144.26,437.5 137.61,440.9" fill="#27b5a8"/><polygon points="147.8,449.42 154.45,441.68 149.36,439.4 142.71,445.57" fill="#2db7a5"/><polygon points="152.9,450.53 159.55,444.36 154.45,441.68 147.8,449.42" fill="#33b8a1"/><polygon points="157.99,450.81 164.64,447.42 159.55,444.36 152.9,450.53" fill="#39b99d"/><polygon points="163.09,451.54 169.74,450.3 164.64,447.42 157.99,450.81" fill="#40ba99"/><polygon points="168.19,453.01 174.84,452.11 169.74,450.3 163.09,451.54" fill="#47bb95"/><polygon points="173.28,455.24 179.93,453.68 174.84,452.11 168.19,453.01" fill="#4fbc91"/><polygon points="178.38,457.76 185.03,455.89 179.93,453.68 173.28,455.24" fill="#56bd8d"/><polygon points="183.47,460.25 190.12,458.35 185.03,455.89 178.38,457.76" fill="#5ebe89"/><polygon points="188.57,462.73 195.22,460.83 190.12,458.35 183.47,460.25" fill="#66be85"/><polygon points="193.67,465.21 200.32,463.3 195.22,460.83 188.57,462.73" fill="#6ebf82"/><polygon points="198.76,467.69 205.41,465.78 200.32,463.3 193.67,465.21" fill="#75bf7e"/><polygon points="203.86,470.17 210.51,468.26 205.41,465.78 198.76,467.69" fill="#7dbf7b"/><polygon points="208.95,472.65 215.6,470.74 210.51,468.26 203.86,470.17" fill="#84bf78"/><polygon points="214.05,475.13 220.7,473.22 215.6,470.74 208.95,472.65" fill="#8bbf75"/><polygon points="90.19,420.02 96.84,418.11 91.75,415.63 85.1,417.54" fill="#06a0cd"/><polygon points="95.29,422.5 101.94,420.59 96.84,418.11 90.19,420.02" fill="#06a3cb"/><polygon points="100.38,424.98 107.03,423.07 101.94,420.59 95.29,422.5" fill="#06a6c7"/><polygon points="105.48,427.46 112.13,425.55 107.03,423.07 100.38,424.98" fill="#06a8c4"/><polygon points="110.58,429.92 117.23,428.01 112.13,425.55 105.48,427.46" fill="#08aac0"/><polygon points="115.67,432.36 122.32,430.45 117.23,428.01 110.58,429.92" fill="#0badbc"/><polygon points="120.77,434.84 127.42,433.18 122.32,430.45 115.67,432.36" fill="#10afb8"/><polygon points="125.86,437.67 132.51,436.67 127.42,433.18 120.77,434.84" fill="#15b1b4"/><polygon points="130.96,441.14 137.61,440.9 132.51,436.67 125.86,437.67" fill="#1cb3b0"/><polygon points="136.06,445.04 142.71,445.57 137.61,440.9 130.96,441.14" fill="#23b4ab"/><polygon points="141.15,448.36 147.8,449.42 142.71,445.57 136.06,445.04" fill="#2bb6a6"/><polygon points="146.25,450 152.9,450.53 147.8,449.42 141.15,448.36" fill="#33b8a1"/><polygon points="151.34,451.06 157.99,450.81 152.9,450.53 146.25,450" fill="#3bba9c"/><polygon points="156.44,452.54 163.09,451.54 157.99,450.81 151.34,451.06" fill="#45bb96"/><polygon points="161.54,454.67 168.19,453.01 163.09,451.54 156.44,452.54" fill="#4fbc91"/><polygon points="166.63,457.15 173.28,455.24 168.19,453.01 161.54,454.67" fill="#59bd8c"/><polygon points="171.73,459.67 178.38,457.76 173.28,455.24 166.63,457.15" fill="#63be86"/><polygon points="176.82,462.16 183.47,460.25 178.38,457.76 171.73,459.67" fill="#6ebf82"/><polygon points="181.92,464.64 188.57,462.73 183.47,460.25 176.82,462.16" fill="#78bf7d"/><polygon points="187.02,467.12 193.67,465.21 188.57,462.73 181.92,464.64" fill="#82bf79"/><polygon points="192.11,469.6 198.76,467.69 193.67,465.21 187.02,467.12" fill="#8bbf75"/><polygon points="197.21,472.08 203.86,470.17 198.76,467.69 192.11,469.6" fill="#94bf72"/><polygon points="202.3,474.56 208.95,472.65 203.86,470.17 197.21,472.08" fill="#9dbf6e"/><polygon points="207.4,477.04 214.05,475.13 208.95,472.65 202.3,474.56" fill="#a5be6b"/><polygon points="83.54,421.93 90.19,420.02 85.1,417.54 78.45,419.45" fill="#0b96d1"/><polygon points="88.64,424.41 95.29,422.5 90.19,420.02 83.54,421.93" fill="#089bd0"/><polygon points="93.73,426.89 100.38,424.98 95.29,422.5 88.64,424.41" fill="#069fce"/><polygon points="98.83,429.36 105.48,427.46 100.38,424.98 93.73,426.89" fill="#06a3cb"/><polygon points="103.93,431.84 110.58,429.92 105.48,427.46 98.83,429.36" fill="#06a6c7"/><polygon points="109.02,434.31 115.67,432.36 110.58,429.92 103.93,431.84" fill="#07a9c2"/><polygon points="114.12,436.78 120.77,434.84 115.67,432.36 109.02,434.31" fill="#0aacbd"/><polygon points="119.21,439.3 125.86,437.67 120.77,434.84 114.12,436.78" fill="#10afb8"/><polygon points="124.31,441.96 130.96,441.14 125.86,437.67 119.21,439.3" fill="#17b1b3"/><polygon points="129.41,444.73 136.06,445.04 130.96,441.14 124.31,441.96" fill="#1fb4ad"/><polygon points="134.5,447.38 141.15,448.36 136.06,445.04 129.41,444.73" fill="#29b6a7"/><polygon points="139.6,449.68 146.25,450 141.15,448.36 134.5,447.38" fill="#33b8a1"/><polygon points="144.69,451.87 151.34,451.06 146.25,450 139.6,449.68" fill="#3eba9a"/><polygon points="149.79,454.18 156.44,452.54 151.34,451.06 144.69,451.87" fill="#4abc94"/><polygon points="154.89,456.61 161.54,454.67 156.44,452.54 149.79,454.18" fill="#56bd8d"/><polygon points="159.98,459.1 166.63,457.15 161.54,454.67 154.89,456.61" fill="#63be86"/><polygon points="165.08,461.59 171.73,459.67 166.63,457.15 159.98,459.1" fill="#70bf81"/><polygon points="170.17,464.07 176.82,462.16 171.73,459.67 165.08,461.59" fill="#7dbf7b"/><polygon points="175.27,466.55 181.92,464.64 176.82,462.16 170.17,464.07" fill="#89bf76"/><polygon points="180.37,469.03 187.02,467.12 181.92,464.64 175.27,466.55" fill="#94bf72"/><polygon points="185.46,471.51 192.11,469.6 187.02,467.12 180.37,469.03" fill="#9fbe6d"/><polygon points="190.56,473.99 197.21,472.08 192.11,469.6 185.46,471.51" fill="#a9be69"/><polygon points="195.65,476.46 202.3,474.56 197.21,472.08 190.56,473.99" fill="#b3bd65"/><polygon points="200.75,478.94 207.4,477.04 202.3,474.56 195.65,476.46" fill="#bdbd61"/><polygon points="76.89,423.83 83.54,421.93 78.45,419.45 71.8,421.36" fill="#1389d3"/><polygon points="81.99,426.31 88.64,424.41 83.54,421.93 76.89,423.83" fill="#0f90d2"/><polygon points="87.08,428.79 93.73,426.89 88.64,424.41 81.99,426.31" fill="#0a97d1"/><polygon points="92.18,431.27 98.83,429.36 93.73,426.89 87.08,428.79" fill="#079ccf"/><polygon points="97.28,433.75 103.93,431.84 98.83,429.36 92.18,431.27" fill="#06a1cc"/><polygon points="102.37,436.23 109.02,434.31 103.93,431.84 97.28,433.75" fill="#06a6c7"/><polygon points="107.47,438.71 114.12,436.78 109.02,434.31 102.37,436.23" fill="#07a9c2"/><polygon points="112.56,441.19 119.21,439.3 114.12,436.78 107.47,438.71" fill="#0badbc"/><polygon points="117.66,443.67 124.31,441.96 119.21,439.3 112.56,441.19" fill="#13b0b6"/><polygon points="122.76,446.15 129.41,444.73 124.31,441.96 117.66,443.67" fill="#1cb3b0"/><polygon points="127.85,448.63 134.5,447.38 129.41,444.73 122.76,446.15" fill="#27b5a8"/><polygon points="132.95,451.11 139.6,449.68 134.5,447.38 127.85,448.63" fill="#33b8a1"/><polygon points="138.04,453.59 144.69,451.87 139.6,449.68 132.95,451.11" fill="#40ba99"/><polygon points="143.14,456.06 149.79,454.18 144.69,451.87 138.04,453.59" fill="#4fbc91"/><polygon points="148.24,458.54 154.89,456.61 149.79,454.18 143.14,456.06" fill="#5ebe89"/><polygon points="153.33,461.02 159.98,459.1 154.89,456.61 148.24,458.54" fill="#6ebf82"/><polygon points="158.43,463.5 165.08,461.59 159.98,459.1 153.33,461.02" fill="#7dbf7b"/><polygon points="163.52,465.98 170.17,464.07 165.08,461.59 158.43,463.5" fill="#8bbf75"/><polygon points="168.62,468.46 175.27,466.55 170.17,464.07 163.52,465.98" fill="#98bf70"/><polygon points="173.72,470.94 180.37,469.03 175.27,466.55 168.62,468.46" fill="#a5be6b"/><polygon points="178.81,473.41 185.46,471.51 180.37,469.03 173.72,470.94" fill="#b1bd66"/><polygon points="183.91,475.89 190.56,473.99 185.46,471.51 178.81,473.41" fill="#bdbd61"/><polygon points="189,478.37 195.65,476.46 190.56,473.99 183.91,475.89" fill="#c8bc5d"/><polygon points="194.1,480.85 200.75,478.94 195.65,476.46 189,478.37" fill="#d3bb58"/><polygon points="70.24,425.74 76.89,423.83 71.8,421.36 65.15,423.26" fill="#137fd7"/><polygon points="75.34,428.22 81.99,426.31 76.89,423.83 70.24,425.74" fill="#1485d4"/><polygon points="80.43,430.7 87.08,428.79 81.99,426.31 75.34,428.22" fill="#118dd2"/><polygon points="85.53,433.18 92.18,431.27 87.08,428.79 80.43,430.7" fill="#0c94d2"/><polygon points="90.63,435.66 97.28,433.75 92.18,431.27 85.53,433.18" fill="#079cd0"/><polygon points="95.72,438.14 102.37,436.23 97.28,433.75 90.63,435.66" fill="#06a1cc"/><polygon points="100.82,440.62 107.47,438.71 102.37,436.23 95.72,438.14" fill="#06a6c7"/><polygon points="105.91,443.1 112.56,441.19 107.47,438.71 100.82,440.62" fill="#08aac0"/><polygon points="111.01,445.58 117.66,443.67 112.56,441.19 105.91,443.1" fill="#0faeb9"/><polygon points="116.11,448.05 122.76,446.15 117.66,443.67 111.01,445.58" fill="#19b2b2"/><polygon points="121.2,450.53 127.85,448.63 122.76,446.15 116.11,448.05" fill="#25b5aa"/><polygon points="126.3,453.01 132.95,451.11 127.85,448.63 121.2,450.53" fill="#33b8a1"/><polygon points="131.39,455.49 138.04,453.59 132.95,451.11 126.3,453.01" fill="#42bb98"/><polygon points="136.49,457.97 143.14,456.06 138.04,453.59 131.39,455.49" fill="#54bd8e"/><polygon points="141.59,460.45 148.24,458.54 143.14,456.06 136.49,457.97" fill="#66be85"/><polygon points="146.68,462.93 153.33,461.02 148.24,458.54 141.59,460.45" fill="#78bf7d"/><polygon points="151.78,465.41 158.43,463.5 153.33,461.02 146.68,462.93" fill="#89bf76"/><polygon points="156.87,467.89 163.52,465.98 158.43,463.5 151.78,465.41" fill="#98bf70"/><polygon points="161.97,470.37 168.62,468.46 163.52,465.98 156.87,467.89" fill="#a7be6a"/><polygon points="167.07,472.84 173.72,470.94 168.62,468.46 161.97,470.37" fill="#b5bd64"/><polygon points="172.16,475.32 178.81,473.41 173.72,470.94 167.07,472.84" fill="#c2bc5f"/><polygon points="177.26,477.8 183.91,475.89 178.81,473.41 172.16,475.32" fill="#cfbb5a"/><polygon points="182.35,480.28 189,478.37 183.91,475.89 177.26,477.8" fill="#dcba54"/><polygon points="187.45,482.76 194.1,480.85 189,478.37 182.35,480.28" fill="#e8b94f"/><polygon points="63.59,427.65 70.24,425.74 65.15,423.26 58.5,425.17" fill="#0e76dc"/><polygon points="68.69,430.13 75.34,428.22 70.24,425.74 63.59,427.65" fill="#127dd8"/><polygon points="73.78,432.61 80.43,430.7 75.34,428.22 68.69,430.13" fill="#1484d4"/><polygon points="78.88,435.09 85.53,433.18 80.43,430.7 73.78,432.61" fill="#128cd2"/><polygon points="83.98,437.57 90.63,435.66 85.53,433.18 78.88,435.09" fill="#0c94d2"/><polygon points="89.07,440.05 95.72,438.14 90.63,435.66 83.98,437.57" fill="#079ccf"/><polygon points="94.17,442.53 100.82,440.62 95.72,438.14 89.07,440.05" fill="#06a3cb"/><polygon points="99.26,445 105.91,443.1 100.82,440.62 94.17,442.53" fill="#06a8c4"/><polygon points="104.36,447.48 111.01,445.58 105.91,443.1 99.26,445" fill="#0badbc"/><polygon points="109.46,449.96 116.11,448.05 111.01,445.58 104.36,447.48" fill="#15b1b4"/><polygon points="114.55,452.44 121.2,450.53 116.11,448.05 109.46,449.96" fill="#23b4ab"/><polygon points="119.65,454.92 126.3,453.01 121.2,450.53 114.55,452.44" fill="#33b8a1"/><polygon points="124.74,457.4 131.39,455.49 126.3,453.01 119.65,454.92" fill="#45bb96"/><polygon points="129.84,459.88 136.49,457.97 131.39,455.49 124.74,457.4" fill="#59bd8c"/><polygon points="134.94,462.36 141.59,460.45 136.49,457.97 129.84,459.88" fill="#6ebf82"/><polygon points="140.03,464.84 146.68,462.93 141.59,460.45 134.94,462.36" fill="#82bf79"/><polygon points="145.13,467.32 151.78,465.41 146.68,462.93 140.03,464.84" fill="#94bf72"/><polygon points="150.22,469.79 156.87,467.89 151.78,465.41 145.13,467.32" fill="#a5be6b"/><polygon points="155.32,472.27 161.97,470.37 156.87,467.89 150.22,469.79" fill="#b5bd64"/><polygon points="160.42,474.75 167.07,472.84 161.97,470.37 155.32,472.27" fill="#c4bc5e"/><polygon points="165.51,477.23 172.16,475.32 167.07,472.84 160.42,474.75" fill="#d3bb58"/><polygon points="170.61,479.71 177.26,477.8 172.16,475.32 165.51,477.23" fill="#e1b952"/><polygon points="175.7,482.19 182.35,480.28 177.26,477.8 170.61,479.71" fill="#efb94b"/><polygon points="180.8,484.67 187.45,482.76 182.35,480.28 175.7,482.19" fill="#fbbc41"/><polygon points="56.94,429.56 63.59,427.65 58.5,425.17 51.85,427.08" fill="#046ce0"/><polygon points="62.04,432.04 68.69,430.13 63.59,427.65 56.94,429.56" fill="#0c74dd"/><polygon points="67.13,434.52 73.78,432.61 68.69,430.13 62.04,432.04" fill="#127cd8"/><polygon points="72.23,437 78.88,435.09 73.78,432.61 67.13,434.52" fill="#1484d4"/><polygon points="77.33,439.47 83.98,437.57 78.88,435.09 72.23,437" fill="#118dd2"/><polygon points="82.42,441.95 89.07,440.05 83.98,437.57 77.33,439.47" fill="#0a97d1"/><polygon points="87.52,444.43 94.17,442.53 89.07,440.05 82.42,441.95" fill="#069fce"/><polygon points="92.61,446.91 99.26,445 94.17,442.53 87.52,444.43" fill="#06a6c7"/><polygon points="97.71,449.39 104.36,447.48 99.26,445 92.61,446.91" fill="#09abbf"/><polygon points="102.81,451.87 109.46,449.96 104.36,447.48 97.71,449.39" fill="#13b0b6"/><polygon points="107.9,454.35 114.55,452.44 109.46,449.96 102.81,451.87" fill="#21b4ac"/><polygon points="113,456.83 119.65,454.92 114.55,452.44 107.9,454.35" fill="#33b8a1"/><polygon points="118.09,459.31 124.74,457.4 119.65,454.92 113,456.83" fill="#47bb95"/><polygon points="123.19,461.79 129.84,459.88 124.74,457.4 118.09,459.31" fill="#5ebe89"/><polygon points="128.29,464.27 134.94,462.36 129.84,459.88 123.19,461.79" fill="#75bf7e"/><polygon points="133.38,466.74 140.03,464.84 134.94,462.36 128.29,464.27" fill="#8bbf75"/><polygon points="138.48,469.22 145.13,467.32 140.03,464.84 133.38,466.74" fill="#9fbe6d"/><polygon points="143.57,471.7 150.22,469.79 145.13,467.32 138.48,469.22" fill="#b1bd66"/><polygon points="148.67,474.18 155.32,472.27 150.22,469.79 143.57,471.7" fill="#c2bc5f"/><polygon points="153.77,476.66 160.42,474.75 155.32,472.27 148.67,474.18" fill="#d3bb58"/><polygon points="158.86,479.14 165.51,477.23 160.42,474.75 153.77,476.66" fill="#e3b951"/><polygon points="163.96,481.62 170.61,479.71 165.51,477.23 158.86,479.14" fill="#f2b949"/><polygon points="169.05,484.1 175.7,482.19 170.61,479.71 163.96,481.62" fill="#febf3c"/><polygon points="174.15,486.58 180.8,484.67 175.7,482.19 169.05,484.1" fill="#fec932"/><polygon points="50.29,431.47 56.94,429.56 51.85,427.08 45.2,428.99" fill="#0a5fdf"/><polygon points="55.39,433.95 62.04,432.04 56.94,429.56 50.29,431.47" fill="#036be0"/><polygon points="60.48,436.42 67.13,434.52 62.04,432.04 55.39,433.95" fill="#0c74dd"/><polygon points="65.58,438.9 72.23,437 67.13,434.52 60.48,436.42" fill="#127dd8"/><polygon points="70.68,441.38 77.33,439.47 72.23,437 65.58,438.9" fill="#1485d4"/><polygon points="75.77,443.86 82.42,441.95 77.33,439.47 70.68,441.38" fill="#0f90d2"/><polygon points="80.87,446.34 87.52,444.43 82.42,441.95 75.77,443.86" fill="#089bd0"/><polygon points="85.96,448.82 92.61,446.91 87.52,444.43 80.87,446.34" fill="#06a3cb"/><polygon points="91.06,451.3 97.71,449.39 92.61,446.91 85.96,448.82" fill="#07a9c2"/><polygon points="96.16,453.78 102.81,451.87 97.71,449.39 91.06,451.3" fill="#10afb8"/><polygon points="101.25,456.26 107.9,454.35 102.81,451.87 96.16,453.78" fill="#1fb4ad"/><polygon points="106.35,458.74 113,456.83 107.9,454.35 101.25,456.26" fill="#33b8a1"/><polygon points="111.44,461.21 118.09,459.31 113,456.83 106.35,458.74" fill="#4abc94"/><polygon points="116.54,463.69 123.19,461.79 118.09,459.31 111.44,461.21" fill="#63be86"/><polygon points="121.64,466.17 128.29,464.27 123.19,461.79 116.54,463.69" fill="#7dbf7b"/><polygon points="126.73,468.65 133.38,466.74 128.29,464.27 121.64,466.17" fill="#94bf72"/><polygon points="131.83,471.13 138.48,469.22 133.38,466.74 126.73,468.65" fill="#a9be69"/><polygon points="136.92,473.61 143.57,471.7 138.48,469.22 131.83,471.13" fill="#bdbd61"/><polygon points="142.02,476.09 148.67,474.18 143.57,471.7 136.92,473.61" fill="#cfbb5a"/><polygon points="147.12,478.57 153.77,476.66 148.67,474.18 142.02,476.09" fill="#e1b952"/><polygon points="152.21,481.05 158.86,479.14 153.77,476.66 147.12,478.57" fill="#f2b949"/><polygon points="157.31,483.53 163.96,481.62 158.86,479.14 152.21,481.05" fill="#fec03b"/><polygon points="162.4,486 169.05,484.1 163.96,481.62 157.31,483.53" fill="#fdcb30"/><polygon points="167.5,488.48 174.15,486.58 169.05,484.1 162.4,486" fill="#f8d727"/><polygon points="43.64,433.37 50.29,431.47 45.2,428.99 38.55,430.9" fill="#2b4bc7"/><polygon points="48.74,435.85 55.39,433.95 50.29,431.47 43.64,433.37" fill="#0a5fdf"/><polygon points="53.83,438.33 60.48,436.42 55.39,433.95 48.74,435.85" fill="#046ce0"/><polygon points="58.93,440.81 65.58,438.9 60.48,436.42 53.83,438.33" fill="#0e76dc"/><polygon points="64.03,443.29 70.68,441.38 65.58,438.9 58.93,440.81" fill="#137fd7"/><polygon points="69.12,445.77 75.77,443.86 70.68,441.38 64.03,443.29" fill="#1389d3"/><polygon points="74.22,448.25 80.87,446.34 75.77,443.86 69.12,445.77" fill="#0b96d1"/><polygon points="79.31,450.73 85.96,448.82 80.87,446.34 74.22,448.25" fill="#06a0cd"/><polygon points="84.41,453.21 91.06,451.3 85.96,448.82 79.31,450.73" fill="#06a7c5"/><polygon points="89.51,455.69 96.16,453.78 91.06,451.3 84.41,453.21" fill="#0daeba"/><polygon points="94.6,458.16 101.25,456.26 96.16,453.78 89.51,455.69" fill="#1eb3ae"/><polygon points="99.7,460.64 106.35,458.74 101.25,456.26 94.6,458.16" fill="#33b8a1"/><polygon points="104.79,463.12 111.44,461.21 106.35,458.74 99.7,460.64" fill="#4cbc92"/><polygon points="109.89,465.6 116.54,463.69 111.44,461.21 104.79,463.12" fill="#69be84"/><polygon points="114.99,468.08 121.64,466.17 116.54,463.69 109.89,465.6" fill="#84bf78"/><polygon points="120.08,470.56 126.73,468.65 121.64,466.17 114.99,468.08" fill="#9dbf6e"/><polygon points="125.18,473.04 131.83,471.13 126.73,468.65 120.08,470.56" fill="#b3bd65"/><polygon points="130.27,475.52 136.92,473.61 131.83,471.13 125.18,473.04" fill="#c8bc5d"/><polygon points="135.37,478 142.02,476.09 136.92,473.61 130.27,475.52" fill="#dcba54"/><polygon points="140.47,480.48 147.12,478.57 142.02,476.09 135.37,478" fill="#efb94b"/><polygon points="145.56,482.95 152.21,481.05 147.12,478.57 140.47,480.48" fill="#febf3c"/><polygon points="150.66,485.43 157.31,483.53 152.21,481.05 145.56,482.95" fill="#fdcb30"/><polygon points="155.75,487.91 162.4,486 157.31,483.53 150.66,485.43" fill="#f7d826"/><polygon points="160.85,490.39 167.5,488.48 162.4,486 155.75,487.91" fill="#f5e71b"/><polygon points="36.99,435.28 43.64,433.37 38.55,430.9 31.9,432.8" fill="#353aa8"/><polygon points="42.09,437.76 48.74,435.85 43.64,433.37 36.99,435.28" fill="#294cca"/><polygon points="47.18,440.24 53.83,438.33 48.74,435.85 42.09,437.76" fill="#0462e0"/><polygon points="52.28,442.72 58.93,440.81 53.83,438.33 47.18,440.24" fill="#066fdf"/><polygon points="57.38,445.2 64.03,443.29 58.93,440.81 52.28,442.72" fill="#1079da"/><polygon points="62.47,447.68 69.12,445.77 64.03,443.29 57.38,445.2" fill="#1484d4"/><polygon points="67.57,450.16 74.22,448.25 69.12,445.77 62.47,447.68" fill="#0f90d2"/><polygon points="72.66,452.64 79.31,450.73 74.22,448.25 67.57,450.16" fill="#079ccf"/><polygon points="77.76,455.11 84.41,453.21 79.31,450.73 72.66,452.64" fill="#06a6c7"/><polygon points="82.86,457.59 89.51,455.69 84.41,453.21 77.76,455.11" fill="#0badbc"/><polygon points="87.95,460.07 94.6,458.16 89.51,455.69 82.86,457.59" fill="#1cb3b0"/><polygon points="93.05,462.55 99.7,460.64 94.6,458.16 87.95,460.07" fill="#33b8a1"/><polygon points="98.14,465.03 104.79,463.12 99.7,460.64 93.05,462.55" fill="#4fbc91"/><polygon points="103.24,467.51 109.89,465.6 104.79,463.12 98.14,465.03" fill="#6ebf82"/><polygon points="108.34,469.99 114.99,468.08 109.89,465.6 103.24,467.51" fill="#8bbf75"/><polygon points="113.43,472.47 120.08,470.56 114.99,468.08 108.34,469.99" fill="#a5be6b"/><polygon points="118.53,474.95 125.18,473.04 120.08,470.56 113.43,472.47" fill="#bdbd61"/><polygon points="123.62,477.43 130.27,475.52 125.18,473.04 118.53,474.95" fill="#d3bb58"/><polygon points="128.72,479.9 135.37,478 130.27,475.52 123.62,477.43" fill="#e8b94f"/><polygon points="133.82,482.38 140.47,480.48 135.37,478 128.72,479.9" fill="#fbbc41"/><polygon points="138.91,484.86 145.56,482.95 140.47,480.48 133.82,482.38" fill="#fec932"/><polygon points="144.01,487.34 150.66,485.43 145.56,482.95 138.91,484.86" fill="#f8d727"/><polygon points="149.1,489.82 155.75,487.91 150.66,485.43 144.01,487.34" fill="#f5e71b"/><polygon points="154.2,492.3 160.85,490.39 155.75,487.91 149.1,489.82" fill="#f9fb0e"/></g>
<path d="M31.9 467.8L31.9 338.65M31.9 467.8L154.2 527.3M154.2 527.3L313.8 481.51M31.9 467.8L28.66 466.23M31.9 432.8L28.66 431.23M31.9 397.8L28.66 396.23M31.9 362.8L28.66 361.23M144.01 522.34L140.55 523.33M167.5 523.48L170.74 525.06M118.53 509.95L115.07 510.94M200.75 513.94L203.99 515.52M93.05 497.55L89.59 498.54M234 504.4L237.24 505.98M67.57 485.16L64.11 486.15M267.25 494.86L270.49 496.44M42.09 472.76L38.63 473.75M300.5 485.32L303.74 486.9" stroke="#4a4a4a" stroke-width="0.9" fill="none"/>
<g font-family="Liberation Sans, sans-serif" font-size="9.6" fill="#4d4d4d" stroke="#4d4d4d" stroke-width="0.15"><text x="24.6" y="467" text-anchor="end">-0.05</text><text x="24.6" y="432" text-anchor="end">0</text><text x="24.6" y="397" text-anchor="end">0.05</text><text x="24.6" y="362" text-anchor="end">0.1</text><text x="136.21" y="533.04" text-anchor="end">-10</text><text x="174.2" y="534.98">-10</text><text x="110.73" y="520.65" text-anchor="end">-5</text><text x="207.45" y="525.44">-5</text><text x="85.25" y="508.25" text-anchor="end">0</text><text x="240.7" y="515.9">0</text><text x="59.77" y="495.86" text-anchor="end">5</text><text x="273.95" y="506.36">5</text><text x="34.29" y="483.46" text-anchor="end">10</text><text x="307.2" y="496.82">10</text></g></g>
<g><path d="M532.35 523.51L410.24 464.01M508.82 522.34L669.02 476.84M410.24 464.01L410.24 335.58M669.02 476.84L669.02 348.4M565.73 514.03L443.61 454.53M483.38 509.95L643.58 464.44M443.61 454.53L443.61 326.1M643.58 464.44L643.58 336.01M599.1 504.55L476.99 445.05M457.94 497.55L618.14 452.05M476.99 445.05L476.99 316.62M618.14 452.05L618.14 323.61M632.48 495.07L510.36 435.57M432.5 485.16L592.7 439.65M510.36 435.57L510.36 307.14M592.7 439.65L592.7 311.22M665.85 485.59L543.74 426.09M407.06 472.76L567.26 427.26M543.74 426.09L543.74 297.66M567.26 427.26L567.26 298.82M396.89 467.8L557.09 422.3M557.09 422.3L679.2 481.8M396.89 434.44L557.09 388.94M557.09 388.94L679.2 448.44M396.89 401.08L557.09 355.58M557.09 355.58L679.2 415.08M396.89 367.72L557.09 322.22M557.09 322.22L679.2 381.72" stroke="#e3e3e3" stroke-width="0.8" fill="none"/>
<path d="M407.26 471.35L413.39 466.24L423.61 463.17L433.83 461.13L444.05 458.07L454.27 456.02M462.44 469.31L466.53 473.39L476.75 479.52L486.97 484.63L493.1 487.7L497.19 491.79L509.45 495.87L517.62 498.53L525.8 497.51L535 494.85M416.46 474.42L425.66 472.37L432.81 471.35L437.92 467.67L449.16 468.28L454.27 472.37L463.47 475.44L465.51 480.55L466.53 485.66L474.71 488.72L476.75 492.81L486.97 493.83L495.14 497.92L499.23 503.03L498.21 508.14L509.45 508.55L515.58 510.18L519.67 513.25L517.62 516.31L516.6 522.44L519.67 525.51M433.83 480.55L435.87 476.46L448.14 477.07L451.2 480.55L446.09 485.66L447.12 487.7L454.27 488.72L462.44 493.83M456.31 494.85L463.47 494.24M473.68 499.55L475.11 500.37M464.49 498.94L466.53 497.92M475.73 504.05L479.82 505.07L487.99 504.05L489.01 507.73L484.92 509.16L491.06 510.18L495.14 512.22L496.16 514.27L506.38 515.29L507.81 518.36L514.56 519.99M568.36 479.82L573.33 486.03L582.01 489.75L591.94 489.75L601.87 486.03L610.56 479.82L619.24 474.86L626.69 469.89L634.14 464.93L636.62 461.21M574.57 478.58L583.26 483.54L594.42 482.8L601.87 479.82L608.08 474.86L611.8 469.89M515 497.19L522.45 499.68L534.86 500.92L547.27 499.68L557.19 497.69L564.64 494.71L562.16 492.23L552.23 493.47L539.82 495.95L527.41 494.71L519.96 492.23L515 493.47M583.26 496.7L589.46 494.22L601.87 492.23L598.15 495.95L589.46 498.44L583.26 496.7M548.51 505.88L554.71 504.64L553.47 507.62L548.51 505.88M570.85 508.36L573.33 504.64L575.81 502.65L578.29 505.88L584.5 504.64L589.46 502.16L596.91 500.92L600.63 498.44L604.35 497.69L605.59 500.92L610.56 499.18L614.28 495.95L621.73 492.23L620.49 488.51L625.45 486.03L627.93 488.51L632.9 486.03L634.14 482.3L637.86 479.82L639.1 474.86L644.06 472.37L645.31 467.41M647.79 478.58L653.99 477.34L661.44 479.82L660.2 483.54L653.99 484.78L649.03 482.3L647.79 478.58M634.14 488.51L639.1 486.03L644.06 487.27L639.1 489.75L634.14 488.51M653.99 473.62L661.44 476.1L668.88 478.58L673.85 479.82M515 510.85L517.48 514.57L519.96 519.53L517.48 524.5L515 525.74" stroke="#5cc4ae" stroke-width="1.1" fill="none" stroke-linecap="round" stroke-linejoin="round"/>
<g stroke="#000" stroke-width="0.5" stroke-opacity="1" stroke-linejoin="round"><polygon points="555.5,393.31 562.18,391.42 557.09,388.94 550.41,390.84" fill="#f7d826"/><polygon points="560.59,395.79 567.26,393.9 562.18,391.42 555.5,393.31" fill="#fdcb30"/><polygon points="565.68,398.27 572.35,396.37 567.26,393.9 560.59,395.79" fill="#febf3c"/><polygon points="570.76,400.74 577.44,398.85 572.35,396.37 565.68,398.27" fill="#efb94b"/><polygon points="575.85,403.21 582.53,401.33 577.44,398.85 570.76,400.74" fill="#dcba54"/><polygon points="580.94,405.68 587.62,403.8 582.53,401.33 575.85,403.21" fill="#c8bc5d"/><polygon points="586.03,408.15 592.7,406.28 587.62,403.8 580.94,405.68" fill="#b3bd65"/><polygon points="591.12,410.61 597.79,408.75 592.7,406.28 586.03,408.15" fill="#9dbf6e"/><polygon points="596.2,413.07 602.88,411.22 597.79,408.75 591.12,410.61" fill="#84bf78"/><polygon points="601.29,415.54 607.97,413.7 602.88,411.22 596.2,413.07" fill="#69be84"/><polygon points="606.38,418.02 613.06,416.17 607.97,413.7 601.29,415.54" fill="#4cbc92"/><polygon points="611.47,420.5 618.14,418.65 613.06,416.17 606.38,418.02" fill="#33b8a1"/><polygon points="616.56,422.99 623.23,421.14 618.14,418.65 611.47,420.5" fill="#1eb3ae"/><polygon points="621.64,425.48 628.32,423.62 623.23,421.14 616.56,422.99" fill="#0daeba"/><polygon points="626.73,427.98 633.41,426.11 628.32,423.62 621.64,425.48" fill="#06a7c5"/><polygon points="631.82,430.47 638.5,428.59 633.41,426.11 626.73,427.98" fill="#06a0cd"/><polygon points="636.91,432.96 643.58,431.08 638.5,428.59 631.82,430.47" fill="#0b96d1"/><polygon points="642,435.45 648.67,433.56 643.58,431.08 636.91,432.96" fill="#1389d3"/><polygon points="647.08,437.93 653.76,436.04 648.67,433.56 642,435.45" fill="#137fd7"/><polygon points="652.17,440.41 658.85,438.52 653.76,436.04 647.08,437.93" fill="#0e76dc"/><polygon points="657.26,442.89 663.94,441 658.85,438.52 652.17,440.41" fill="#046ce0"/><polygon points="662.35,445.37 669.02,443.48 663.94,441 657.26,442.89" fill="#0a5fdf"/><polygon points="667.44,447.85 674.11,445.96 669.02,443.48 662.35,445.37" fill="#2b4bc7"/><polygon points="672.52,450.33 679.2,448.44 674.11,445.96 667.44,447.85" fill="#353aa8"/><polygon points="548.83,395.21 555.5,393.31 550.41,390.84 543.74,392.73" fill="#fdcb30"/><polygon points="553.91,397.68 560.59,395.79 555.5,393.31 548.83,395.21" fill="#fec03b"/><polygon points="559,400.16 565.68,398.27 560.59,395.79 553.91,397.68" fill="#f2b949"/><polygon points="564.09,402.62 570.76,400.74 565.68,398.27 559,400.16" fill="#e1b952"/><polygon points="569.18,405.09 575.85,403.21 570.76,400.74 564.09,402.62" fill="#cfbb5a"/><polygon points="574.27,407.54 580.94,405.68 575.85,403.21 569.18,405.09" fill="#bdbd61"/><polygon points="579.35,409.99 586.03,408.15 580.94,405.68 574.27,407.54" fill="#a9be69"/><polygon points="584.44,412.43 591.12,410.61 586.03,408.15 579.35,409.99" fill="#94bf72"/><polygon points="589.53,414.88 596.2,413.07 591.12,410.61 584.44,412.43" fill="#7dbf7b"/><polygon points="594.62,417.33 601.29,415.54 596.2,413.07 589.53,414.88" fill="#63be86"/><polygon points="599.71,419.8 606.38,418.02 601.29,415.54 594.62,417.33" fill="#4abc94"/><polygon points="604.79,422.29 611.47,420.5 606.38,418.02 599.71,419.8" fill="#33b8a1"/><polygon points="609.88,424.79 616.56,422.99 611.47,420.5 604.79,422.29" fill="#1fb4ad"/><polygon points="614.97,427.3 621.64,425.48 616.56,422.99 609.88,424.79" fill="#10afb8"/><polygon points="620.06,429.82 626.73,427.98 621.64,425.48 614.97,427.3" fill="#07a9c2"/><polygon points="625.15,432.33 631.82,430.47 626.73,427.98 620.06,429.82" fill="#06a3cb"/><polygon points="630.23,434.83 636.91,432.96 631.82,430.47 625.15,432.33" fill="#089bd0"/><polygon points="635.32,437.33 642,435.45 636.91,432.96 630.23,434.83" fill="#0f90d2"/><polygon points="640.41,439.82 647.08,437.93 642,435.45 635.32,437.33" fill="#1485d4"/><polygon points="645.5,442.31 652.17,440.41 647.08,437.93 640.41,439.82" fill="#127dd8"/><polygon points="650.59,444.79 657.26,442.89 652.17,440.41 645.5,442.31" fill="#0c74dd"/><polygon points="655.67,447.27 662.35,445.37 657.26,442.89 650.59,444.79" fill="#036be0"/><polygon points="660.76,449.75 667.44,447.85 662.35,445.37 655.67,447.27" fill="#0a5fdf"/><polygon points="665.85,452.23 672.52,450.33 667.44,447.85 660.76,449.75" fill="#294cca"/><polygon points="542.15,397.1 548.83,395.21 543.74,392.73 537.06,394.63" fill="#febf3c"/><polygon points="547.24,399.57 553.91,397.68 548.83,395.21 542.15,397.1" fill="#f2b949"/><polygon points="552.33,402.04 559,400.16 553.91,397.68 547.24,399.57" fill="#e3b951"/><polygon points="557.41,404.49 564.09,402.62 559,400.16 552.33,402.04" fill="#d3bb58"/><polygon points="562.5,406.94 569.18,405.09 564.09,402.62 557.41,404.49" fill="#c2bc5f"/><polygon points="567.59,409.36 574.27,407.54 569.18,405.09 562.5,406.94" fill="#b1bd66"/><polygon points="572.68,411.77 579.35,409.99 574.27,407.54 567.59,409.36" fill="#9fbe6d"/><polygon points="577.77,414.18 584.44,412.43 579.35,409.99 572.68,411.77" fill="#8bbf75"/><polygon points="582.85,416.59 589.53,414.88 584.44,412.43 577.77,414.18" fill="#75bf7e"/><polygon points="587.94,419.02 594.62,417.33 589.53,414.88 582.85,416.59" fill="#5ebe89"/><polygon points="593.03,421.48 599.71,419.8 594.62,417.33 587.94,419.02" fill="#47bb95"/><polygon points="598.12,423.98 604.79,422.29 599.71,419.8 593.03,421.48" fill="#33b8a1"/><polygon points="603.21,426.51 609.88,424.79 604.79,422.29 598.12,423.98" fill="#21b4ac"/><polygon points="608.29,429.05 614.97,427.3 609.88,424.79 603.21,426.51" fill="#13b0b6"/><polygon points="613.38,431.61 620.06,429.82 614.97,427.3 608.29,429.05" fill="#09abbf"/><polygon points="618.47,434.15 625.15,432.33 620.06,429.82 613.38,431.61" fill="#06a6c7"/><polygon points="623.56,436.68 630.23,434.83 625.15,432.33 618.47,434.15" fill="#069fce"/><polygon points="628.65,439.2 635.32,437.33 630.23,434.83 623.56,436.68" fill="#0a97d1"/><polygon points="633.73,441.7 640.41,439.82 635.32,437.33 628.65,439.2" fill="#118dd2"/><polygon points="638.82,444.2 645.5,442.31 640.41,439.82 633.73,441.7" fill="#1484d4"/><polygon points="643.91,446.68 650.59,444.79 645.5,442.31 638.82,444.2" fill="#127cd8"/><polygon points="649,449.16 655.67,447.27 650.59,444.79 643.91,446.68" fill="#0c74dd"/><polygon points="654.09,451.64 660.76,449.75 655.67,447.27 649,449.16" fill="#046ce0"/><polygon points="659.17,454.12 665.85,452.23 660.76,449.75 654.09,451.64" fill="#0462e0"/><polygon points="535.48,398.99 542.15,397.1 537.06,394.63 530.39,396.52" fill="#efb94b"/><polygon points="540.56,401.46 547.24,399.57 542.15,397.1 535.48,398.99" fill="#e1b952"/><polygon points="545.65,403.91 552.33,402.04 547.24,399.57 540.56,401.46" fill="#d3bb58"/><polygon points="550.74,406.35 557.41,404.49 552.33,402.04 545.65,403.91" fill="#c4bc5e"/><polygon points="555.83,408.75 562.5,406.94 557.41,404.49 550.74,406.35" fill="#b5bd64"/><polygon points="560.92,411.13 567.59,409.36 562.5,406.94 555.83,408.75" fill="#a5be6b"/><polygon points="566,413.48 572.68,411.77 567.59,409.36 560.92,411.13" fill="#94bf72"/><polygon points="571.09,415.82 577.77,414.18 572.68,411.77 566,413.48" fill="#82bf79"/><polygon points="576.18,418.16 582.85,416.59 577.77,414.18 571.09,415.82" fill="#6ebf82"/><polygon points="581.27,420.55 587.94,419.02 582.85,416.59 576.18,418.16" fill="#59bd8c"/><polygon points="586.36,422.99 593.03,421.48 587.94,419.02 581.27,420.55" fill="#45bb96"/><polygon points="591.44,425.5 598.12,423.98 593.03,421.48 586.36,422.99" fill="#33b8a1"/><polygon points="596.53,428.08 603.21,426.51 598.12,423.98 591.44,425.5" fill="#23b4ab"/><polygon points="601.62,430.69 608.29,429.05 603.21,426.51 596.53,428.08" fill="#15b1b4"/><polygon points="606.71,433.31 613.38,431.61 608.29,429.05 601.62,430.69" fill="#0badbc"/><polygon points="611.8,435.92 618.47,434.15 613.38,431.61 606.71,433.31" fill="#06a8c4"/><polygon points="616.88,438.5 623.56,436.68 618.47,434.15 611.8,435.92" fill="#06a3cb"/><polygon points="621.97,441.05 628.65,439.2 623.56,436.68 616.88,438.5" fill="#079ccf"/><polygon points="627.06,443.58 633.73,441.7 628.65,439.2 621.97,441.05" fill="#0c94d2"/><polygon points="632.15,446.08 638.82,444.2 633.73,441.7 627.06,443.58" fill="#128cd2"/><polygon points="637.24,448.57 643.91,446.68 638.82,444.2 632.15,446.08" fill="#1484d4"/><polygon points="642.32,451.06 649,449.16 643.91,446.68 637.24,448.57" fill="#127dd8"/><polygon points="647.41,453.54 654.09,451.64 649,449.16 642.32,451.06" fill="#0e76dc"/><polygon points="652.5,456.02 659.17,454.12 654.09,451.64 647.41,453.54" fill="#066fdf"/><polygon points="528.8,400.88 535.48,398.99 530.39,396.52 523.71,398.41" fill="#dcba54"/><polygon points="533.89,403.34 540.56,401.46 535.48,398.99 528.8,400.88" fill="#cfbb5a"/><polygon points="538.98,405.77 545.65,403.91 540.56,401.46 533.89,403.34" fill="#c2bc5f"/><polygon points="544.07,408.17 550.74,406.35 545.65,403.91 538.98,405.77" fill="#b5bd64"/><polygon points="549.15,410.52 555.83,408.75 550.74,406.35 544.07,408.17" fill="#a7be6a"/><polygon points="554.24,412.82 560.92,411.13 555.83,408.75 549.15,410.52" fill="#98bf70"/><polygon points="559.33,415.07 566,413.48 560.92,411.13 554.24,412.82" fill="#89bf76"/><polygon points="564.42,417.29 571.09,415.82 566,413.48 559.33,415.07" fill="#78bf7d"/><polygon points="569.5,419.51 576.18,418.16 571.09,415.82 564.42,417.29" fill="#66be85"/><polygon points="574.59,421.79 581.27,420.55 576.18,418.16 569.5,419.51" fill="#54bd8e"/><polygon points="579.68,424.19 586.36,422.99 581.27,420.55 574.59,421.79" fill="#42bb98"/><polygon points="584.77,426.75 591.44,425.5 586.36,422.99 579.68,424.19" fill="#33b8a1"/><polygon points="589.86,429.42 596.53,428.08 591.44,425.5 584.77,426.75" fill="#25b5aa"/><polygon points="594.95,432.15 601.62,430.69 596.53,428.08 589.86,429.42" fill="#19b2b2"/><polygon points="600.03,434.89 606.71,433.31 601.62,430.69 594.95,432.15" fill="#0faeb9"/><polygon points="605.12,437.6 611.8,435.92 606.71,433.31 600.03,434.89" fill="#08aac0"/><polygon points="610.21,440.27 616.88,438.5 611.8,435.92 605.12,437.6" fill="#06a6c7"/><polygon points="615.3,442.88 621.97,441.05 616.88,438.5 610.21,440.27" fill="#06a1cc"/><polygon points="620.38,445.43 627.06,443.58 621.97,441.05 615.3,442.88" fill="#079cd0"/><polygon points="625.47,447.96 632.15,446.08 627.06,443.58 620.38,445.43" fill="#0c94d2"/><polygon points="630.56,450.46 637.24,448.57 632.15,446.08 625.47,447.96" fill="#118dd2"/><polygon points="635.65,452.95 642.32,451.06 637.24,448.57 630.56,450.46" fill="#1485d4"/><polygon points="640.74,455.43 647.41,453.54 642.32,451.06 635.65,452.95" fill="#137fd7"/><polygon points="645.83,457.92 652.5,456.02 647.41,453.54 640.74,455.43" fill="#1079da"/><polygon points="522.13,402.77 528.8,400.88 523.71,398.41 517.04,400.3" fill="#c8bc5d"/><polygon points="527.21,405.21 533.89,403.34 528.8,400.88 522.13,402.77" fill="#bdbd61"/><polygon points="532.3,407.61 538.98,405.77 533.89,403.34 527.21,405.21" fill="#b1bd66"/><polygon points="537.39,409.96 544.07,408.17 538.98,405.77 532.3,407.61" fill="#a5be6b"/><polygon points="542.48,412.24 549.15,410.52 544.07,408.17 537.39,409.96" fill="#98bf70"/><polygon points="547.57,414.42 554.24,412.82 549.15,410.52 542.48,412.24" fill="#8bbf75"/><polygon points="552.65,416.51 559.33,415.07 554.24,412.82 547.57,414.42" fill="#7dbf7b"/><polygon points="557.74,418.48 564.42,417.29 559.33,415.07 552.65,416.51" fill="#6ebf82"/><polygon points="562.83,420.36 569.5,419.51 564.42,417.29 557.74,418.48" fill="#5ebe89"/><polygon points="567.92,422.3 574.59,421.79 569.5,419.51 562.83,420.36" fill="#4fbc91"/><polygon points="573.01,424.55 579.68,424.19 574.59,421.79 567.92,422.3" fill="#40ba99"/><polygon points="578.09,427.24 584.77,426.75 579.68,424.19 573.01,424.55" fill="#33b8a1"/><polygon points="583.18,430.21 589.86,429.42 584.77,426.75 578.09,427.24" fill="#27b5a8"/><polygon points="588.27,433.19 594.95,432.15 589.86,429.42 583.18,430.21" fill="#1cb3b0"/><polygon points="593.36,436.15 600.03,434.89 594.95,432.15 588.27,433.19" fill="#13b0b6"/><polygon points="598.45,439.12 605.12,437.6 600.03,434.89 593.36,436.15" fill="#0badbc"/><polygon points="603.53,441.97 610.21,440.27 605.12,437.6 598.45,439.12" fill="#07a9c2"/><polygon points="608.62,444.67 615.3,442.88 610.21,440.27 603.53,441.97" fill="#06a6c7"/><polygon points="613.71,447.28 620.38,445.43 615.3,442.88 608.62,444.67" fill="#06a1cc"/><polygon points="618.8,449.83 625.47,447.96 620.38,445.43 613.71,447.28" fill="#079ccf"/><polygon points="623.89,452.35 630.56,450.46 625.47,447.96 618.8,449.83" fill="#0a97d1"/><polygon points="628.97,454.84 635.65,452.95 630.56,450.46 623.89,452.35" fill="#0f90d2"/><polygon points="634.06,457.33 640.74,455.43 635.65,452.95 628.97,454.84" fill="#1389d3"/><polygon points="639.15,459.81 645.83,457.92 640.74,455.43 634.06,457.33" fill="#1484d4"/><polygon points="515.45,404.65 522.13,402.77 517.04,400.3 510.36,402.19" fill="#b3bd65"/><polygon points="520.54,407.07 527.21,405.21 522.13,402.77 515.45,404.65" fill="#a9be69"/><polygon points="525.63,409.44 532.3,407.61 527.21,405.21 520.54,407.07" fill="#9fbe6d"/><polygon points="530.72,411.73 537.39,409.96 532.3,407.61 525.63,409.44" fill="#94bf72"/><polygon points="535.8,413.9 542.48,412.24 537.39,409.96 530.72,411.73" fill="#89bf76"/><polygon points="540.89,415.92 547.57,414.42 542.48,412.24 535.8,413.9" fill="#7dbf7b"/><polygon points="545.98,417.69 552.65,416.51 547.57,414.42 540.89,415.92" fill="#70bf81"/><polygon points="551.07,419.01 557.74,418.48 552.65,416.51 545.98,417.69" fill="#63be86"/><polygon points="556.15,419.7 562.83,420.36 557.74,418.48 551.07,419.01" fill="#56bd8d"/><polygon points="561.24,420.25 567.92,422.3 562.83,420.36 556.15,419.7" fill="#4abc94"/><polygon points="566.33,421.84 573.01,424.55 567.92,422.3 561.24,420.25" fill="#3eba9a"/><polygon points="571.42,425.13 578.09,427.24 573.01,424.55 566.33,421.84" fill="#33b8a1"/><polygon points="576.51,429.19 583.18,430.21 578.09,427.24 571.42,425.13" fill="#29b6a7"/><polygon points="581.6,432.86 588.27,433.19 583.18,430.21 576.51,429.19" fill="#1fb4ad"/><polygon points="586.68,436.42 593.36,436.15 588.27,433.19 581.6,432.86" fill="#17b1b3"/><polygon points="591.77,440.17 598.45,439.12 593.36,436.15 586.68,436.42" fill="#10afb8"/><polygon points="596.86,443.53 603.53,441.97 598.45,439.12 591.77,440.17" fill="#0aacbd"/><polygon points="601.95,446.42 608.62,444.67 603.53,441.97 596.86,443.53" fill="#07a9c2"/><polygon points="607.03,449.11 613.71,447.28 608.62,444.67 601.95,446.42" fill="#06a6c7"/><polygon points="612.12,451.69 618.8,449.83 613.71,447.28 607.03,449.11" fill="#06a3cb"/><polygon points="617.21,454.23 623.89,452.35 618.8,449.83 612.12,451.69" fill="#069fce"/><polygon points="622.3,456.73 628.97,454.84 623.89,452.35 617.21,454.23" fill="#089bd0"/><polygon points="627.39,459.22 634.06,457.33 628.97,454.84 622.3,456.73" fill="#0b96d1"/><polygon points="632.48,461.71 639.15,459.81 634.06,457.33 627.39,459.22" fill="#0f90d2"/><polygon points="508.78,406.53 515.45,404.65 510.36,402.19 503.69,404.08" fill="#9dbf6e"/><polygon points="513.86,408.93 520.54,407.07 515.45,404.65 508.78,406.53" fill="#94bf72"/><polygon points="518.95,411.26 525.63,409.44 520.54,407.07 513.86,408.93" fill="#8bbf75"/><polygon points="524.04,413.48 530.72,411.73 525.63,409.44 518.95,411.26" fill="#82bf79"/><polygon points="529.13,415.54 535.8,413.9 530.72,411.73 524.04,413.48" fill="#78bf7d"/><polygon points="534.22,417.31 540.89,415.92 535.8,413.9 529.13,415.54" fill="#6ebf82"/><polygon points="539.3,418.42 545.98,417.69 540.89,415.92 534.22,417.31" fill="#63be86"/><polygon points="544.39,417.94 551.07,419.01 545.98,417.69 539.3,418.42" fill="#59bd8c"/><polygon points="549.48,415.04 556.15,419.7 551.07,419.01 544.39,417.94" fill="#4fbc91"/><polygon points="554.57,411.2 561.24,420.25 556.15,419.7 549.48,415.04" fill="#45bb96"/><polygon points="559.66,410.69 566.33,421.84 561.24,420.25 554.57,411.2" fill="#3bba9c"/><polygon points="564.74,415.93 571.42,425.13 566.33,421.84 559.66,410.69" fill="#33b8a1"/><polygon points="569.83,423.76 576.51,429.19 571.42,425.13 564.74,415.93" fill="#2bb6a6"/><polygon points="574.92,429.99 581.6,432.86 576.51,429.19 569.83,423.76" fill="#23b4ab"/><polygon points="580.01,435.2 586.68,436.42 581.6,432.86 574.92,429.99" fill="#1cb3b0"/><polygon points="585.1,440.59 591.77,440.17 586.68,436.42 580.01,435.2" fill="#15b1b4"/><polygon points="590.18,444.95 596.86,443.53 591.77,440.17 585.1,440.59" fill="#10afb8"/><polygon points="595.27,448.16 601.95,446.42 596.86,443.53 590.18,444.95" fill="#0badbc"/><polygon points="600.36,450.93 607.03,449.11 601.95,446.42 595.27,448.16" fill="#08aac0"/><polygon points="605.45,453.55 612.12,451.69 607.03,449.11 600.36,450.93" fill="#06a8c4"/><polygon points="610.54,456.11 617.21,454.23 612.12,451.69 605.45,453.55" fill="#06a6c7"/><polygon points="615.62,458.62 622.3,456.73 617.21,454.23 610.54,456.11" fill="#06a3cb"/><polygon points="620.71,461.12 627.39,459.22 622.3,456.73 615.62,458.62" fill="#06a0cd"/><polygon points="625.8,463.6 632.48,461.71 627.39,459.22 620.71,461.12" fill="#079ccf"/><polygon points="502.1,408.41 508.78,406.53 503.69,404.08 497.01,405.97" fill="#84bf78"/><polygon points="507.19,410.8 513.86,408.93 508.78,406.53 502.1,408.41" fill="#7dbf7b"/><polygon points="512.28,413.09 518.95,411.26 513.86,408.93 507.19,410.8" fill="#75bf7e"/><polygon points="517.37,415.25 524.04,413.48 518.95,411.26 512.28,413.09" fill="#6ebf82"/><polygon points="522.45,417.18 529.13,415.54 524.04,413.48 517.37,415.25" fill="#66be85"/><polygon points="527.54,418.62 534.22,417.31 529.13,415.54 522.45,417.18" fill="#5ebe89"/><polygon points="532.63,418.54 539.3,418.42 534.22,417.31 527.54,418.62" fill="#56bd8d"/><polygon points="537.72,414.46 544.39,417.94 539.3,418.42 532.63,418.54" fill="#4fbc91"/><polygon points="542.8,404.08 549.48,415.04 544.39,417.94 537.72,414.46" fill="#47bb95"/><polygon points="547.89,391.01 554.57,411.2 549.48,415.04 542.8,404.08" fill="#40ba99"/><polygon points="552.98,386.06 559.66,410.69 554.57,411.2 547.89,391.01" fill="#39b99d"/><polygon points="558.07,395.67 564.74,415.93 559.66,410.69 552.98,386.06" fill="#33b8a1"/><polygon points="563.16,412.49 569.83,423.76 564.74,415.93 558.07,395.67" fill="#2db7a5"/><polygon points="568.25,425.76 574.92,429.99 569.83,423.76 563.16,412.49" fill="#27b5a8"/><polygon points="573.33,434.51 580.01,435.2 574.92,429.99 568.25,425.76" fill="#21b4ac"/><polygon points="578.42,441.5 585.1,440.59 580.01,435.2 573.33,434.51" fill="#1cb3b0"/><polygon points="583.51,446.49 590.18,444.95 585.1,440.59 578.42,441.5" fill="#17b1b3"/><polygon points="588.6,449.91 595.27,448.16 590.18,444.95 583.51,446.49" fill="#13b0b6"/><polygon points="593.68,452.75 600.36,450.93 595.27,448.16 588.6,449.91" fill="#0faeb9"/><polygon points="598.77,455.42 605.45,453.55 600.36,450.93 593.68,452.75" fill="#0badbc"/><polygon points="603.86,457.99 610.54,456.11 605.45,453.55 598.77,455.42" fill="#09abbf"/><polygon points="608.95,460.51 615.62,458.62 610.54,456.11 603.86,457.99" fill="#07a9c2"/><polygon points="614.04,463.01 620.71,461.12 615.62,458.62 608.95,460.51" fill="#06a7c5"/><polygon points="619.12,465.5 625.8,463.6 620.71,461.12 614.04,463.01" fill="#06a6c7"/><polygon points="495.43,410.3 502.1,408.41 497.01,405.97 490.34,407.87" fill="#69be84"/><polygon points="500.51,412.67 507.19,410.8 502.1,408.41 495.43,410.3" fill="#63be86"/><polygon points="505.6,414.94 512.28,413.09 507.19,410.8 500.51,412.67" fill="#5ebe89"/><polygon points="510.69,417.05 517.37,415.25 512.28,413.09 505.6,414.94" fill="#59bd8c"/><polygon points="515.78,418.88 522.45,417.18 517.37,415.25 510.69,417.05" fill="#54bd8e"/><polygon points="520.87,419.97 527.54,418.62 522.45,417.18 515.78,418.88" fill="#4fbc91"/><polygon points="525.95,418.5 532.63,418.54 527.54,418.62 520.87,419.97" fill="#4abc94"/><polygon points="531.04,410.04 537.72,414.46 532.63,418.54 525.95,418.5" fill="#45bb96"/><polygon points="536.13,390.42 542.8,404.08 537.72,414.46 531.04,410.04" fill="#40ba99"/><polygon points="541.22,365.89 547.89,391.01 542.8,404.08 536.13,390.42" fill="#3bba9c"/><polygon points="546.31,355.45 552.98,386.06 547.89,391.01 541.22,365.89" fill="#37b99e"/><polygon points="551.39,370.68 558.07,395.67 552.98,386.06 546.31,355.45" fill="#33b8a1"/><polygon points="556.48,399.47 563.16,412.49 558.07,395.67 551.39,370.68" fill="#2fb7a3"/><polygon points="561.57,422.85 568.25,425.76 563.16,412.49 556.48,399.47" fill="#2bb6a6"/><polygon points="566.66,436.1 573.33,434.51 568.25,425.76 561.57,422.85" fill="#27b5a8"/><polygon points="571.75,443.65 578.42,441.5 573.33,434.51 566.66,436.1" fill="#23b4ab"/><polygon points="576.83,448.37 583.51,446.49 578.42,441.5 571.75,443.65" fill="#1fb4ad"/><polygon points="581.92,451.73 588.6,449.91 583.51,446.49 576.83,448.37" fill="#1cb3b0"/><polygon points="587.01,454.6 593.68,452.75 588.6,449.91 581.92,451.73" fill="#19b2b2"/><polygon points="592.1,457.29 598.77,455.42 593.68,452.75 587.01,454.6" fill="#15b1b4"/><polygon points="597.19,459.88 603.86,457.99 598.77,455.42 592.1,457.29" fill="#13b0b6"/><polygon points="602.27,462.4 608.95,460.51 603.86,457.99 597.19,459.88" fill="#10afb8"/><polygon points="607.36,464.9 614.04,463.01 608.95,460.51 602.27,462.4" fill="#0daeba"/><polygon points="612.45,467.39 619.12,465.5 614.04,463.01 607.36,464.9" fill="#0badbc"/><polygon points="488.75,412.19 495.43,410.3 490.34,407.87 483.66,409.76" fill="#4cbc92"/><polygon points="493.84,414.56 500.51,412.67 495.43,410.3 488.75,412.19" fill="#4abc94"/><polygon points="498.93,416.82 505.6,414.94 500.51,412.67 493.84,414.56" fill="#47bb95"/><polygon points="504.01,418.91 510.69,417.05 505.6,414.94 498.93,416.82" fill="#45bb96"/><polygon points="509.1,420.7 515.78,418.88 510.69,417.05 504.01,418.91" fill="#42bb98"/><polygon points="514.19,421.63 520.87,419.97 515.78,418.88 509.1,420.7" fill="#40ba99"/><polygon points="519.28,419.51 525.95,418.5 520.87,419.97 514.19,421.63" fill="#3eba9a"/><polygon points="524.37,408.93 531.04,410.04 525.95,418.5 519.28,419.51" fill="#3bba9c"/><polygon points="529.45,384.89 536.13,390.42 531.04,410.04 524.37,408.93" fill="#39b99d"/><polygon points="534.54,354.87 541.22,365.89 536.13,390.42 529.45,384.89" fill="#37b99e"/><polygon points="539.63,341.82 546.31,355.45 541.22,365.89 534.54,354.87" fill="#35b8a0"/><polygon points="544.72,359.8 551.39,370.68 546.31,355.45 539.63,341.82" fill="#33b8a1"/><polygon points="549.81,394.62 556.48,399.47 551.39,370.68 544.72,359.8" fill="#31b8a2"/><polygon points="554.89,423.3 561.57,422.85 556.48,399.47 549.81,394.62" fill="#2fb7a3"/><polygon points="559.98,438.76 566.66,436.1 561.57,422.85 554.89,423.3" fill="#2db7a5"/><polygon points="565.07,446.12 571.75,443.65 566.66,436.1 559.98,438.76" fill="#2bb6a6"/><polygon points="570.16,450.37 576.83,448.37 571.75,443.65 565.07,446.12" fill="#29b6a7"/><polygon points="575.25,453.61 581.92,451.73 576.83,448.37 570.16,450.37" fill="#27b5a8"/><polygon points="580.33,456.48 587.01,454.6 581.92,451.73 575.25,453.61" fill="#25b5aa"/><polygon points="585.42,459.18 592.1,457.29 587.01,454.6 580.33,456.48" fill="#23b4ab"/><polygon points="590.51,461.77 597.19,459.88 592.1,457.29 585.42,459.18" fill="#21b4ac"/><polygon points="595.6,464.3 602.27,462.4 597.19,459.88 590.51,461.77" fill="#1fb4ad"/><polygon points="600.69,466.8 607.36,464.9 602.27,462.4 595.6,464.3" fill="#1eb3ae"/><polygon points="605.77,469.29 612.45,467.39 607.36,464.9 600.69,466.8" fill="#1cb3b0"/><polygon points="482.08,414.09 488.75,412.19 483.66,409.76 476.99,411.66" fill="#33b8a1"/><polygon points="487.16,416.46 493.84,414.56 488.75,412.19 482.08,414.09" fill="#33b8a1"/><polygon points="492.25,418.73 498.93,416.82 493.84,414.56 487.16,416.46" fill="#33b8a1"/><polygon points="497.34,420.84 504.01,418.91 498.93,416.82 492.25,418.73" fill="#33b8a1"/><polygon points="502.43,422.67 509.1,420.7 504.01,418.91 497.34,420.84" fill="#33b8a1"/><polygon points="507.52,423.74 514.19,421.63 509.1,420.7 502.43,422.67" fill="#33b8a1"/><polygon points="512.6,422.19 519.28,419.51 514.19,421.63 507.52,423.74" fill="#33b8a1"/><polygon points="517.69,413.57 524.37,408.93 519.28,419.51 512.6,422.19" fill="#33b8a1"/><polygon points="522.78,393.94 529.45,384.89 524.37,408.93 517.69,413.57" fill="#33b8a1"/><polygon points="527.87,369.54 534.54,354.87 529.45,384.89 522.78,393.94" fill="#33b8a1"/><polygon points="532.96,359.23 539.63,341.82 534.54,354.87 527.87,369.54" fill="#33b8a1"/><polygon points="538.04,374.7 544.72,359.8 539.63,341.82 532.96,359.23" fill="#33b8a1"/><polygon points="543.13,404.42 549.81,394.62 544.72,359.8 538.04,374.7" fill="#33b8a1"/><polygon points="548.22,428.96 554.89,423.3 549.81,394.62 543.13,404.42" fill="#33b8a1"/><polygon points="553.31,442.05 559.98,438.76 554.89,423.3 548.22,428.96" fill="#33b8a1"/><polygon points="558.4,448.38 565.07,446.12 559.98,438.76 553.31,442.05" fill="#33b8a1"/><polygon points="563.48,452.31 570.16,450.37 565.07,446.12 558.4,448.38" fill="#33b8a1"/><polygon points="568.57,455.51 575.25,453.61 570.16,450.37 563.48,452.31" fill="#33b8a1"/><polygon points="573.66,458.39 580.33,456.48 575.25,453.61 568.57,455.51" fill="#33b8a1"/><polygon points="578.75,461.08 585.42,459.18 580.33,456.48 573.66,458.39" fill="#33b8a1"/><polygon points="583.84,463.67 590.51,461.77 585.42,459.18 578.75,461.08" fill="#33b8a1"/><polygon points="588.92,466.2 595.6,464.3 590.51,461.77 583.84,463.67" fill="#33b8a1"/><polygon points="594.01,468.7 600.69,466.8 595.6,464.3 588.92,466.2" fill="#33b8a1"/><polygon points="599.1,471.18 605.77,469.29 600.69,466.8 594.01,468.7" fill="#33b8a1"/><polygon points="475.4,415.99 482.08,414.09 476.99,411.66 470.31,413.56" fill="#1eb3ae"/><polygon points="480.49,418.38 487.16,416.46 482.08,414.09 475.4,415.99" fill="#1fb4ad"/><polygon points="485.58,420.68 492.25,418.73 487.16,416.46 480.49,418.38" fill="#21b4ac"/><polygon points="490.66,422.83 497.34,420.84 492.25,418.73 485.58,420.68" fill="#23b4ab"/><polygon points="495.75,424.75 502.43,422.67 497.34,420.84 490.66,422.83" fill="#25b5aa"/><polygon points="500.84,426.09 507.52,423.74 502.43,422.67 495.75,424.75" fill="#27b5a8"/><polygon points="505.93,425.56 512.6,422.19 507.52,423.74 500.84,426.09" fill="#29b6a7"/><polygon points="511.02,420.71 517.69,413.57 512.6,422.19 505.93,425.56" fill="#2bb6a6"/><polygon points="516.1,410.22 522.78,393.94 517.69,413.57 511.02,420.71" fill="#2db7a5"/><polygon points="521.19,397.88 527.87,369.54 522.78,393.94 516.1,410.22" fill="#2fb7a3"/><polygon points="526.28,393.52 532.96,359.23 527.87,369.54 521.19,397.88" fill="#31b8a2"/><polygon points="531.37,403.85 538.04,374.7 532.96,359.23 526.28,393.52" fill="#33b8a1"/><polygon points="536.46,423 543.13,404.42 538.04,374.7 531.37,403.85" fill="#35b8a0"/><polygon points="541.54,438.25 548.22,428.96 543.13,404.42 536.46,423" fill="#37b99e"/><polygon points="546.63,445.54 553.31,442.05 548.22,428.96 541.54,438.25" fill="#39b99d"/><polygon points="551.72,449.92 558.4,448.38 553.31,442.05 546.63,445.54" fill="#3bba9c"/><polygon points="556.81,453.8 563.48,452.31 558.4,448.38 551.72,449.92" fill="#3eba9a"/><polygon points="561.9,457.29 568.57,455.51 563.48,452.31 556.81,453.8" fill="#40ba99"/><polygon points="566.98,460.29 573.66,458.39 568.57,455.51 561.9,457.29" fill="#42bb98"/><polygon points="572.07,463 578.75,461.08 573.66,458.39 566.98,460.29" fill="#45bb96"/><polygon points="577.16,465.57 583.84,463.67 578.75,461.08 572.07,463" fill="#47bb95"/><polygon points="582.25,468.1 588.92,466.2 583.84,463.67 577.16,465.57" fill="#4abc94"/><polygon points="587.34,470.59 594.01,468.7 588.92,466.2 582.25,468.1" fill="#4cbc92"/><polygon points="592.42,473.08 599.1,471.18 594.01,468.7 587.34,470.59" fill="#4fbc91"/><polygon points="468.73,417.9 475.4,415.99 470.31,413.56 463.64,415.46" fill="#0daeba"/><polygon points="473.81,420.31 480.49,418.38 475.4,415.99 468.73,417.9" fill="#10afb8"/><polygon points="478.9,422.64 485.58,420.68 480.49,418.38 473.81,420.31" fill="#13b0b6"/><polygon points="483.99,424.86 490.66,422.83 485.58,420.68 478.9,422.64" fill="#15b1b4"/><polygon points="489.08,426.89 495.75,424.75 490.66,422.83 483.99,424.86" fill="#19b2b2"/><polygon points="494.17,428.43 500.84,426.09 495.75,424.75 489.08,426.89" fill="#1cb3b0"/><polygon points="499.25,428.47 505.93,425.56 500.84,426.09 494.17,428.43" fill="#1fb4ad"/><polygon points="504.34,426.17 511.02,420.71 505.93,425.56 499.25,428.47" fill="#23b4ab"/><polygon points="509.43,423.01 516.1,410.22 511.02,420.71 504.34,426.17" fill="#27b5a8"/><polygon points="514.52,420.89 521.19,397.88 516.1,410.22 509.43,423.01" fill="#2bb6a6"/><polygon points="519.61,421.72 526.28,393.52 521.19,397.88 514.52,420.89" fill="#2fb7a3"/><polygon points="524.69,427.82 531.37,403.85 526.28,393.52 519.61,421.72" fill="#33b8a1"/><polygon points="529.78,437.66 536.46,423 531.37,403.85 524.69,427.82" fill="#37b99e"/><polygon points="534.87,444.5 541.54,438.25 536.46,423 529.78,437.66" fill="#3bba9c"/><polygon points="539.96,446.43 546.63,445.54 541.54,438.25 534.87,444.5" fill="#40ba99"/><polygon points="545.05,448.98 551.72,449.92 546.63,445.54 539.96,446.43" fill="#45bb96"/><polygon points="550.13,453.71 556.81,453.8 551.72,449.92 545.05,448.98" fill="#4abc94"/><polygon points="555.22,458.53 561.9,457.29 556.81,453.8 550.13,453.71" fill="#4fbc91"/><polygon points="560.31,462.11 566.98,460.29 561.9,457.29 555.22,458.53" fill="#54bd8e"/><polygon points="565.4,464.91 572.07,463 566.98,460.29 560.31,462.11" fill="#59bd8c"/><polygon points="570.49,467.48 577.16,465.57 572.07,463 565.4,464.91" fill="#5ebe89"/><polygon points="575.57,470 582.25,468.1 577.16,465.57 570.49,467.48" fill="#63be86"/><polygon points="580.66,472.49 587.34,470.59 582.25,468.1 575.57,470" fill="#69be84"/><polygon points="585.75,474.98 592.42,473.08 587.34,470.59 580.66,472.49" fill="#6ebf82"/><polygon points="462.05,419.82 468.73,417.9 463.64,415.46 456.96,417.36" fill="#06a7c5"/><polygon points="467.14,422.24 473.81,420.31 468.73,417.9 462.05,419.82" fill="#07a9c2"/><polygon points="472.23,424.61 478.9,422.64 473.81,420.31 467.14,422.24" fill="#09abbf"/><polygon points="477.32,426.9 483.99,424.86 478.9,422.64 472.23,424.61" fill="#0badbc"/><polygon points="482.4,429.05 489.08,426.89 483.99,424.86 477.32,426.9" fill="#0faeb9"/><polygon points="487.49,430.81 494.17,428.43 489.08,426.89 482.4,429.05" fill="#13b0b6"/><polygon points="492.58,431.42 499.25,428.47 494.17,428.43 487.49,430.81" fill="#17b1b3"/><polygon points="497.67,430.77 504.34,426.17 499.25,428.47 492.58,431.42" fill="#1cb3b0"/><polygon points="502.76,431.19 509.43,423.01 504.34,426.17 497.67,430.77" fill="#21b4ac"/><polygon points="507.84,433.6 514.52,420.89 509.43,423.01 502.76,431.19" fill="#27b5a8"/><polygon points="512.93,436.6 519.61,421.72 514.52,420.89 507.84,433.6" fill="#2db7a5"/><polygon points="518.02,440.32 524.69,427.82 519.61,421.72 512.93,436.6" fill="#33b8a1"/><polygon points="523.11,444.37 529.78,437.66 524.69,427.82 518.02,440.32" fill="#39b99d"/><polygon points="528.2,445.85 534.87,444.5 529.78,437.66 523.11,444.37" fill="#40ba99"/><polygon points="533.28,444.43 539.96,446.43 534.87,444.5 528.2,445.85" fill="#47bb95"/><polygon points="538.37,445.75 545.05,448.98 539.96,446.43 533.28,444.43" fill="#4fbc91"/><polygon points="543.46,452.24 550.13,453.71 545.05,448.98 538.37,445.75" fill="#56bd8d"/><polygon points="548.55,459.3 555.22,458.53 550.13,453.71 543.46,452.24" fill="#5ebe89"/><polygon points="553.63,463.84 560.31,462.11 555.22,458.53 548.55,459.3" fill="#66be85"/><polygon points="558.72,466.82 565.4,464.91 560.31,462.11 553.63,463.84" fill="#6ebf82"/><polygon points="563.81,469.39 570.49,467.48 565.4,464.91 558.72,466.82" fill="#75bf7e"/><polygon points="568.9,471.9 575.57,470 570.49,467.48 563.81,469.39" fill="#7dbf7b"/><polygon points="573.99,474.39 580.66,472.49 575.57,470 568.9,471.9" fill="#84bf78"/><polygon points="579.08,476.87 585.75,474.98 580.66,472.49 573.99,474.39" fill="#8bbf75"/><polygon points="455.38,421.73 462.05,419.82 456.96,417.36 450.29,419.26" fill="#06a0cd"/><polygon points="460.46,424.17 467.14,422.24 462.05,419.82 455.38,421.73" fill="#06a3cb"/><polygon points="465.55,426.57 472.23,424.61 467.14,422.24 460.46,424.17" fill="#06a6c7"/><polygon points="470.64,428.92 477.32,426.9 472.23,424.61 465.55,426.57" fill="#06a8c4"/><polygon points="475.73,431.19 482.4,429.05 477.32,426.9 470.64,428.92" fill="#08aac0"/><polygon points="480.82,433.24 487.49,430.81 482.4,429.05 475.73,431.19" fill="#0badbc"/><polygon points="485.9,434.75 492.58,431.42 487.49,430.81 480.82,433.24" fill="#10afb8"/><polygon points="490.99,435.76 497.67,430.77 492.58,431.42 485.9,434.75" fill="#15b1b4"/><polygon points="496.08,437.5 502.76,431.19 497.67,430.77 490.99,435.76" fill="#1cb3b0"/><polygon points="501.17,440.36 507.84,433.6 502.76,431.19 496.08,437.5" fill="#23b4ab"/><polygon points="506.26,443.29 512.93,436.6 507.84,433.6 501.17,440.36" fill="#2bb6a6"/><polygon points="511.34,446.06 518.02,440.32 512.93,436.6 506.26,443.29" fill="#33b8a1"/><polygon points="516.43,448.18 523.11,444.37 518.02,440.32 511.34,446.06" fill="#3bba9c"/><polygon points="521.52,447.81 528.2,445.85 523.11,444.37 516.43,448.18" fill="#45bb96"/><polygon points="526.61,445.17 533.28,444.43 528.2,445.85 521.52,447.81" fill="#4fbc91"/><polygon points="531.7,445.97 538.37,445.75 533.28,444.43 526.61,445.17" fill="#59bd8c"/><polygon points="536.78,453.02 543.46,452.24 538.37,445.75 531.7,445.97" fill="#63be86"/><polygon points="541.87,460.86 548.55,459.3 543.46,452.24 536.78,453.02" fill="#6ebf82"/><polygon points="546.96,465.71 553.63,463.84 548.55,459.3 541.87,460.86" fill="#78bf7d"/><polygon points="552.05,468.74 558.72,466.82 553.63,463.84 546.96,465.71" fill="#82bf79"/><polygon points="557.14,471.3 563.81,469.39 558.72,466.82 552.05,468.74" fill="#8bbf75"/><polygon points="562.22,473.8 568.9,471.9 563.81,469.39 557.14,471.3" fill="#94bf72"/><polygon points="567.31,476.29 573.99,474.39 568.9,471.9 562.22,473.8" fill="#9dbf6e"/><polygon points="572.4,478.77 579.08,476.87 573.99,474.39 567.31,476.29" fill="#a5be6b"/><polygon points="448.7,423.63 455.38,421.73 450.29,419.26 443.61,421.16" fill="#0b96d1"/><polygon points="453.79,426.09 460.46,424.17 455.38,421.73 448.7,423.63" fill="#089bd0"/><polygon points="458.88,428.52 465.55,426.57 460.46,424.17 453.79,426.09" fill="#069fce"/><polygon points="463.97,430.92 470.64,428.92 465.55,426.57 458.88,428.52" fill="#06a3cb"/><polygon points="469.05,433.27 475.73,431.19 470.64,428.92 463.97,430.92" fill="#06a6c7"/><polygon points="474.14,435.54 480.82,433.24 475.73,431.19 469.05,433.27" fill="#07a9c2"/><polygon points="479.23,437.66 485.9,434.75 480.82,433.24 474.14,435.54" fill="#0aacbd"/><polygon points="484.32,439.66 490.99,435.76 485.9,434.75 479.23,437.66" fill="#10afb8"/><polygon points="489.41,441.85 496.08,437.5 490.99,435.76 484.32,439.66" fill="#17b1b3"/><polygon points="494.49,444.34 501.17,440.36 496.08,437.5 489.41,441.85" fill="#1fb4ad"/><polygon points="499.58,446.89 506.26,443.29 501.17,440.36 494.49,444.34" fill="#29b6a7"/><polygon points="504.67,449.4 511.34,446.06 506.26,443.29 499.58,446.89" fill="#33b8a1"/><polygon points="509.76,451.47 516.43,448.18 511.34,446.06 504.67,449.4" fill="#3eba9a"/><polygon points="514.85,451.96 521.52,447.81 516.43,448.18 509.76,451.47" fill="#4abc94"/><polygon points="519.93,451.07 526.61,445.17 521.52,447.81 514.85,451.96" fill="#56bd8d"/><polygon points="525.02,452.44 531.7,445.97 526.61,445.17 519.93,451.07" fill="#63be86"/><polygon points="530.11,457.88 536.78,453.02 531.7,445.97 525.02,452.44" fill="#70bf81"/><polygon points="535.2,463.83 541.87,460.86 536.78,453.02 530.11,457.88" fill="#7dbf7b"/><polygon points="540.28,467.85 546.96,465.71 541.87,460.86 535.2,463.83" fill="#89bf76"/><polygon points="545.37,470.68 552.05,468.74 546.96,465.71 540.28,467.85" fill="#94bf72"/><polygon points="550.46,473.21 557.14,471.3 552.05,468.74 545.37,470.68" fill="#9fbe6d"/><polygon points="555.55,475.7 562.22,473.8 557.14,471.3 550.46,473.21" fill="#a9be69"/><polygon points="560.64,478.19 567.31,476.29 562.22,473.8 555.55,475.7" fill="#b3bd65"/><polygon points="565.73,480.67 572.4,478.77 567.31,476.29 560.64,478.19" fill="#bdbd61"/><polygon points="442.03,425.54 448.7,423.63 443.61,421.16 436.94,423.06" fill="#1389d3"/><polygon points="447.11,428 453.79,426.09 448.7,423.63 442.03,425.54" fill="#0f90d2"/><polygon points="452.2,430.46 458.88,428.52 453.79,426.09 447.11,428" fill="#0a97d1"/><polygon points="457.29,432.89 463.97,430.92 458.88,428.52 452.2,430.46" fill="#079ccf"/><polygon points="462.38,435.3 469.05,433.27 463.97,430.92 457.29,432.89" fill="#06a1cc"/><polygon points="467.47,437.67 474.14,435.54 469.05,433.27 462.38,435.3" fill="#06a6c7"/><polygon points="472.55,440.01 479.23,437.66 474.14,435.54 467.47,437.67" fill="#07a9c2"/><polygon points="477.64,442.32 484.32,439.66 479.23,437.66 472.55,440.01" fill="#0badbc"/><polygon points="482.73,444.66 489.41,441.85 484.32,439.66 477.64,442.32" fill="#13b0b6"/><polygon points="487.82,447.07 494.49,444.34 489.41,441.85 482.73,444.66" fill="#1cb3b0"/><polygon points="492.91,449.53 499.58,446.89 494.49,444.34 487.82,447.07" fill="#27b5a8"/><polygon points="497.99,452.01 504.67,449.4 499.58,446.89 492.91,449.53" fill="#33b8a1"/><polygon points="503.08,454.37 509.76,451.47 504.67,449.4 497.99,452.01" fill="#40ba99"/><polygon points="508.17,456.2 514.85,451.96 509.76,451.47 503.08,454.37" fill="#4fbc91"/><polygon points="513.26,457.55 519.93,451.07 514.85,451.96 508.17,456.2" fill="#5ebe89"/><polygon points="518.35,459.69 525.02,452.44 519.93,451.07 513.26,457.55" fill="#6ebf82"/><polygon points="523.43,463.24 530.11,457.88 525.02,452.44 518.35,459.69" fill="#7dbf7b"/><polygon points="528.52,466.96 535.2,463.83 530.11,457.88 523.43,463.24" fill="#8bbf75"/><polygon points="533.61,470 540.28,467.85 535.2,463.83 528.52,466.96" fill="#98bf70"/><polygon points="538.7,472.61 545.37,470.68 540.28,467.85 533.61,470" fill="#a5be6b"/><polygon points="543.79,475.12 550.46,473.21 545.37,470.68 538.7,472.61" fill="#b1bd66"/><polygon points="548.87,477.6 555.55,475.7 550.46,473.21 543.79,475.12" fill="#bdbd61"/><polygon points="553.96,480.08 560.64,478.19 555.55,475.7 548.87,477.6" fill="#c8bc5d"/><polygon points="559.05,482.56 565.73,480.67 560.64,478.19 553.96,480.08" fill="#d3bb58"/><polygon points="435.35,427.44 442.03,425.54 436.94,423.06 430.26,424.96" fill="#137fd7"/><polygon points="440.44,429.91 447.11,428 442.03,425.54 435.35,427.44" fill="#1485d4"/><polygon points="445.53,432.38 452.2,430.46 447.11,428 440.44,429.91" fill="#118dd2"/><polygon points="450.62,434.83 457.29,432.89 452.2,430.46 445.53,432.38" fill="#0c94d2"/><polygon points="455.7,437.27 462.38,435.3 457.29,432.89 450.62,434.83" fill="#079cd0"/><polygon points="460.79,439.7 467.47,437.67 462.38,435.3 455.7,437.27" fill="#06a1cc"/><polygon points="465.88,442.11 472.55,440.01 467.47,437.67 460.79,439.7" fill="#06a6c7"/><polygon points="470.97,444.51 477.64,442.32 472.55,440.01 465.88,442.11" fill="#08aac0"/><polygon points="476.06,446.92 482.73,444.66 477.64,442.32 470.97,444.51" fill="#0faeb9"/><polygon points="481.14,449.36 487.82,447.07 482.73,444.66 476.06,446.92" fill="#19b2b2"/><polygon points="486.23,451.82 492.91,449.53 487.82,447.07 481.14,449.36" fill="#25b5aa"/><polygon points="491.32,454.31 497.99,452.01 492.91,449.53 486.23,451.82" fill="#33b8a1"/><polygon points="496.41,456.8 503.08,454.37 497.99,452.01 491.32,454.31" fill="#42bb98"/><polygon points="501.5,459.19 508.17,456.2 503.08,454.37 496.41,456.8" fill="#54bd8e"/><polygon points="506.58,461.51 513.26,457.55 508.17,456.2 501.5,459.19" fill="#66be85"/><polygon points="511.67,463.96 518.35,459.69 513.26,457.55 506.58,461.51" fill="#78bf7d"/><polygon points="516.76,466.68 523.43,463.24 518.35,459.69 511.67,463.96" fill="#89bf76"/><polygon points="521.85,469.42 528.52,466.96 523.43,463.24 516.76,466.68" fill="#98bf70"/><polygon points="526.93,472.02 533.61,470 528.52,466.96 521.85,469.42" fill="#a7be6a"/><polygon points="532.02,474.53 538.7,472.61 533.61,470 526.93,472.02" fill="#b5bd64"/><polygon points="537.11,477.02 543.79,475.12 538.7,472.61 532.02,474.53" fill="#c2bc5f"/><polygon points="542.2,479.5 548.87,477.6 543.79,475.12 537.11,477.02" fill="#cfbb5a"/><polygon points="547.29,481.98 553.96,480.08 548.87,477.6 542.2,479.5" fill="#dcba54"/><polygon points="552.38,484.46 559.05,482.56 553.96,480.08 547.29,481.98" fill="#e8b94f"/><polygon points="428.68,429.34 435.35,427.44 430.26,424.96 423.59,426.86" fill="#0e76dc"/><polygon points="433.76,431.81 440.44,429.91 435.35,427.44 428.68,429.34" fill="#127dd8"/><polygon points="438.85,434.28 445.53,432.38 440.44,429.91 433.76,431.81" fill="#1484d4"/><polygon points="443.94,436.75 450.62,434.83 445.53,432.38 438.85,434.28" fill="#128cd2"/><polygon points="449.03,439.21 455.7,437.27 450.62,434.83 443.94,436.75" fill="#0c94d2"/><polygon points="454.12,441.67 460.79,439.7 455.7,437.27 449.03,439.21" fill="#079ccf"/><polygon points="459.2,444.11 465.88,442.11 460.79,439.7 454.12,441.67" fill="#06a3cb"/><polygon points="464.29,446.56 470.97,444.51 465.88,442.11 459.2,444.11" fill="#06a8c4"/><polygon points="469.38,449 476.06,446.92 470.97,444.51 464.29,446.56" fill="#0badbc"/><polygon points="474.47,451.46 481.14,449.36 476.06,446.92 469.38,449" fill="#15b1b4"/><polygon points="479.56,453.93 486.23,451.82 481.14,449.36 474.47,451.46" fill="#23b4ab"/><polygon points="484.64,456.42 491.32,454.31 486.23,451.82 479.56,453.93" fill="#33b8a1"/><polygon points="489.73,458.92 496.41,456.8 491.32,454.31 484.64,456.42" fill="#45bb96"/><polygon points="494.82,461.41 501.5,459.19 496.41,456.8 489.73,458.92" fill="#59bd8c"/><polygon points="499.91,463.9 506.58,461.51 501.5,459.19 494.82,461.41" fill="#6ebf82"/><polygon points="505,466.4 511.67,463.96 506.58,461.51 499.91,463.9" fill="#82bf79"/><polygon points="510.08,468.93 516.76,466.68 511.67,463.96 505,466.4" fill="#94bf72"/><polygon points="515.17,471.45 521.85,469.42 516.76,466.68 510.08,468.93" fill="#a5be6b"/><polygon points="520.26,473.95 526.93,472.02 521.85,469.42 515.17,471.45" fill="#b5bd64"/><polygon points="525.35,476.43 532.02,474.53 526.93,472.02 520.26,473.95" fill="#c4bc5e"/><polygon points="530.44,478.92 537.11,477.02 532.02,474.53 525.35,476.43" fill="#d3bb58"/><polygon points="535.52,481.4 542.2,479.5 537.11,477.02 530.44,478.92" fill="#e1b952"/><polygon points="540.61,483.88 547.29,481.98 542.2,479.5 535.52,481.4" fill="#efb94b"/><polygon points="545.7,486.36 552.38,484.46 547.29,481.98 540.61,483.88" fill="#fbbc41"/><polygon points="422,431.23 428.68,429.34 423.59,426.86 416.91,428.76" fill="#046ce0"/><polygon points="427.09,433.71 433.76,431.81 428.68,429.34 422,431.23" fill="#0c74dd"/><polygon points="432.18,436.19 438.85,434.28 433.76,431.81 427.09,433.71" fill="#127cd8"/><polygon points="437.26,438.66 443.94,436.75 438.85,434.28 432.18,436.19" fill="#1484d4"/><polygon points="442.35,441.13 449.03,439.21 443.94,436.75 437.26,438.66" fill="#118dd2"/><polygon points="447.44,443.6 454.12,441.67 449.03,439.21 442.35,441.13" fill="#0a97d1"/><polygon points="452.53,446.07 459.2,444.11 454.12,441.67 447.44,443.6" fill="#069fce"/><polygon points="457.62,448.53 464.29,446.56 459.2,444.11 452.53,446.07" fill="#06a6c7"/><polygon points="462.7,450.99 469.38,449 464.29,446.56 457.62,448.53" fill="#09abbf"/><polygon points="467.79,453.46 474.47,451.46 469.38,449 462.7,450.99" fill="#13b0b6"/><polygon points="472.88,455.94 479.56,453.93 474.47,451.46 467.79,453.46" fill="#21b4ac"/><polygon points="477.97,458.42 484.64,456.42 479.56,453.93 472.88,455.94" fill="#33b8a1"/><polygon points="483.06,460.91 489.73,458.92 484.64,456.42 477.97,458.42" fill="#47bb95"/><polygon points="488.14,463.4 494.82,461.41 489.73,458.92 483.06,460.91" fill="#5ebe89"/><polygon points="493.23,465.9 499.91,463.9 494.82,461.41 488.14,463.4" fill="#75bf7e"/><polygon points="498.32,468.39 505,466.4 499.91,463.9 493.23,465.9" fill="#8bbf75"/><polygon points="503.41,470.88 510.08,468.93 505,466.4 498.32,468.39" fill="#9fbe6d"/><polygon points="508.5,473.37 515.17,471.45 510.08,468.93 503.41,470.88" fill="#b1bd66"/><polygon points="513.58,475.85 520.26,473.95 515.17,471.45 508.5,473.37" fill="#c2bc5f"/><polygon points="518.67,478.33 525.35,476.43 520.26,473.95 513.58,475.85" fill="#d3bb58"/><polygon points="523.76,480.81 530.44,478.92 525.35,476.43 518.67,478.33" fill="#e3b951"/><polygon points="528.85,483.29 535.52,481.4 530.44,478.92 523.76,480.81" fill="#f2b949"/><polygon points="533.94,485.77 540.61,483.88 535.52,481.4 528.85,483.29" fill="#febf3c"/><polygon points="539.02,488.25 545.7,486.36 540.61,483.88 533.94,485.77" fill="#fec932"/><polygon points="415.33,433.13 422,431.23 416.91,428.76 410.24,430.65" fill="#0a5fdf"/><polygon points="420.41,435.61 427.09,433.71 422,431.23 415.33,433.13" fill="#036be0"/><polygon points="425.5,438.09 432.18,436.19 427.09,433.71 420.41,435.61" fill="#0c74dd"/><polygon points="430.59,440.56 437.26,438.66 432.18,436.19 425.5,438.09" fill="#127dd8"/><polygon points="435.68,443.04 442.35,441.13 437.26,438.66 430.59,440.56" fill="#1485d4"/><polygon points="440.77,445.51 447.44,443.6 442.35,441.13 435.68,443.04" fill="#0f90d2"/><polygon points="445.85,447.99 452.53,446.07 447.44,443.6 440.77,445.51" fill="#089bd0"/><polygon points="450.94,450.46 457.62,448.53 452.53,446.07 445.85,447.99" fill="#06a3cb"/><polygon points="456.03,452.93 462.7,450.99 457.62,448.53 450.94,450.46" fill="#07a9c2"/><polygon points="461.12,455.41 467.79,453.46 462.7,450.99 456.03,452.93" fill="#10afb8"/><polygon points="466.21,457.89 472.88,455.94 467.79,453.46 461.12,455.41" fill="#1fb4ad"/><polygon points="471.29,460.37 477.97,458.42 472.88,455.94 466.21,457.89" fill="#33b8a1"/><polygon points="476.38,462.85 483.06,460.91 477.97,458.42 471.29,460.37" fill="#4abc94"/><polygon points="481.47,465.33 488.14,463.4 483.06,460.91 476.38,462.85" fill="#63be86"/><polygon points="486.56,467.82 493.23,465.9 488.14,463.4 481.47,465.33" fill="#7dbf7b"/><polygon points="491.65,470.3 498.32,468.39 493.23,465.9 486.56,467.82" fill="#94bf72"/><polygon points="496.73,472.79 503.41,470.88 498.32,468.39 491.65,470.3" fill="#a9be69"/><polygon points="501.82,475.27 508.5,473.37 503.41,470.88 496.73,472.79" fill="#bdbd61"/><polygon points="506.91,477.75 513.58,475.85 508.5,473.37 501.82,475.27" fill="#cfbb5a"/><polygon points="512,480.23 518.67,478.33 513.58,475.85 506.91,477.75" fill="#e1b952"/><polygon points="517.09,482.71 523.76,480.81 518.67,478.33 512,480.23" fill="#f2b949"/><polygon points="522.17,485.19 528.85,483.29 523.76,480.81 517.09,482.71" fill="#fec03b"/><polygon points="527.26,487.67 533.94,485.77 528.85,483.29 522.17,485.19" fill="#fdcb30"/><polygon points="532.35,490.15 539.02,488.25 533.94,485.77 527.26,487.67" fill="#f8d727"/><polygon points="408.65,435.03 415.33,433.13 410.24,430.65 403.56,432.55" fill="#2b4bc7"/><polygon points="413.74,437.51 420.41,435.61 415.33,433.13 408.65,435.03" fill="#0a5fdf"/><polygon points="418.83,439.98 425.5,438.09 420.41,435.61 413.74,437.51" fill="#046ce0"/><polygon points="423.91,442.46 430.59,440.56 425.5,438.09 418.83,439.98" fill="#0e76dc"/><polygon points="429,444.94 435.68,443.04 430.59,440.56 423.91,442.46" fill="#137fd7"/><polygon points="434.09,447.42 440.77,445.51 435.68,443.04 429,444.94" fill="#1389d3"/><polygon points="439.18,449.89 445.85,447.99 440.77,445.51 434.09,447.42" fill="#0b96d1"/><polygon points="444.27,452.37 450.94,450.46 445.85,447.99 439.18,449.89" fill="#06a0cd"/><polygon points="449.35,454.85 456.03,452.93 450.94,450.46 444.27,452.37" fill="#06a7c5"/><polygon points="454.44,457.33 461.12,455.41 456.03,452.93 449.35,454.85" fill="#0daeba"/><polygon points="459.53,459.8 466.21,457.89 461.12,455.41 454.44,457.33" fill="#1eb3ae"/><polygon points="464.62,462.28 471.29,460.37 466.21,457.89 459.53,459.8" fill="#33b8a1"/><polygon points="469.71,464.76 476.38,462.85 471.29,460.37 464.62,462.28" fill="#4cbc92"/><polygon points="474.79,467.25 481.47,465.33 476.38,462.85 469.71,464.76" fill="#69be84"/><polygon points="479.88,469.73 486.56,467.82 481.47,465.33 474.79,467.25" fill="#84bf78"/><polygon points="484.97,472.21 491.65,470.3 486.56,467.82 479.88,469.73" fill="#9dbf6e"/><polygon points="490.06,474.69 496.73,472.79 491.65,470.3 484.97,472.21" fill="#b3bd65"/><polygon points="495.15,477.17 501.82,475.27 496.73,472.79 490.06,474.69" fill="#c8bc5d"/><polygon points="500.23,479.65 506.91,477.75 501.82,475.27 495.15,477.17" fill="#dcba54"/><polygon points="505.32,482.13 512,480.23 506.91,477.75 500.23,479.65" fill="#efb94b"/><polygon points="510.41,484.61 517.09,482.71 512,480.23 505.32,482.13" fill="#febf3c"/><polygon points="515.5,487.09 522.17,485.19 517.09,482.71 510.41,484.61" fill="#fdcb30"/><polygon points="520.59,489.56 527.26,487.67 522.17,485.19 515.5,487.09" fill="#f7d826"/><polygon points="525.67,492.04 532.35,490.15 527.26,487.67 520.59,489.56" fill="#f5e71b"/><polygon points="401.98,436.92 408.65,435.03 403.56,432.55 396.89,434.44" fill="#353aa8"/><polygon points="407.06,439.4 413.74,437.51 408.65,435.03 401.98,436.92" fill="#294cca"/><polygon points="412.15,441.88 418.83,439.98 413.74,437.51 407.06,439.4" fill="#0462e0"/><polygon points="417.24,444.36 423.91,442.46 418.83,439.98 412.15,441.88" fill="#066fdf"/><polygon points="422.33,446.84 429,444.94 423.91,442.46 417.24,444.36" fill="#1079da"/><polygon points="427.42,449.32 434.09,447.42 429,444.94 422.33,446.84" fill="#1484d4"/><polygon points="432.5,451.79 439.18,449.89 434.09,447.42 427.42,449.32" fill="#0f90d2"/><polygon points="437.59,454.27 444.27,452.37 439.18,449.89 432.5,451.79" fill="#079ccf"/><polygon points="442.68,456.75 449.35,454.85 444.27,452.37 437.59,454.27" fill="#06a6c7"/><polygon points="447.77,459.23 454.44,457.33 449.35,454.85 442.68,456.75" fill="#0badbc"/><polygon points="452.86,461.71 459.53,459.8 454.44,457.33 447.77,459.23" fill="#1cb3b0"/><polygon points="457.94,464.19 464.62,462.28 459.53,459.8 452.86,461.71" fill="#33b8a1"/><polygon points="463.03,466.67 469.71,464.76 464.62,462.28 457.94,464.19" fill="#4fbc91"/><polygon points="468.12,469.15 474.79,467.25 469.71,464.76 463.03,466.67" fill="#6ebf82"/><polygon points="473.21,471.63 479.88,469.73 474.79,467.25 468.12,469.15" fill="#8bbf75"/><polygon points="478.3,474.11 484.97,472.21 479.88,469.73 473.21,471.63" fill="#a5be6b"/><polygon points="483.38,476.59 490.06,474.69 484.97,472.21 478.3,474.11" fill="#bdbd61"/><polygon points="488.47,479.07 495.15,477.17 490.06,474.69 483.38,476.59" fill="#d3bb58"/><polygon points="493.56,481.54 500.23,479.65 495.15,477.17 488.47,479.07" fill="#e8b94f"/><polygon points="498.65,484.02 505.32,482.13 500.23,479.65 493.56,481.54" fill="#fbbc41"/><polygon points="503.74,486.5 510.41,484.61 505.32,482.13 498.65,484.02" fill="#fec932"/><polygon points="508.82,488.98 515.5,487.09 510.41,484.61 503.74,486.5" fill="#f8d727"/><polygon points="513.91,491.46 520.59,489.56 515.5,487.09 508.82,488.98" fill="#f5e71b"/><polygon points="519,493.94 525.67,492.04 520.59,489.56 513.91,491.46" fill="#f9fb0e"/></g>
<path d="M396.89 467.8L396.89 339.37M396.89 467.8L519 527.3M519 527.3L679.2 481.8M396.89 467.8L393.65 466.23M396.89 434.44L393.65 432.87M396.89 401.08L393.65 399.51M396.89 367.72L393.65 366.15M508.82 522.34L505.36 523.33M532.35 523.51L535.59 525.08M483.38 509.95L479.92 510.93M565.73 514.03L568.96 515.6M457.94 497.55L454.48 498.54M599.1 504.55L602.34 506.12M432.5 485.16L429.04 486.14M632.48 495.07L635.71 496.64M407.06 472.76L403.6 473.75M665.85 485.59L669.09 487.16" stroke="#4a4a4a" stroke-width="0.9" fill="none"/>
<g font-family="Liberation Sans, sans-serif" font-size="9.6" fill="#4d4d4d" stroke="#4d4d4d" stroke-width="0.15"><text x="389.59" y="467.5" text-anchor="end">-0.02</text><text x="389.59" y="434.14" text-anchor="end">0</text><text x="389.59" y="400.78" text-anchor="end">0.02</text><text x="389.59" y="367.42" text-anchor="end">0.04</text><text x="501.02" y="533.04" text-anchor="end">-10</text><text x="539.05" y="535.01">-10</text><text x="475.58" y="520.65" text-anchor="end">-5</text><text x="572.43" y="525.53">-5</text><text x="450.14" y="508.25" text-anchor="end">0</text><text x="605.8" y="516.05">0</text><text x="424.7" y="495.86" text-anchor="end">5</text><text x="639.18" y="506.57">5</text><text x="399.26" y="483.46" text-anchor="end">10</text><text x="672.55" y="497.09">10</text></g></g>
</g>
<g filter="url(#b2)">
<text x="149.3" y="265.1" font-family="Liberation Serif, serif" font-style="italic" font-size="23.4" fill="#2a2a2a" stroke="#2a2a2a" stroke-width="0.2" textLength="9.8" lengthAdjust="spacingAndGlyphs">k</text>
<text x="161.6" y="270.1" font-family="Liberation Serif, serif" font-style="italic" font-size="13" fill="#2a2a2a" stroke="#2a2a2a" stroke-width="0.12">Bicubic</text>
<text x="523.1" y="265.1" font-family="Liberation Serif, serif" font-style="italic" font-size="23.4" fill="#2a2a2a" stroke="#2a2a2a" stroke-width="0.2" textLength="9.8" lengthAdjust="spacingAndGlyphs">k</text>
<text x="535.7" y="270.6" font-family="Liberation Serif, serif" font-style="italic" font-size="13" fill="#2a2a2a" stroke="#2a2a2a" stroke-width="0.12">IdSR</text>
<text x="153.1" y="567.1" font-family="Liberation Serif, serif" font-style="italic" font-size="23.4" fill="#2a2a2a" stroke="#2a2a2a" stroke-width="0.2" textLength="9.8" lengthAdjust="spacingAndGlyphs">k</text>
<text x="165.9" y="572.1" font-family="Liberation Serif, serif" font-style="italic" font-size="13" fill="#2a2a2a" stroke="#2a2a2a" stroke-width="0.12">ReSR</text>
<text x="519.6" y="567" font-family="Liberation Serif, serif" font-style="italic" font-size="23.4" fill="#2a2a2a" stroke="#2a2a2a" stroke-width="0.2" textLength="9.8" lengthAdjust="spacingAndGlyphs">k</text>
<text x="532.1" y="572.4" font-family="Liberation Serif, serif" font-style="italic" font-size="13" fill="#2a2a2a" stroke="#2a2a2a" stroke-width="0.12">RWSR</text>
</g>
</svg>
</body></html>
